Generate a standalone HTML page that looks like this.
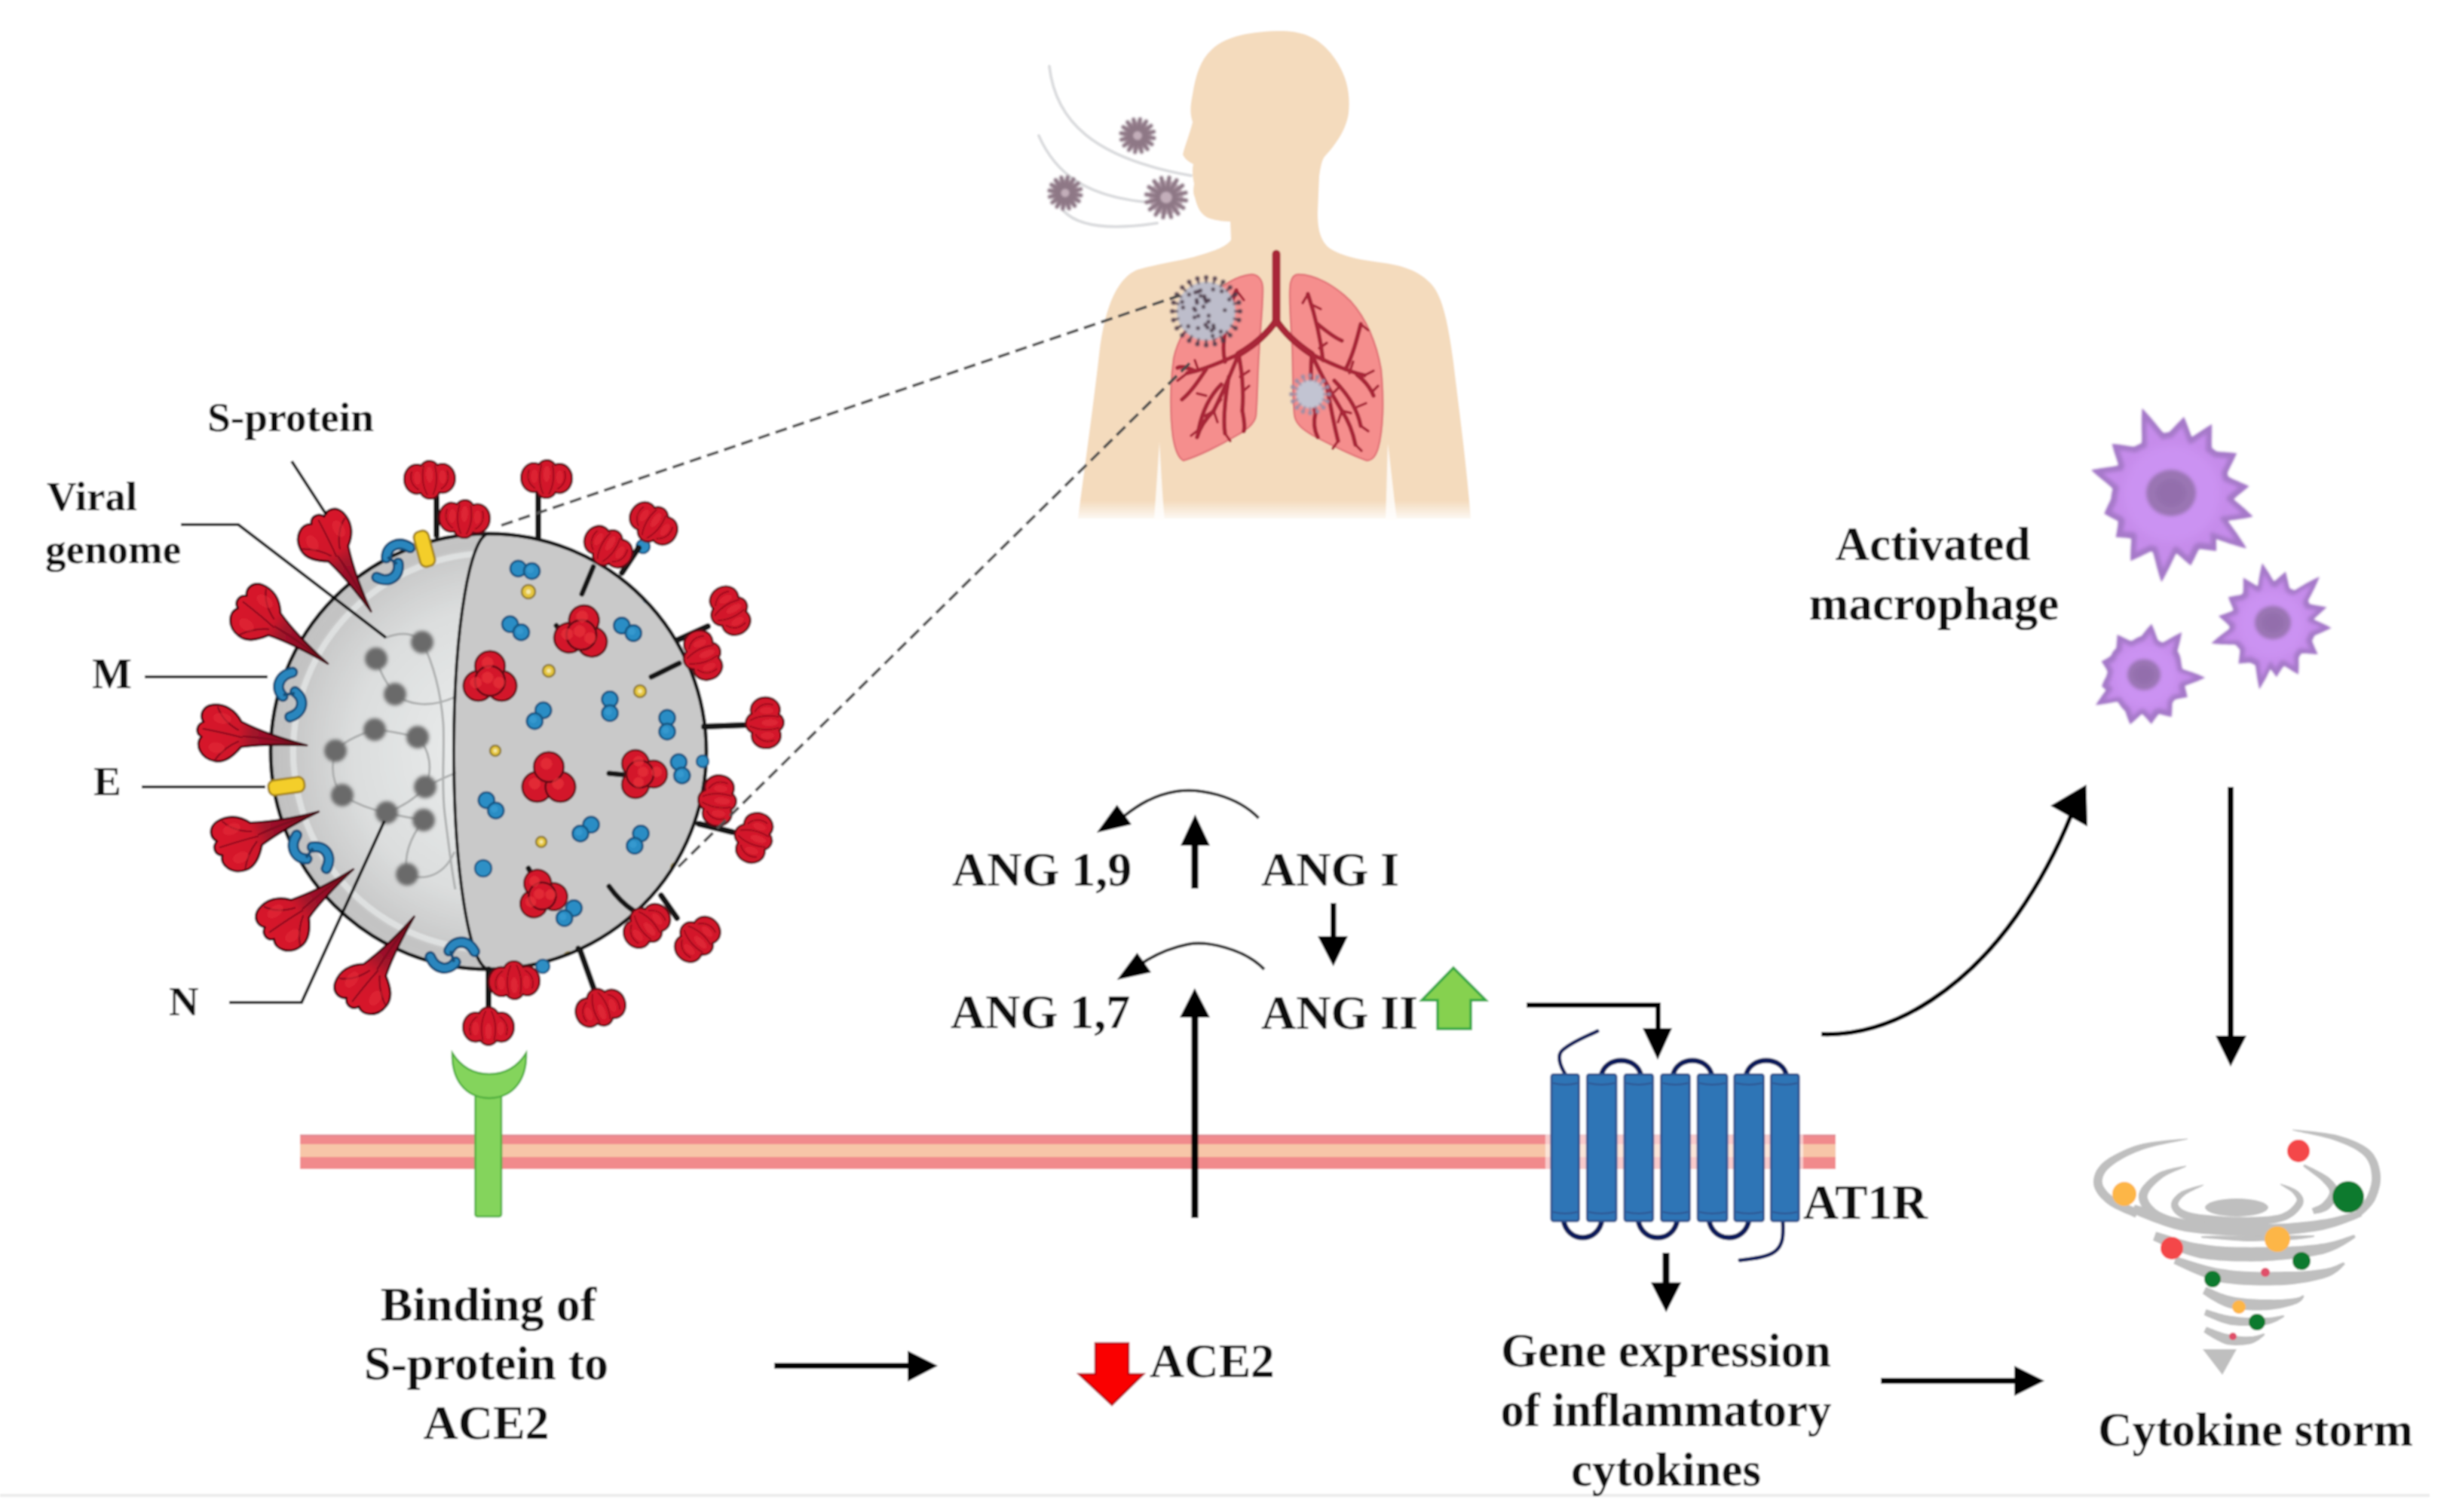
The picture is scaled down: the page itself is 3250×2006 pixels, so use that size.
<!DOCTYPE html>
<html><head><meta charset="utf-8">
<style>
html,body{margin:0;padding:0;background:#fff;width:3250px;height:2006px;overflow:hidden}
svg{display:block}
text{font-family:"Liberation Serif",serif;font-weight:bold;fill:#0a0a0a}
</style></head><body>
<svg width="3250" height="2006" viewBox="0 0 3250 2006">
<defs><filter id="gblur" x="0" y="0" width="3250" height="2006" filterUnits="userSpaceOnUse"><feGaussianBlur stdDeviation="0.8"/></filter></defs><g filter="url(#gblur)"><defs>
<radialGradient id="vgrad" cx="0.52" cy="0.5" r="0.55">
<stop offset="0" stop-color="#eceeee"/><stop offset="0.6" stop-color="#dcdede"/><stop offset="0.9" stop-color="#c4c4c4"/><stop offset="1" stop-color="#b8b8b8"/>
</radialGradient>
<filter id="blur2" x="-20%" y="-20%" width="140%" height="140%"><feGaussianBlur stdDeviation="2"/></filter>
<filter id="blur1" x="-20%" y="-20%" width="140%" height="140%"><feGaussianBlur stdDeviation="1"/></filter>
<filter id="blur4" x="-30%" y="-30%" width="160%" height="160%"><feGaussianBlur stdDeviation="4"/></filter>
</defs>
<rect width="3250" height="2006" fill="#fff"/>
<rect x="0" y="1982" width="3223" height="4" fill="#ebebeb"/>

<g id="human">
<path d="M1702,41 C1660,41 1625,48 1607,66 C1592,80 1586,100 1582,125 C1579,140 1578,150 1582,162 C1578,178 1572,192 1569,205 C1572,212 1578,215 1583,218 C1581,225 1582,235 1584,244 C1583,250 1582,256 1585,262 C1588,275 1593,286 1605,290 C1615,293 1625,294 1632,294 L1633,318 C1628,326 1615,332 1583,341 C1560,347 1535,350 1508,358 C1485,368 1466,400 1458,470 C1450,540 1440,610 1430,688 L1951,688 C1945,610 1935,540 1928,480 C1920,420 1912,390 1897,375 C1880,358 1860,352 1830,348 C1795,344 1770,336 1760,326 C1750,315 1748,300 1748,282 L1750,234 C1752,220 1754,212 1757,208 C1772,192 1786,172 1789,150 C1792,120 1785,95 1765,70 C1748,50 1730,42 1702,41 Z" fill="#F4DBBD"/>
<path d="M1538,586 C1536,620 1533,660 1531,690 L1545,690 C1542,660 1540,620 1538,586 Z" fill="#FDF8F2"/>
<path d="M1841,588 C1840,620 1839,660 1838,690 L1853,690 C1849,660 1845,620 1841,588 Z" fill="#FDF8F2"/>
<defs><linearGradient id="hfade" x1="0" y1="0" x2="0" y2="1"><stop offset="0" stop-color="#fff" stop-opacity="0"/><stop offset="1" stop-color="#fff" stop-opacity="0.95"/></linearGradient></defs><rect x="1420" y="664" width="540" height="28" fill="url(#hfade)"/>
<g fill="none" stroke="#DCDDDF" stroke-width="4" stroke-linecap="round">
<path d="M1392,88 C1400,160 1450,210 1580,233"/>
<path d="M1378,180 C1400,230 1440,260 1519,268"/>
<path d="M1411,280 C1430,300 1470,306 1535,296"/>
</g>
<path d="M1660,364 C1640,366 1620,378 1600,400 C1578,425 1562,450 1557,475 C1552,510 1552,550 1556,580 C1559,598 1563,608 1570,611 C1590,605 1620,590 1640,578 C1655,570 1664,562 1666,552 C1668,530 1668,500 1670,470 C1672,430 1676,400 1675,380 C1674,370 1668,364 1660,364 Z" fill="#F58E8D" stroke="#E2767A" stroke-width="2.5"/>
<path d="M1722,364 C1744,364 1770,378 1792,400 C1812,422 1826,455 1832,490 C1836,530 1835,570 1828,595 C1825,605 1820,611 1813,611 C1795,605 1765,590 1742,578 C1728,570 1718,562 1717,550 C1714,520 1716,480 1713,440 C1711,410 1710,385 1712,375 C1714,367 1718,364 1722,364 Z" fill="#F58E8D" stroke="#E2767A" stroke-width="2.5"/>
<g fill="none" stroke="#A82638" stroke-linecap="round" stroke-linejoin="round">
<path d="M1693,337 L1693,428" stroke-width="11"/>
<path d="M1693,425 C1680,445 1660,460 1643,470" stroke-width="9"/>
<path d="M1693,425 C1706,445 1725,460 1740,470" stroke-width="9"/>
<path d="M1643,470 C1625,478 1600,490 1575,495" stroke-width="5.5"/>
<path d="M1643,470 C1635,490 1625,515 1610,545" stroke-width="5.5"/>
<path d="M1643,470 C1648,495 1650,520 1648,545" stroke-width="5.5"/>
<path d="M1625,480 C1620,460 1625,420 1640,385" stroke-width="5.5"/>
<path d="M1600,490 C1590,505 1580,520 1568,530" stroke-width="5.5"/>
<path d="M1620,510 C1605,525 1595,545 1590,570" stroke-width="5.5"/>
<path d="M1610,545 C1600,555 1592,565 1588,580" stroke-width="5.5"/>
<path d="M1630,500 C1625,530 1622,555 1625,575" stroke-width="5.5"/>
<path d="M1648,545 C1650,555 1652,565 1650,572" stroke-width="5.5"/>
<path d="M1632,420 C1625,432 1620,440 1612,448" stroke-width="5.5"/>
<path d="M1585,492 C1575,488 1568,485 1562,488" stroke-width="5.5"/>
<path d="M1740,470 C1760,480 1785,492 1810,498" stroke-width="5.5"/>
<path d="M1740,470 C1750,492 1765,520 1780,545" stroke-width="5.5"/>
<path d="M1740,470 C1738,495 1740,525 1745,548" stroke-width="5.5"/>
<path d="M1755,478 C1752,450 1745,420 1735,390" stroke-width="5.5"/>
<path d="M1785,490 C1795,470 1800,450 1805,430" stroke-width="5.5"/>
<path d="M1770,505 C1785,520 1800,540 1805,565" stroke-width="5.5"/>
<path d="M1780,545 C1790,560 1795,575 1798,590" stroke-width="5.5"/>
<path d="M1760,510 C1765,540 1770,565 1775,585" stroke-width="5.5"/>
<path d="M1800,497 C1810,505 1818,515 1822,525" stroke-width="5.5"/>
<path d="M1748,430 C1760,440 1770,448 1780,452" stroke-width="5.5"/>
<path d="M1745,548 C1742,560 1744,572 1748,580" stroke-width="5.5"/>
<path d="M1575,495 L1562,505" stroke-width="3.5"/>
<path d="M1590,492 L1585,478" stroke-width="3.5"/>
<path d="M1610,545 L1598,552" stroke-width="3.5"/>
<path d="M1610,545 L1615,560" stroke-width="3.5"/>
<path d="M1600,525 L1588,522" stroke-width="3.5"/>
<path d="M1625,575 L1632,585" stroke-width="3.5"/>
<path d="M1620,530 L1612,540" stroke-width="3.5"/>
<path d="M1640,385 L1650,398" stroke-width="3.5"/>
<path d="M1636,400 L1626,405" stroke-width="3.5"/>
<path d="M1648,520 L1657,512" stroke-width="3.5"/>
<path d="M1645,500 L1657,492" stroke-width="3.5"/>
<path d="M1590,570 L1580,578" stroke-width="3.5"/>
<path d="M1810,498 L1822,492" stroke-width="3.5"/>
<path d="M1790,495 L1795,480" stroke-width="3.5"/>
<path d="M1780,545 L1792,548" stroke-width="3.5"/>
<path d="M1780,545 L1775,560" stroke-width="3.5"/>
<path d="M1800,540 L1812,535" stroke-width="3.5"/>
<path d="M1775,585 L1768,595" stroke-width="3.5"/>
<path d="M1770,520 L1778,512" stroke-width="3.5"/>
<path d="M1735,390 L1728,402" stroke-width="3.5"/>
<path d="M1742,405 L1752,410" stroke-width="3.5"/>
<path d="M1745,520 L1735,512" stroke-width="3.5"/>
<path d="M1805,565 L1815,572" stroke-width="3.5"/>
<path d="M1798,590 L1806,598" stroke-width="3.5"/>
<path d="M1805,430 L1815,438" stroke-width="3.5"/>
<path d="M1760,455 L1750,462" stroke-width="3.5"/>
<path d="M1820,520 L1828,512" stroke-width="3.5"/>
</g>
<g filter="url(#blur1)"><circle cx="1509" cy="180" r="18.7" fill="#C3AEBA"/><line x1="1517.3" y1="181.3" x2="1530.8" y2="183.3" stroke="#8E7886" stroke-width="5.5" stroke-linecap="round"/><line x1="1516.2" y1="184.3" x2="1527.9" y2="191.4" stroke="#8E7886" stroke-width="5.5" stroke-linecap="round"/><line x1="1514" y1="186.8" x2="1522.1" y2="197.8" stroke="#8E7886" stroke-width="5.5" stroke-linecap="round"/><line x1="1511" y1="188.2" x2="1514.3" y2="201.4" stroke="#8E7886" stroke-width="5.5" stroke-linecap="round"/><line x1="1507.7" y1="188.3" x2="1505.7" y2="201.8" stroke="#8E7886" stroke-width="5.5" stroke-linecap="round"/><line x1="1504.7" y1="187.2" x2="1497.6" y2="198.9" stroke="#8E7886" stroke-width="5.5" stroke-linecap="round"/><line x1="1502.2" y1="185" x2="1491.2" y2="193.1" stroke="#8E7886" stroke-width="5.5" stroke-linecap="round"/><line x1="1500.8" y1="182" x2="1487.6" y2="185.3" stroke="#8E7886" stroke-width="5.5" stroke-linecap="round"/><line x1="1500.7" y1="178.7" x2="1487.2" y2="176.7" stroke="#8E7886" stroke-width="5.5" stroke-linecap="round"/><line x1="1501.8" y1="175.7" x2="1490.1" y2="168.6" stroke="#8E7886" stroke-width="5.5" stroke-linecap="round"/><line x1="1504" y1="173.2" x2="1495.9" y2="162.2" stroke="#8E7886" stroke-width="5.5" stroke-linecap="round"/><line x1="1507" y1="171.8" x2="1503.7" y2="158.6" stroke="#8E7886" stroke-width="5.5" stroke-linecap="round"/><line x1="1510.3" y1="171.7" x2="1512.3" y2="158.2" stroke="#8E7886" stroke-width="5.5" stroke-linecap="round"/><line x1="1513.3" y1="172.8" x2="1520.4" y2="161.1" stroke="#8E7886" stroke-width="5.5" stroke-linecap="round"/><line x1="1515.8" y1="175" x2="1526.8" y2="166.9" stroke="#8E7886" stroke-width="5.5" stroke-linecap="round"/><line x1="1517.2" y1="178" x2="1530.4" y2="174.7" stroke="#8E7886" stroke-width="5.5" stroke-linecap="round"/></g>
<g filter="url(#blur1)"><circle cx="1413" cy="256" r="17.9" fill="#C3AEBA"/><line x1="1421" y1="257.2" x2="1433.9" y2="259.2" stroke="#8E7886" stroke-width="5.5" stroke-linecap="round"/><line x1="1419.9" y1="260.2" x2="1431.1" y2="266.9" stroke="#8E7886" stroke-width="5.5" stroke-linecap="round"/><line x1="1417.8" y1="262.5" x2="1425.6" y2="273" stroke="#8E7886" stroke-width="5.5" stroke-linecap="round"/><line x1="1414.9" y1="263.8" x2="1418.1" y2="276.5" stroke="#8E7886" stroke-width="5.5" stroke-linecap="round"/><line x1="1411.8" y1="264" x2="1409.8" y2="276.9" stroke="#8E7886" stroke-width="5.5" stroke-linecap="round"/><line x1="1408.8" y1="262.9" x2="1402.1" y2="274.1" stroke="#8E7886" stroke-width="5.5" stroke-linecap="round"/><line x1="1406.5" y1="260.8" x2="1396" y2="268.6" stroke="#8E7886" stroke-width="5.5" stroke-linecap="round"/><line x1="1405.2" y1="257.9" x2="1392.5" y2="261.1" stroke="#8E7886" stroke-width="5.5" stroke-linecap="round"/><line x1="1405" y1="254.8" x2="1392.1" y2="252.8" stroke="#8E7886" stroke-width="5.5" stroke-linecap="round"/><line x1="1406.1" y1="251.8" x2="1394.9" y2="245.1" stroke="#8E7886" stroke-width="5.5" stroke-linecap="round"/><line x1="1408.2" y1="249.5" x2="1400.4" y2="239" stroke="#8E7886" stroke-width="5.5" stroke-linecap="round"/><line x1="1411.1" y1="248.2" x2="1407.9" y2="235.5" stroke="#8E7886" stroke-width="5.5" stroke-linecap="round"/><line x1="1414.2" y1="248" x2="1416.2" y2="235.1" stroke="#8E7886" stroke-width="5.5" stroke-linecap="round"/><line x1="1417.2" y1="249.1" x2="1423.9" y2="237.9" stroke="#8E7886" stroke-width="5.5" stroke-linecap="round"/><line x1="1419.5" y1="251.2" x2="1430" y2="243.4" stroke="#8E7886" stroke-width="5.5" stroke-linecap="round"/><line x1="1420.8" y1="254.1" x2="1433.5" y2="250.9" stroke="#8E7886" stroke-width="5.5" stroke-linecap="round"/></g>
<g filter="url(#blur1)"><circle cx="1547" cy="262" r="22.6" fill="#C3AEBA"/><line x1="1557" y1="263.5" x2="1573.4" y2="266" stroke="#8E7886" stroke-width="5.5" stroke-linecap="round"/><line x1="1555.7" y1="267.2" x2="1569.8" y2="275.8" stroke="#8E7886" stroke-width="5.5" stroke-linecap="round"/><line x1="1553" y1="270.2" x2="1562.8" y2="283.5" stroke="#8E7886" stroke-width="5.5" stroke-linecap="round"/><line x1="1549.4" y1="271.9" x2="1553.4" y2="287.9" stroke="#8E7886" stroke-width="5.5" stroke-linecap="round"/><line x1="1545.5" y1="272" x2="1543" y2="288.4" stroke="#8E7886" stroke-width="5.5" stroke-linecap="round"/><line x1="1541.8" y1="270.7" x2="1533.2" y2="284.8" stroke="#8E7886" stroke-width="5.5" stroke-linecap="round"/><line x1="1538.8" y1="268" x2="1525.5" y2="277.8" stroke="#8E7886" stroke-width="5.5" stroke-linecap="round"/><line x1="1537.1" y1="264.4" x2="1521.1" y2="268.4" stroke="#8E7886" stroke-width="5.5" stroke-linecap="round"/><line x1="1537" y1="260.5" x2="1520.6" y2="258" stroke="#8E7886" stroke-width="5.5" stroke-linecap="round"/><line x1="1538.3" y1="256.8" x2="1524.2" y2="248.2" stroke="#8E7886" stroke-width="5.5" stroke-linecap="round"/><line x1="1541" y1="253.8" x2="1531.2" y2="240.5" stroke="#8E7886" stroke-width="5.5" stroke-linecap="round"/><line x1="1544.6" y1="252.1" x2="1540.6" y2="236.1" stroke="#8E7886" stroke-width="5.5" stroke-linecap="round"/><line x1="1548.5" y1="252" x2="1551" y2="235.6" stroke="#8E7886" stroke-width="5.5" stroke-linecap="round"/><line x1="1552.2" y1="253.3" x2="1560.8" y2="239.2" stroke="#8E7886" stroke-width="5.5" stroke-linecap="round"/><line x1="1555.2" y1="256" x2="1568.5" y2="246.2" stroke="#8E7886" stroke-width="5.5" stroke-linecap="round"/><line x1="1556.9" y1="259.6" x2="1572.9" y2="255.6" stroke="#8E7886" stroke-width="5.5" stroke-linecap="round"/></g>
<g filter="url(#blur1)"><circle cx="1600" cy="413" r="39" fill="#BDBDCB"/><line x1="1637" y1="413" x2="1645" y2="413" stroke="#4E3A4A" stroke-width="2.6"/><circle cx="1645" cy="413" r="2.8" fill="#4E3A4A"/><line x1="1635.7" y1="422.6" x2="1643.5" y2="424.6" stroke="#4E3A4A" stroke-width="2.6"/><circle cx="1643.5" cy="424.6" r="2.8" fill="#4E3A4A"/><line x1="1632" y1="431.5" x2="1639" y2="435.5" stroke="#4E3A4A" stroke-width="2.6"/><circle cx="1639" cy="435.5" r="2.8" fill="#4E3A4A"/><line x1="1626.2" y1="439.2" x2="1631.8" y2="444.8" stroke="#4E3A4A" stroke-width="2.6"/><circle cx="1631.8" cy="444.8" r="2.8" fill="#4E3A4A"/><line x1="1618.5" y1="445" x2="1622.5" y2="452" stroke="#4E3A4A" stroke-width="2.6"/><circle cx="1622.5" cy="452" r="2.8" fill="#4E3A4A"/><line x1="1609.6" y1="448.7" x2="1611.6" y2="456.5" stroke="#4E3A4A" stroke-width="2.6"/><circle cx="1611.6" cy="456.5" r="2.8" fill="#4E3A4A"/><line x1="1600" y1="450" x2="1600" y2="458" stroke="#4E3A4A" stroke-width="2.6"/><circle cx="1600" cy="458" r="2.8" fill="#4E3A4A"/><line x1="1590.4" y1="448.7" x2="1588.4" y2="456.5" stroke="#4E3A4A" stroke-width="2.6"/><circle cx="1588.4" cy="456.5" r="2.8" fill="#4E3A4A"/><line x1="1581.5" y1="445" x2="1577.5" y2="452" stroke="#4E3A4A" stroke-width="2.6"/><circle cx="1577.5" cy="452" r="2.8" fill="#4E3A4A"/><line x1="1573.8" y1="439.2" x2="1568.2" y2="444.8" stroke="#4E3A4A" stroke-width="2.6"/><circle cx="1568.2" cy="444.8" r="2.8" fill="#4E3A4A"/><line x1="1568" y1="431.5" x2="1561" y2="435.5" stroke="#4E3A4A" stroke-width="2.6"/><circle cx="1561" cy="435.5" r="2.8" fill="#4E3A4A"/><line x1="1564.3" y1="422.6" x2="1556.5" y2="424.6" stroke="#4E3A4A" stroke-width="2.6"/><circle cx="1556.5" cy="424.6" r="2.8" fill="#4E3A4A"/><line x1="1563" y1="413" x2="1555" y2="413" stroke="#4E3A4A" stroke-width="2.6"/><circle cx="1555" cy="413" r="2.8" fill="#4E3A4A"/><line x1="1564.3" y1="403.4" x2="1556.5" y2="401.4" stroke="#4E3A4A" stroke-width="2.6"/><circle cx="1556.5" cy="401.4" r="2.8" fill="#4E3A4A"/><line x1="1568" y1="394.5" x2="1561" y2="390.5" stroke="#4E3A4A" stroke-width="2.6"/><circle cx="1561" cy="390.5" r="2.8" fill="#4E3A4A"/><line x1="1573.8" y1="386.8" x2="1568.2" y2="381.2" stroke="#4E3A4A" stroke-width="2.6"/><circle cx="1568.2" cy="381.2" r="2.8" fill="#4E3A4A"/><line x1="1581.5" y1="381" x2="1577.5" y2="374" stroke="#4E3A4A" stroke-width="2.6"/><circle cx="1577.5" cy="374" r="2.8" fill="#4E3A4A"/><line x1="1590.4" y1="377.3" x2="1588.4" y2="369.5" stroke="#4E3A4A" stroke-width="2.6"/><circle cx="1588.4" cy="369.5" r="2.8" fill="#4E3A4A"/><line x1="1600" y1="376" x2="1600" y2="368" stroke="#4E3A4A" stroke-width="2.6"/><circle cx="1600" cy="368" r="2.8" fill="#4E3A4A"/><line x1="1609.6" y1="377.3" x2="1611.6" y2="369.5" stroke="#4E3A4A" stroke-width="2.6"/><circle cx="1611.6" cy="369.5" r="2.8" fill="#4E3A4A"/><line x1="1618.5" y1="381" x2="1622.5" y2="374" stroke="#4E3A4A" stroke-width="2.6"/><circle cx="1622.5" cy="374" r="2.8" fill="#4E3A4A"/><line x1="1626.2" y1="386.8" x2="1631.8" y2="381.2" stroke="#4E3A4A" stroke-width="2.6"/><circle cx="1631.8" cy="381.2" r="2.8" fill="#4E3A4A"/><line x1="1632" y1="394.5" x2="1639" y2="390.5" stroke="#4E3A4A" stroke-width="2.6"/><circle cx="1639" cy="390.5" r="2.8" fill="#4E3A4A"/><line x1="1635.7" y1="403.4" x2="1643.5" y2="401.4" stroke="#4E3A4A" stroke-width="2.6"/><circle cx="1643.5" cy="401.4" r="2.8" fill="#4E3A4A"/><circle cx="1609.6" cy="431.9" r="2.6" fill="#4E3A4A"/><circle cx="1597.6" cy="393.2" r="2.6" fill="#4E3A4A"/><circle cx="1603.4" cy="418.8" r="2.6" fill="#4E3A4A"/><circle cx="1620.7" cy="386.4" r="2.6" fill="#4E3A4A"/><circle cx="1609.2" cy="383.9" r="2.6" fill="#4E3A4A"/><circle cx="1577.3" cy="390.8" r="2.6" fill="#4E3A4A"/><circle cx="1603.1" cy="426.9" r="2.6" fill="#4E3A4A"/><circle cx="1630.7" cy="397.3" r="2.6" fill="#4E3A4A"/><circle cx="1589.2" cy="386.9" r="2.6" fill="#4E3A4A"/><circle cx="1584.5" cy="421" r="2.6" fill="#4E3A4A"/><circle cx="1587.4" cy="398.2" r="2.6" fill="#4E3A4A"/><circle cx="1624.8" cy="411.5" r="2.6" fill="#4E3A4A"/><circle cx="1585.6" cy="411.5" r="2.6" fill="#4E3A4A"/><circle cx="1619.5" cy="439.9" r="2.6" fill="#4E3A4A"/><circle cx="1589.6" cy="419.1" r="2.6" fill="#4E3A4A"/><circle cx="1576.3" cy="432.9" r="2.6" fill="#4E3A4A"/><circle cx="1587.9" cy="401.7" r="2.6" fill="#4E3A4A"/><circle cx="1601.9" cy="434.5" r="2.6" fill="#4E3A4A"/><circle cx="1568.1" cy="400.6" r="2.6" fill="#4E3A4A"/><circle cx="1608.6" cy="445.6" r="2.6" fill="#4E3A4A"/><circle cx="1603.5" cy="398.4" r="2.6" fill="#4E3A4A"/><circle cx="1585.7" cy="387.8" r="2.6" fill="#4E3A4A"/><circle cx="1592.7" cy="392.5" r="2.6" fill="#4E3A4A"/><circle cx="1607.3" cy="438.5" r="2.6" fill="#4E3A4A"/><circle cx="1596.5" cy="406.9" r="2.6" fill="#4E3A4A"/><circle cx="1610.2" cy="435.5" r="2.6" fill="#4E3A4A"/><circle cx="1569.3" cy="407.9" r="2.6" fill="#4E3A4A"/><circle cx="1584" cy="409.3" r="2.6" fill="#4E3A4A"/><circle cx="1599.1" cy="430.9" r="2.6" fill="#4E3A4A"/><circle cx="1598.4" cy="396.7" r="2.6" fill="#4E3A4A"/><circle cx="1592.5" cy="385.4" r="2.6" fill="#4E3A4A"/><circle cx="1599.9" cy="400.4" r="2.6" fill="#4E3A4A"/><circle cx="1589.2" cy="435.3" r="2.6" fill="#4E3A4A"/></g>
<g filter="url(#blur1)"><circle cx="1738" cy="523" r="19" fill="#C2C4D2"/><line x1="1755" y1="523" x2="1763" y2="523" stroke="#9A8EA6" stroke-width="2.6"/><circle cx="1763" cy="523" r="2.8" fill="#9A8EA6"/><line x1="1753.7" y1="529.5" x2="1761.1" y2="532.6" stroke="#9A8EA6" stroke-width="2.6"/><circle cx="1761.1" cy="532.6" r="2.8" fill="#9A8EA6"/><line x1="1750" y1="535" x2="1755.7" y2="540.7" stroke="#9A8EA6" stroke-width="2.6"/><circle cx="1755.7" cy="540.7" r="2.8" fill="#9A8EA6"/><line x1="1744.5" y1="538.7" x2="1747.6" y2="546.1" stroke="#9A8EA6" stroke-width="2.6"/><circle cx="1747.6" cy="546.1" r="2.8" fill="#9A8EA6"/><line x1="1738" y1="540" x2="1738" y2="548" stroke="#9A8EA6" stroke-width="2.6"/><circle cx="1738" cy="548" r="2.8" fill="#9A8EA6"/><line x1="1731.5" y1="538.7" x2="1728.4" y2="546.1" stroke="#9A8EA6" stroke-width="2.6"/><circle cx="1728.4" cy="546.1" r="2.8" fill="#9A8EA6"/><line x1="1726" y1="535" x2="1720.3" y2="540.7" stroke="#9A8EA6" stroke-width="2.6"/><circle cx="1720.3" cy="540.7" r="2.8" fill="#9A8EA6"/><line x1="1722.3" y1="529.5" x2="1714.9" y2="532.6" stroke="#9A8EA6" stroke-width="2.6"/><circle cx="1714.9" cy="532.6" r="2.8" fill="#9A8EA6"/><line x1="1721" y1="523" x2="1713" y2="523" stroke="#9A8EA6" stroke-width="2.6"/><circle cx="1713" cy="523" r="2.8" fill="#9A8EA6"/><line x1="1722.3" y1="516.5" x2="1714.9" y2="513.4" stroke="#9A8EA6" stroke-width="2.6"/><circle cx="1714.9" cy="513.4" r="2.8" fill="#9A8EA6"/><line x1="1726" y1="511" x2="1720.3" y2="505.3" stroke="#9A8EA6" stroke-width="2.6"/><circle cx="1720.3" cy="505.3" r="2.8" fill="#9A8EA6"/><line x1="1731.5" y1="507.3" x2="1728.4" y2="499.9" stroke="#9A8EA6" stroke-width="2.6"/><circle cx="1728.4" cy="499.9" r="2.8" fill="#9A8EA6"/><line x1="1738" y1="506" x2="1738" y2="498" stroke="#9A8EA6" stroke-width="2.6"/><circle cx="1738" cy="498" r="2.8" fill="#9A8EA6"/><line x1="1744.5" y1="507.3" x2="1747.6" y2="499.9" stroke="#9A8EA6" stroke-width="2.6"/><circle cx="1747.6" cy="499.9" r="2.8" fill="#9A8EA6"/><line x1="1750" y1="511" x2="1755.7" y2="505.3" stroke="#9A8EA6" stroke-width="2.6"/><circle cx="1755.7" cy="505.3" r="2.8" fill="#9A8EA6"/><line x1="1753.7" y1="516.5" x2="1761.1" y2="513.4" stroke="#9A8EA6" stroke-width="2.6"/><circle cx="1761.1" cy="513.4" r="2.8" fill="#9A8EA6"/></g>
</g>
<g id="virus">
<clipPath id="vclip"><circle cx="648" cy="997" r="289"/></clipPath>
<circle cx="648" cy="997" r="289" fill="url(#vgrad)"/>
<g clip-path="url(#vclip)">
<circle cx="652" cy="997" r="263" fill="none" stroke="#e4e6e6" stroke-width="8" opacity="0.8"/>
<circle cx="652" cy="997" r="275" fill="none" stroke="#c2c2c2" stroke-width="10" opacity="0.7"/>
<path d="M650,706 A47,291 0 0 0 650,1288 L1000,1288 L1000,706 Z" fill="#C9C9C9"/>
</g>
<g fill="none" stroke="#A9ABAB" stroke-width="3" opacity="0.9">
<path d="M512,846 C540,835 555,845 560,852"/>
<path d="M560,852 C575,880 585,920 588,960 C590,1000 585,1040 590,1080 C595,1120 600,1160 604,1180"/>
<path d="M499,874 C505,895 515,910 524,921"/>
<path d="M524,921 C540,935 570,940 603,925"/>
<path d="M497,968 C520,970 540,975 554,978"/>
<path d="M497,968 C475,975 455,985 445,996"/>
<path d="M445,996 C438,1020 442,1040 454,1055"/>
<path d="M454,1055 C475,1068 495,1075 513,1078"/>
<path d="M513,1078 C535,1070 550,1060 564,1045"/>
<path d="M554,978 C570,995 575,1020 564,1045"/>
<path d="M564,1045 C580,1035 595,1030 605,1025"/>
<path d="M562,1088 C545,1110 535,1135 540,1160"/>
<path d="M540,1160 C565,1170 590,1160 603,1130"/>
<path d="M513,1078 C525,1082 545,1085 562,1088"/>
</g>
<g fill="#6a6b6b" filter="url(#blur2)">
<circle cx="499" cy="874" r="15"/>
<circle cx="560" cy="852" r="15"/>
<circle cx="524" cy="921" r="15"/>
<circle cx="497" cy="968" r="15"/>
<circle cx="554" cy="978" r="15"/>
<circle cx="445" cy="996" r="15"/>
<circle cx="564" cy="1044" r="15"/>
<circle cx="454" cy="1055" r="15"/>
<circle cx="513" cy="1078" r="15"/>
<circle cx="562" cy="1088" r="15"/>
<circle cx="540" cy="1160" r="15"/>
</g>
<g clip-path="url(#vclip)">
<g stroke="#151515" stroke-width="7" stroke-linecap="round" fill="none">
<path d="M787,752 L772,788"/>
<path d="M901,880 C890,885 875,893 864,898"/>
<path d="M808,1026 L828,1028"/>
<path d="M701,1152 L712,1172"/>
<path d="M808,1176 C818,1190 828,1200 840,1208"/>
<path d="M767,1258 L780,1290"/>
<path d="M738,830 L745,840"/>
</g>
<circle cx="687.5" cy="754.3" r="10.5" fill="#2A8DC5" stroke="#185683" stroke-width="2.8"/><circle cx="705.5" cy="757.7" r="10.5" fill="#2A8DC5" stroke="#185683" stroke-width="2.8"/><circle cx="703.5" cy="755.7" r="4.7" fill="#3FA2D6" opacity="0.6"/>
<circle cx="676.6" cy="828.1" r="10.5" fill="#2A8DC5" stroke="#185683" stroke-width="2.8"/><circle cx="691.4" cy="838.9" r="10.5" fill="#2A8DC5" stroke="#185683" stroke-width="2.8"/><circle cx="689.4" cy="836.9" r="4.7" fill="#3FA2D6" opacity="0.6"/>
<circle cx="824.8" cy="830" r="10.5" fill="#2A8DC5" stroke="#185683" stroke-width="2.8"/><circle cx="840.2" cy="840" r="10.5" fill="#2A8DC5" stroke="#185683" stroke-width="2.8"/><circle cx="838.2" cy="838" r="4.7" fill="#3FA2D6" opacity="0.6"/>
<circle cx="720.7" cy="942.3" r="10.5" fill="#2A8DC5" stroke="#185683" stroke-width="2.8"/><circle cx="709.3" cy="956.7" r="10.5" fill="#2A8DC5" stroke="#185683" stroke-width="2.8"/><circle cx="707.3" cy="954.7" r="4.7" fill="#3FA2D6" opacity="0.6"/>
<circle cx="809" cy="927.8" r="10.5" fill="#2A8DC5" stroke="#185683" stroke-width="2.8"/><circle cx="809" cy="946.2" r="10.5" fill="#2A8DC5" stroke="#185683" stroke-width="2.8"/><circle cx="807" cy="944.2" r="4.7" fill="#3FA2D6" opacity="0.6"/>
<circle cx="885" cy="952.3" r="10.5" fill="#2A8DC5" stroke="#185683" stroke-width="2.8"/><circle cx="885" cy="970.7" r="10.5" fill="#2A8DC5" stroke="#185683" stroke-width="2.8"/><circle cx="883" cy="968.7" r="4.7" fill="#3FA2D6" opacity="0.6"/>
<circle cx="645.3" cy="1061.7" r="10.5" fill="#2A8DC5" stroke="#185683" stroke-width="2.8"/><circle cx="657.7" cy="1075.3" r="10.5" fill="#2A8DC5" stroke="#185683" stroke-width="2.8"/><circle cx="655.7" cy="1073.3" r="4.7" fill="#3FA2D6" opacity="0.6"/>
<circle cx="784.1" cy="1094.1" r="10.5" fill="#2A8DC5" stroke="#185683" stroke-width="2.8"/><circle cx="769.9" cy="1105.9" r="10.5" fill="#2A8DC5" stroke="#185683" stroke-width="2.8"/><circle cx="767.9" cy="1103.9" r="4.7" fill="#3FA2D6" opacity="0.6"/>
<circle cx="850.1" cy="1105.8" r="10.5" fill="#2A8DC5" stroke="#185683" stroke-width="2.8"/><circle cx="841.9" cy="1122.2" r="10.5" fill="#2A8DC5" stroke="#185683" stroke-width="2.8"/><circle cx="839.9" cy="1120.2" r="4.7" fill="#3FA2D6" opacity="0.6"/>
<circle cx="761.3" cy="1204.8" r="10.5" fill="#2A8DC5" stroke="#185683" stroke-width="2.8"/><circle cx="748.7" cy="1218.2" r="10.5" fill="#2A8DC5" stroke="#185683" stroke-width="2.8"/><circle cx="746.7" cy="1216.2" r="4.7" fill="#3FA2D6" opacity="0.6"/>
<circle cx="862.5" cy="790.5" r="10.5" fill="#2A8DC5" stroke="#185683" stroke-width="2.8"/><circle cx="875.5" cy="803.5" r="10.5" fill="#2A8DC5" stroke="#185683" stroke-width="2.8"/><circle cx="873.5" cy="801.5" r="4.7" fill="#3FA2D6" opacity="0.6"/>
<circle cx="900.3" cy="1011.1" r="10.5" fill="#2A8DC5" stroke="#185683" stroke-width="2.8"/><circle cx="904.7" cy="1028.9" r="10.5" fill="#2A8DC5" stroke="#185683" stroke-width="2.8"/><circle cx="902.7" cy="1026.9" r="4.7" fill="#3FA2D6" opacity="0.6"/>
<circle cx="641" cy="1152" r="11" fill="#2E90C6" stroke="#1B5A86" stroke-width="2.5"/>
<circle cx="701" cy="785" r="9" fill="#E6C640" stroke="#8F7A2A" stroke-width="2.5"/><circle cx="701" cy="785" r="3.1" fill="#F4E9A8"/>
<circle cx="728" cy="890" r="8" fill="#E6C640" stroke="#8F7A2A" stroke-width="2.5"/><circle cx="728" cy="890" r="2.8" fill="#F4E9A8"/>
<circle cx="849" cy="917" r="8" fill="#E6C640" stroke="#8F7A2A" stroke-width="2.5"/><circle cx="849" cy="917" r="2.8" fill="#F4E9A8"/>
<circle cx="657" cy="996" r="7" fill="#E6C640" stroke="#8F7A2A" stroke-width="2.5"/><circle cx="657" cy="996" r="2.4" fill="#F4E9A8"/>
<circle cx="718" cy="1117" r="7" fill="#E6C640" stroke="#8F7A2A" stroke-width="2.5"/><circle cx="718" cy="1117" r="2.4" fill="#F4E9A8"/>
<circle cx="898" cy="1152" r="8" fill="#E6C640" stroke="#8F7A2A" stroke-width="2.5"/><circle cx="898" cy="1152" r="2.8" fill="#F4E9A8"/>
<circle cx="755" cy="1271" r="8" fill="#E6C640" stroke="#8F7A2A" stroke-width="2.5"/><circle cx="755" cy="1271" r="2.8" fill="#F4E9A8"/>
<g transform="translate(772,838) rotate(10) scale(1.1)"><circle cx="-14" cy="10" r="18" fill="#D3192B" stroke="#5C0A12" stroke-width="2.5"/><circle cx="14" cy="10" r="18" fill="#D3192B" stroke="#5C0A12" stroke-width="2.5"/><circle cx="0" cy="-14" r="18" fill="#D3192B" stroke="#5C0A12" stroke-width="2.5"/><circle cx="0" cy="4" r="18" fill="#D3192B" stroke="#5C0A12" stroke-width="2.5"/><circle cx="-17" cy="6" r="7" fill="#E8303C" opacity="0.7"/><circle cx="11" cy="6" r="7" fill="#E8303C" opacity="0.7"/><circle cx="-3" cy="-18" r="7" fill="#E8303C" opacity="0.7"/><circle cx="-3" cy="0" r="7" fill="#E8303C" opacity="0.7"/></g>
<g transform="translate(650,899) rotate(0) scale(1.1)"><circle cx="-14" cy="10" r="18" fill="#D3192B" stroke="#5C0A12" stroke-width="2.5"/><circle cx="14" cy="10" r="18" fill="#D3192B" stroke="#5C0A12" stroke-width="2.5"/><circle cx="0" cy="-14" r="18" fill="#D3192B" stroke="#5C0A12" stroke-width="2.5"/><circle cx="0" cy="4" r="18" fill="#D3192B" stroke="#5C0A12" stroke-width="2.5"/><circle cx="-17" cy="6" r="7" fill="#E8303C" opacity="0.7"/><circle cx="11" cy="6" r="7" fill="#E8303C" opacity="0.7"/><circle cx="-3" cy="-18" r="7" fill="#E8303C" opacity="0.7"/><circle cx="-3" cy="0" r="7" fill="#E8303C" opacity="0.7"/></g>
<g transform="translate(728,1033) rotate(0) scale(1.1)"><circle cx="-14" cy="10" r="18" fill="#D3192B" stroke="#5C0A12" stroke-width="2.5"/><circle cx="14" cy="10" r="18" fill="#D3192B" stroke="#5C0A12" stroke-width="2.5"/><circle cx="0" cy="-14" r="18" fill="#D3192B" stroke="#5C0A12" stroke-width="2.5"/><circle cx="-17" cy="6" r="7" fill="#E8303C" opacity="0.7"/><circle cx="11" cy="6" r="7" fill="#E8303C" opacity="0.7"/><circle cx="-3" cy="-18" r="7" fill="#E8303C" opacity="0.7"/></g>
<g transform="translate(853,1027) rotate(90) scale(1)"><circle cx="-14" cy="10" r="18" fill="#D3192B" stroke="#5C0A12" stroke-width="2.5"/><circle cx="14" cy="10" r="18" fill="#D3192B" stroke="#5C0A12" stroke-width="2.5"/><circle cx="0" cy="-14" r="18" fill="#D3192B" stroke="#5C0A12" stroke-width="2.5"/><circle cx="0" cy="4" r="18" fill="#D3192B" stroke="#5C0A12" stroke-width="2.5"/><circle cx="-17" cy="6" r="7" fill="#E8303C" opacity="0.7"/><circle cx="11" cy="6" r="7" fill="#E8303C" opacity="0.7"/><circle cx="-3" cy="-18" r="7" fill="#E8303C" opacity="0.7"/><circle cx="-3" cy="0" r="7" fill="#E8303C" opacity="0.7"/></g>
<g transform="translate(718,1185) rotate(-20) scale(1)"><circle cx="-14" cy="10" r="18" fill="#D3192B" stroke="#5C0A12" stroke-width="2.5"/><circle cx="14" cy="10" r="18" fill="#D3192B" stroke="#5C0A12" stroke-width="2.5"/><circle cx="0" cy="-14" r="18" fill="#D3192B" stroke="#5C0A12" stroke-width="2.5"/><circle cx="0" cy="4" r="18" fill="#D3192B" stroke="#5C0A12" stroke-width="2.5"/><circle cx="-17" cy="6" r="7" fill="#E8303C" opacity="0.7"/><circle cx="11" cy="6" r="7" fill="#E8303C" opacity="0.7"/><circle cx="-3" cy="-18" r="7" fill="#E8303C" opacity="0.7"/><circle cx="-3" cy="0" r="7" fill="#E8303C" opacity="0.7"/></g>
</g>
<path d="M650,708 A47,289 0 0 0 648,1286" fill="none" stroke="#141414" stroke-width="4"/>
<circle cx="648" cy="997" r="289" fill="none" stroke="#141414" stroke-width="5"/>
<g transform="translate(520,745) rotate(60)"><path d="M-4,-30 C-20,-22 -22,-4 -8,4" fill="none" stroke="#174E78" stroke-width="15" stroke-linecap="round"/><path d="M-4,-30 C-20,-22 -22,-4 -8,4" fill="none" stroke="#2A86BE" stroke-width="9" stroke-linecap="round"/><path d="M6,-6 C22,0 24,18 8,28" fill="none" stroke="#174E78" stroke-width="15" stroke-linecap="round"/><path d="M6,-6 C22,0 24,18 8,28" fill="none" stroke="#2A86BE" stroke-width="9" stroke-linecap="round"/><path d="M-8,2 L6,-4" stroke="#174E78" stroke-width="4"/></g>
<g transform="translate(384,922) rotate(15)"><path d="M-4,-30 C-20,-22 -22,-4 -8,4" fill="none" stroke="#174E78" stroke-width="15" stroke-linecap="round"/><path d="M-4,-30 C-20,-22 -22,-4 -8,4" fill="none" stroke="#2A86BE" stroke-width="9" stroke-linecap="round"/><path d="M6,-6 C22,0 24,18 8,28" fill="none" stroke="#174E78" stroke-width="15" stroke-linecap="round"/><path d="M6,-6 C22,0 24,18 8,28" fill="none" stroke="#2A86BE" stroke-width="9" stroke-linecap="round"/><path d="M-8,2 L6,-4" stroke="#174E78" stroke-width="4"/></g>
<g transform="translate(412,1132) rotate(-30)"><path d="M-4,-30 C-20,-22 -22,-4 -8,4" fill="none" stroke="#174E78" stroke-width="15" stroke-linecap="round"/><path d="M-4,-30 C-20,-22 -22,-4 -8,4" fill="none" stroke="#2A86BE" stroke-width="9" stroke-linecap="round"/><path d="M6,-6 C22,0 24,18 8,28" fill="none" stroke="#174E78" stroke-width="15" stroke-linecap="round"/><path d="M6,-6 C22,0 24,18 8,28" fill="none" stroke="#2A86BE" stroke-width="9" stroke-linecap="round"/><path d="M-8,2 L6,-4" stroke="#174E78" stroke-width="4"/></g>
<g transform="translate(601,1268) rotate(-85)"><path d="M-4,-30 C-20,-22 -22,-4 -8,4" fill="none" stroke="#174E78" stroke-width="15" stroke-linecap="round"/><path d="M-4,-30 C-20,-22 -22,-4 -8,4" fill="none" stroke="#2A86BE" stroke-width="9" stroke-linecap="round"/><path d="M6,-6 C22,0 24,18 8,28" fill="none" stroke="#174E78" stroke-width="15" stroke-linecap="round"/><path d="M6,-6 C22,0 24,18 8,28" fill="none" stroke="#2A86BE" stroke-width="9" stroke-linecap="round"/><path d="M-8,2 L6,-4" stroke="#174E78" stroke-width="4"/></g>
<circle cx="853" cy="725" r="9" fill="#2E8EC4" stroke="#1B5A86" stroke-width="2.5"/>
<circle cx="932" cy="1010" r="8" fill="#2E8EC4" stroke="#1B5A86" stroke-width="2.5"/>
<circle cx="720" cy="1282" r="9" fill="#2E8EC4" stroke="#1B5A86" stroke-width="2.5"/>
<g transform="translate(563,728) rotate(75)"><rect x="-24" y="-10" width="48" height="20" rx="8" fill="#F4CE2C" stroke="#A4861C" stroke-width="3"/></g>
<g transform="translate(380,1043) rotate(-8)"><rect x="-24" y="-10" width="48" height="20" rx="8" fill="#F4CE2C" stroke="#A4861C" stroke-width="3"/></g>
<defs><linearGradient id="tulg" gradientUnits="userSpaceOnUse" x1="-140" y1="0" x2="0" y2="0"><stop offset="0" stop-color="#D8182C"/><stop offset="0.38" stop-color="#D0162A"/><stop offset="0.52" stop-color="#A3122A"/><stop offset="1" stop-color="#7E1024"/></linearGradient></defs>
<g>
<path d="M579,710 L579,660" stroke="#141414" stroke-width="8" stroke-linecap="round"/>
<path d="M714,712 L714,655" stroke="#141414" stroke-width="8" stroke-linecap="round"/>
<path d="M825,760 L847,727" stroke="#141414" stroke-width="8" stroke-linecap="round"/>
<path d="M899,849 L939,831" stroke="#141414" stroke-width="8" stroke-linecap="round"/>
<path d="M934,964 L988,962" stroke="#141414" stroke-width="8" stroke-linecap="round"/>
<path d="M927,1093 L972,1104" stroke="#141414" stroke-width="8" stroke-linecap="round"/>
<path d="M877,1188 L898,1218" stroke="#141414" stroke-width="8" stroke-linecap="round"/>
<path d="M770,1262 L790,1318" stroke="#141414" stroke-width="8" stroke-linecap="round"/>
<path d="M648,1286 L648,1337" stroke="#141414" stroke-width="8" stroke-linecap="round"/>
<g transform="translate(570,637) rotate(-2) scale(0.9)"><ellipse cx="-19" cy="-2" rx="17" ry="20" fill="#5C0A12" stroke="#5C0A12" stroke-width="6"/><ellipse cx="19" cy="-2" rx="17" ry="20" fill="#5C0A12" stroke="#5C0A12" stroke-width="6"/><ellipse cx="0" cy="12" rx="14" ry="14" fill="#5C0A12" stroke="#5C0A12" stroke-width="6"/><ellipse cx="0" cy="-5" rx="16" ry="22" fill="#5C0A12" stroke="#5C0A12" stroke-width="6"/><ellipse cx="-19" cy="-2" rx="17" ry="20" fill="#D3192B"/><ellipse cx="19" cy="-2" rx="17" ry="20" fill="#D3192B"/><ellipse cx="0" cy="12" rx="14" ry="14" fill="#D3192B"/><ellipse cx="0" cy="-5" rx="16" ry="22" fill="#D3192B"/><path d="M-8,-22 C-12,-6 -10,10 -4,22 M8,-22 C12,-6 10,10 4,22 M-26,-14 C-30,-2 -26,8 -16,14 M26,-14 C30,-2 26,8 16,14" fill="none" stroke="#8E0C1A" stroke-width="2.4" opacity="0.75"/><ellipse cx="0" cy="-8" rx="5" ry="12" fill="#E8303C" opacity="0.55"/><ellipse cx="-18" cy="-4" rx="5" ry="10" fill="#E8303C" opacity="0.45"/><ellipse cx="19" cy="-4" rx="5" ry="10" fill="#E8303C" opacity="0.45"/></g>
<g transform="translate(616,689) rotate(3) scale(0.9)"><ellipse cx="-19" cy="-2" rx="17" ry="20" fill="#5C0A12" stroke="#5C0A12" stroke-width="6"/><ellipse cx="19" cy="-2" rx="17" ry="20" fill="#5C0A12" stroke="#5C0A12" stroke-width="6"/><ellipse cx="0" cy="12" rx="14" ry="14" fill="#5C0A12" stroke="#5C0A12" stroke-width="6"/><ellipse cx="0" cy="-5" rx="16" ry="22" fill="#5C0A12" stroke="#5C0A12" stroke-width="6"/><ellipse cx="-19" cy="-2" rx="17" ry="20" fill="#D3192B"/><ellipse cx="19" cy="-2" rx="17" ry="20" fill="#D3192B"/><ellipse cx="0" cy="12" rx="14" ry="14" fill="#D3192B"/><ellipse cx="0" cy="-5" rx="16" ry="22" fill="#D3192B"/><path d="M-8,-22 C-12,-6 -10,10 -4,22 M8,-22 C12,-6 10,10 4,22 M-26,-14 C-30,-2 -26,8 -16,14 M26,-14 C30,-2 26,8 16,14" fill="none" stroke="#8E0C1A" stroke-width="2.4" opacity="0.75"/><ellipse cx="0" cy="-8" rx="5" ry="12" fill="#E8303C" opacity="0.55"/><ellipse cx="-18" cy="-4" rx="5" ry="10" fill="#E8303C" opacity="0.45"/><ellipse cx="19" cy="-4" rx="5" ry="10" fill="#E8303C" opacity="0.45"/></g>
<g transform="translate(725,636) rotate(2) scale(0.9)"><ellipse cx="-19" cy="-2" rx="17" ry="20" fill="#5C0A12" stroke="#5C0A12" stroke-width="6"/><ellipse cx="19" cy="-2" rx="17" ry="20" fill="#5C0A12" stroke="#5C0A12" stroke-width="6"/><ellipse cx="0" cy="12" rx="14" ry="14" fill="#5C0A12" stroke="#5C0A12" stroke-width="6"/><ellipse cx="0" cy="-5" rx="16" ry="22" fill="#5C0A12" stroke="#5C0A12" stroke-width="6"/><ellipse cx="-19" cy="-2" rx="17" ry="20" fill="#D3192B"/><ellipse cx="19" cy="-2" rx="17" ry="20" fill="#D3192B"/><ellipse cx="0" cy="12" rx="14" ry="14" fill="#D3192B"/><ellipse cx="0" cy="-5" rx="16" ry="22" fill="#D3192B"/><path d="M-8,-22 C-12,-6 -10,10 -4,22 M8,-22 C12,-6 10,10 4,22 M-26,-14 C-30,-2 -26,8 -16,14 M26,-14 C30,-2 26,8 16,14" fill="none" stroke="#8E0C1A" stroke-width="2.4" opacity="0.75"/><ellipse cx="0" cy="-8" rx="5" ry="12" fill="#E8303C" opacity="0.55"/><ellipse cx="-18" cy="-4" rx="5" ry="10" fill="#E8303C" opacity="0.45"/><ellipse cx="19" cy="-4" rx="5" ry="10" fill="#E8303C" opacity="0.45"/></g>
<g transform="translate(806,727) rotate(32) scale(0.9)"><ellipse cx="-19" cy="-2" rx="17" ry="20" fill="#5C0A12" stroke="#5C0A12" stroke-width="6"/><ellipse cx="19" cy="-2" rx="17" ry="20" fill="#5C0A12" stroke="#5C0A12" stroke-width="6"/><ellipse cx="0" cy="12" rx="14" ry="14" fill="#5C0A12" stroke="#5C0A12" stroke-width="6"/><ellipse cx="0" cy="-5" rx="16" ry="22" fill="#5C0A12" stroke="#5C0A12" stroke-width="6"/><ellipse cx="-19" cy="-2" rx="17" ry="20" fill="#D3192B"/><ellipse cx="19" cy="-2" rx="17" ry="20" fill="#D3192B"/><ellipse cx="0" cy="12" rx="14" ry="14" fill="#D3192B"/><ellipse cx="0" cy="-5" rx="16" ry="22" fill="#D3192B"/><path d="M-8,-22 C-12,-6 -10,10 -4,22 M8,-22 C12,-6 10,10 4,22 M-26,-14 C-30,-2 -26,8 -16,14 M26,-14 C30,-2 26,8 16,14" fill="none" stroke="#8E0C1A" stroke-width="2.4" opacity="0.75"/><ellipse cx="0" cy="-8" rx="5" ry="12" fill="#E8303C" opacity="0.55"/><ellipse cx="-18" cy="-4" rx="5" ry="10" fill="#E8303C" opacity="0.45"/><ellipse cx="19" cy="-4" rx="5" ry="10" fill="#E8303C" opacity="0.45"/></g>
<g transform="translate(866,696) rotate(35) scale(0.9)"><ellipse cx="-19" cy="-2" rx="17" ry="20" fill="#5C0A12" stroke="#5C0A12" stroke-width="6"/><ellipse cx="19" cy="-2" rx="17" ry="20" fill="#5C0A12" stroke="#5C0A12" stroke-width="6"/><ellipse cx="0" cy="12" rx="14" ry="14" fill="#5C0A12" stroke="#5C0A12" stroke-width="6"/><ellipse cx="0" cy="-5" rx="16" ry="22" fill="#5C0A12" stroke="#5C0A12" stroke-width="6"/><ellipse cx="-19" cy="-2" rx="17" ry="20" fill="#D3192B"/><ellipse cx="19" cy="-2" rx="17" ry="20" fill="#D3192B"/><ellipse cx="0" cy="12" rx="14" ry="14" fill="#D3192B"/><ellipse cx="0" cy="-5" rx="16" ry="22" fill="#D3192B"/><path d="M-8,-22 C-12,-6 -10,10 -4,22 M8,-22 C12,-6 10,10 4,22 M-26,-14 C-30,-2 -26,8 -16,14 M26,-14 C30,-2 26,8 16,14" fill="none" stroke="#8E0C1A" stroke-width="2.4" opacity="0.75"/><ellipse cx="0" cy="-8" rx="5" ry="12" fill="#E8303C" opacity="0.55"/><ellipse cx="-18" cy="-4" rx="5" ry="10" fill="#E8303C" opacity="0.45"/><ellipse cx="19" cy="-4" rx="5" ry="10" fill="#E8303C" opacity="0.45"/></g>
<g transform="translate(967,811) rotate(62) scale(0.9)"><ellipse cx="-19" cy="-2" rx="17" ry="20" fill="#5C0A12" stroke="#5C0A12" stroke-width="6"/><ellipse cx="19" cy="-2" rx="17" ry="20" fill="#5C0A12" stroke="#5C0A12" stroke-width="6"/><ellipse cx="0" cy="12" rx="14" ry="14" fill="#5C0A12" stroke="#5C0A12" stroke-width="6"/><ellipse cx="0" cy="-5" rx="16" ry="22" fill="#5C0A12" stroke="#5C0A12" stroke-width="6"/><ellipse cx="-19" cy="-2" rx="17" ry="20" fill="#D3192B"/><ellipse cx="19" cy="-2" rx="17" ry="20" fill="#D3192B"/><ellipse cx="0" cy="12" rx="14" ry="14" fill="#D3192B"/><ellipse cx="0" cy="-5" rx="16" ry="22" fill="#D3192B"/><path d="M-8,-22 C-12,-6 -10,10 -4,22 M8,-22 C12,-6 10,10 4,22 M-26,-14 C-30,-2 -26,8 -16,14 M26,-14 C30,-2 26,8 16,14" fill="none" stroke="#8E0C1A" stroke-width="2.4" opacity="0.75"/><ellipse cx="0" cy="-8" rx="5" ry="12" fill="#E8303C" opacity="0.55"/><ellipse cx="-18" cy="-4" rx="5" ry="10" fill="#E8303C" opacity="0.45"/><ellipse cx="19" cy="-4" rx="5" ry="10" fill="#E8303C" opacity="0.45"/></g>
<g transform="translate(931,870) rotate(68) scale(0.9)"><ellipse cx="-19" cy="-2" rx="17" ry="20" fill="#5C0A12" stroke="#5C0A12" stroke-width="6"/><ellipse cx="19" cy="-2" rx="17" ry="20" fill="#5C0A12" stroke="#5C0A12" stroke-width="6"/><ellipse cx="0" cy="12" rx="14" ry="14" fill="#5C0A12" stroke="#5C0A12" stroke-width="6"/><ellipse cx="0" cy="-5" rx="16" ry="22" fill="#5C0A12" stroke="#5C0A12" stroke-width="6"/><ellipse cx="-19" cy="-2" rx="17" ry="20" fill="#D3192B"/><ellipse cx="19" cy="-2" rx="17" ry="20" fill="#D3192B"/><ellipse cx="0" cy="12" rx="14" ry="14" fill="#D3192B"/><ellipse cx="0" cy="-5" rx="16" ry="22" fill="#D3192B"/><path d="M-8,-22 C-12,-6 -10,10 -4,22 M8,-22 C12,-6 10,10 4,22 M-26,-14 C-30,-2 -26,8 -16,14 M26,-14 C30,-2 26,8 16,14" fill="none" stroke="#8E0C1A" stroke-width="2.4" opacity="0.75"/><ellipse cx="0" cy="-8" rx="5" ry="12" fill="#E8303C" opacity="0.55"/><ellipse cx="-18" cy="-4" rx="5" ry="10" fill="#E8303C" opacity="0.45"/><ellipse cx="19" cy="-4" rx="5" ry="10" fill="#E8303C" opacity="0.45"/></g>
<g transform="translate(1014,959) rotate(88) scale(0.9)"><ellipse cx="-19" cy="-2" rx="17" ry="20" fill="#5C0A12" stroke="#5C0A12" stroke-width="6"/><ellipse cx="19" cy="-2" rx="17" ry="20" fill="#5C0A12" stroke="#5C0A12" stroke-width="6"/><ellipse cx="0" cy="12" rx="14" ry="14" fill="#5C0A12" stroke="#5C0A12" stroke-width="6"/><ellipse cx="0" cy="-5" rx="16" ry="22" fill="#5C0A12" stroke="#5C0A12" stroke-width="6"/><ellipse cx="-19" cy="-2" rx="17" ry="20" fill="#D3192B"/><ellipse cx="19" cy="-2" rx="17" ry="20" fill="#D3192B"/><ellipse cx="0" cy="12" rx="14" ry="14" fill="#D3192B"/><ellipse cx="0" cy="-5" rx="16" ry="22" fill="#D3192B"/><path d="M-8,-22 C-12,-6 -10,10 -4,22 M8,-22 C12,-6 10,10 4,22 M-26,-14 C-30,-2 -26,8 -16,14 M26,-14 C30,-2 26,8 16,14" fill="none" stroke="#8E0C1A" stroke-width="2.4" opacity="0.75"/><ellipse cx="0" cy="-8" rx="5" ry="12" fill="#E8303C" opacity="0.55"/><ellipse cx="-18" cy="-4" rx="5" ry="10" fill="#E8303C" opacity="0.45"/><ellipse cx="19" cy="-4" rx="5" ry="10" fill="#E8303C" opacity="0.45"/></g>
<g transform="translate(951,1062) rotate(95) scale(0.9)"><ellipse cx="-19" cy="-2" rx="17" ry="20" fill="#5C0A12" stroke="#5C0A12" stroke-width="6"/><ellipse cx="19" cy="-2" rx="17" ry="20" fill="#5C0A12" stroke="#5C0A12" stroke-width="6"/><ellipse cx="0" cy="12" rx="14" ry="14" fill="#5C0A12" stroke="#5C0A12" stroke-width="6"/><ellipse cx="0" cy="-5" rx="16" ry="22" fill="#5C0A12" stroke="#5C0A12" stroke-width="6"/><ellipse cx="-19" cy="-2" rx="17" ry="20" fill="#D3192B"/><ellipse cx="19" cy="-2" rx="17" ry="20" fill="#D3192B"/><ellipse cx="0" cy="12" rx="14" ry="14" fill="#D3192B"/><ellipse cx="0" cy="-5" rx="16" ry="22" fill="#D3192B"/><path d="M-8,-22 C-12,-6 -10,10 -4,22 M8,-22 C12,-6 10,10 4,22 M-26,-14 C-30,-2 -26,8 -16,14 M26,-14 C30,-2 26,8 16,14" fill="none" stroke="#8E0C1A" stroke-width="2.4" opacity="0.75"/><ellipse cx="0" cy="-8" rx="5" ry="12" fill="#E8303C" opacity="0.55"/><ellipse cx="-18" cy="-4" rx="5" ry="10" fill="#E8303C" opacity="0.45"/><ellipse cx="19" cy="-4" rx="5" ry="10" fill="#E8303C" opacity="0.45"/></g>
<g transform="translate(999,1111) rotate(108) scale(0.9)"><ellipse cx="-19" cy="-2" rx="17" ry="20" fill="#5C0A12" stroke="#5C0A12" stroke-width="6"/><ellipse cx="19" cy="-2" rx="17" ry="20" fill="#5C0A12" stroke="#5C0A12" stroke-width="6"/><ellipse cx="0" cy="12" rx="14" ry="14" fill="#5C0A12" stroke="#5C0A12" stroke-width="6"/><ellipse cx="0" cy="-5" rx="16" ry="22" fill="#5C0A12" stroke="#5C0A12" stroke-width="6"/><ellipse cx="-19" cy="-2" rx="17" ry="20" fill="#D3192B"/><ellipse cx="19" cy="-2" rx="17" ry="20" fill="#D3192B"/><ellipse cx="0" cy="12" rx="14" ry="14" fill="#D3192B"/><ellipse cx="0" cy="-5" rx="16" ry="22" fill="#D3192B"/><path d="M-8,-22 C-12,-6 -10,10 -4,22 M8,-22 C12,-6 10,10 4,22 M-26,-14 C-30,-2 -26,8 -16,14 M26,-14 C30,-2 26,8 16,14" fill="none" stroke="#8E0C1A" stroke-width="2.4" opacity="0.75"/><ellipse cx="0" cy="-8" rx="5" ry="12" fill="#E8303C" opacity="0.55"/><ellipse cx="-18" cy="-4" rx="5" ry="10" fill="#E8303C" opacity="0.45"/><ellipse cx="19" cy="-4" rx="5" ry="10" fill="#E8303C" opacity="0.45"/></g>
<g transform="translate(857,1227) rotate(140) scale(0.9)"><ellipse cx="-19" cy="-2" rx="17" ry="20" fill="#5C0A12" stroke="#5C0A12" stroke-width="6"/><ellipse cx="19" cy="-2" rx="17" ry="20" fill="#5C0A12" stroke="#5C0A12" stroke-width="6"/><ellipse cx="0" cy="12" rx="14" ry="14" fill="#5C0A12" stroke="#5C0A12" stroke-width="6"/><ellipse cx="0" cy="-5" rx="16" ry="22" fill="#5C0A12" stroke="#5C0A12" stroke-width="6"/><ellipse cx="-19" cy="-2" rx="17" ry="20" fill="#D3192B"/><ellipse cx="19" cy="-2" rx="17" ry="20" fill="#D3192B"/><ellipse cx="0" cy="12" rx="14" ry="14" fill="#D3192B"/><ellipse cx="0" cy="-5" rx="16" ry="22" fill="#D3192B"/><path d="M-8,-22 C-12,-6 -10,10 -4,22 M8,-22 C12,-6 10,10 4,22 M-26,-14 C-30,-2 -26,8 -16,14 M26,-14 C30,-2 26,8 16,14" fill="none" stroke="#8E0C1A" stroke-width="2.4" opacity="0.75"/><ellipse cx="0" cy="-8" rx="5" ry="12" fill="#E8303C" opacity="0.55"/><ellipse cx="-18" cy="-4" rx="5" ry="10" fill="#E8303C" opacity="0.45"/><ellipse cx="19" cy="-4" rx="5" ry="10" fill="#E8303C" opacity="0.45"/></g>
<g transform="translate(924,1245) rotate(135) scale(0.9)"><ellipse cx="-19" cy="-2" rx="17" ry="20" fill="#5C0A12" stroke="#5C0A12" stroke-width="6"/><ellipse cx="19" cy="-2" rx="17" ry="20" fill="#5C0A12" stroke="#5C0A12" stroke-width="6"/><ellipse cx="0" cy="12" rx="14" ry="14" fill="#5C0A12" stroke="#5C0A12" stroke-width="6"/><ellipse cx="0" cy="-5" rx="16" ry="22" fill="#5C0A12" stroke="#5C0A12" stroke-width="6"/><ellipse cx="-19" cy="-2" rx="17" ry="20" fill="#D3192B"/><ellipse cx="19" cy="-2" rx="17" ry="20" fill="#D3192B"/><ellipse cx="0" cy="12" rx="14" ry="14" fill="#D3192B"/><ellipse cx="0" cy="-5" rx="16" ry="22" fill="#D3192B"/><path d="M-8,-22 C-12,-6 -10,10 -4,22 M8,-22 C12,-6 10,10 4,22 M-26,-14 C-30,-2 -26,8 -16,14 M26,-14 C30,-2 26,8 16,14" fill="none" stroke="#8E0C1A" stroke-width="2.4" opacity="0.75"/><ellipse cx="0" cy="-8" rx="5" ry="12" fill="#E8303C" opacity="0.55"/><ellipse cx="-18" cy="-4" rx="5" ry="10" fill="#E8303C" opacity="0.45"/><ellipse cx="19" cy="-4" rx="5" ry="10" fill="#E8303C" opacity="0.45"/></g>
<g transform="translate(682,1300) rotate(178) scale(0.9)"><ellipse cx="-19" cy="-2" rx="17" ry="20" fill="#5C0A12" stroke="#5C0A12" stroke-width="6"/><ellipse cx="19" cy="-2" rx="17" ry="20" fill="#5C0A12" stroke="#5C0A12" stroke-width="6"/><ellipse cx="0" cy="12" rx="14" ry="14" fill="#5C0A12" stroke="#5C0A12" stroke-width="6"/><ellipse cx="0" cy="-5" rx="16" ry="22" fill="#5C0A12" stroke="#5C0A12" stroke-width="6"/><ellipse cx="-19" cy="-2" rx="17" ry="20" fill="#D3192B"/><ellipse cx="19" cy="-2" rx="17" ry="20" fill="#D3192B"/><ellipse cx="0" cy="12" rx="14" ry="14" fill="#D3192B"/><ellipse cx="0" cy="-5" rx="16" ry="22" fill="#D3192B"/><path d="M-8,-22 C-12,-6 -10,10 -4,22 M8,-22 C12,-6 10,10 4,22 M-26,-14 C-30,-2 -26,8 -16,14 M26,-14 C30,-2 26,8 16,14" fill="none" stroke="#8E0C1A" stroke-width="2.4" opacity="0.75"/><ellipse cx="0" cy="-8" rx="5" ry="12" fill="#E8303C" opacity="0.55"/><ellipse cx="-18" cy="-4" rx="5" ry="10" fill="#E8303C" opacity="0.45"/><ellipse cx="19" cy="-4" rx="5" ry="10" fill="#E8303C" opacity="0.45"/></g>
<g transform="translate(648,1361) rotate(180) scale(0.9)"><ellipse cx="-19" cy="-2" rx="17" ry="20" fill="#5C0A12" stroke="#5C0A12" stroke-width="6"/><ellipse cx="19" cy="-2" rx="17" ry="20" fill="#5C0A12" stroke="#5C0A12" stroke-width="6"/><ellipse cx="0" cy="12" rx="14" ry="14" fill="#5C0A12" stroke="#5C0A12" stroke-width="6"/><ellipse cx="0" cy="-5" rx="16" ry="22" fill="#5C0A12" stroke="#5C0A12" stroke-width="6"/><ellipse cx="-19" cy="-2" rx="17" ry="20" fill="#D3192B"/><ellipse cx="19" cy="-2" rx="17" ry="20" fill="#D3192B"/><ellipse cx="0" cy="12" rx="14" ry="14" fill="#D3192B"/><ellipse cx="0" cy="-5" rx="16" ry="22" fill="#D3192B"/><path d="M-8,-22 C-12,-6 -10,10 -4,22 M8,-22 C12,-6 10,10 4,22 M-26,-14 C-30,-2 -26,8 -16,14 M26,-14 C30,-2 26,8 16,14" fill="none" stroke="#8E0C1A" stroke-width="2.4" opacity="0.75"/><ellipse cx="0" cy="-8" rx="5" ry="12" fill="#E8303C" opacity="0.55"/><ellipse cx="-18" cy="-4" rx="5" ry="10" fill="#E8303C" opacity="0.45"/><ellipse cx="19" cy="-4" rx="5" ry="10" fill="#E8303C" opacity="0.45"/></g>
<g transform="translate(796,1336) rotate(160) scale(0.9)"><ellipse cx="-19" cy="-2" rx="17" ry="20" fill="#5C0A12" stroke="#5C0A12" stroke-width="6"/><ellipse cx="19" cy="-2" rx="17" ry="20" fill="#5C0A12" stroke="#5C0A12" stroke-width="6"/><ellipse cx="0" cy="12" rx="14" ry="14" fill="#5C0A12" stroke="#5C0A12" stroke-width="6"/><ellipse cx="0" cy="-5" rx="16" ry="22" fill="#5C0A12" stroke="#5C0A12" stroke-width="6"/><ellipse cx="-19" cy="-2" rx="17" ry="20" fill="#D3192B"/><ellipse cx="19" cy="-2" rx="17" ry="20" fill="#D3192B"/><ellipse cx="0" cy="12" rx="14" ry="14" fill="#D3192B"/><ellipse cx="0" cy="-5" rx="16" ry="22" fill="#D3192B"/><path d="M-8,-22 C-12,-6 -10,10 -4,22 M8,-22 C12,-6 10,10 4,22 M-26,-14 C-30,-2 -26,8 -16,14 M26,-14 C30,-2 26,8 16,14" fill="none" stroke="#8E0C1A" stroke-width="2.4" opacity="0.75"/><ellipse cx="0" cy="-8" rx="5" ry="12" fill="#E8303C" opacity="0.55"/><ellipse cx="-18" cy="-4" rx="5" ry="10" fill="#E8303C" opacity="0.45"/><ellipse cx="19" cy="-4" rx="5" ry="10" fill="#E8303C" opacity="0.45"/></g>
<g transform="translate(489,806) rotate(59) scale(1,0.9)"><path d="M6,0 C-25,-4 -55,-10 -84,-21 C-95,-38 -110,-44 -125,-40 C-138,-36 -141,-22 -134,-13 C-143,-8 -143,5 -134,9 C-142,22 -131,41 -112,42 C-98,43 -88,30 -80,16 C-52,7 -22,3 6,0 Z" fill="url(#tulg)" stroke="#3E0610" stroke-width="3.2" stroke-linejoin="round"/><path d="M-134,-3 C-118,-2 -100,-1 -80,2 M-118,-38 C-112,-24 -100,-14 -86,-8 M-112,40 C-106,28 -96,16 -84,8 M-80,0 C-55,-2 -30,-2 -4,0" fill="none" stroke="#6A0A18" stroke-width="2.2" opacity="0.8"/><ellipse cx="-110" cy="-22" rx="12" ry="8" fill="#E8303C" opacity="0.5"/><ellipse cx="-112" cy="22" rx="11" ry="8" fill="#E8303C" opacity="0.45"/></g>
<g transform="translate(430,877) rotate(35) scale(1,0.9)"><path d="M6,0 C-25,-4 -55,-10 -84,-21 C-95,-38 -110,-44 -125,-40 C-138,-36 -141,-22 -134,-13 C-143,-8 -143,5 -134,9 C-142,22 -131,41 -112,42 C-98,43 -88,30 -80,16 C-52,7 -22,3 6,0 Z" fill="url(#tulg)" stroke="#3E0610" stroke-width="3.2" stroke-linejoin="round"/><path d="M-134,-3 C-118,-2 -100,-1 -80,2 M-118,-38 C-112,-24 -100,-14 -86,-8 M-112,40 C-106,28 -96,16 -84,8 M-80,0 C-55,-2 -30,-2 -4,0" fill="none" stroke="#6A0A18" stroke-width="2.2" opacity="0.8"/><ellipse cx="-110" cy="-22" rx="12" ry="8" fill="#E8303C" opacity="0.5"/><ellipse cx="-112" cy="22" rx="11" ry="8" fill="#E8303C" opacity="0.45"/></g>
<g transform="translate(401,988) rotate(8) scale(1,0.9)"><path d="M6,0 C-25,-4 -55,-10 -84,-21 C-95,-38 -110,-44 -125,-40 C-138,-36 -141,-22 -134,-13 C-143,-8 -143,5 -134,9 C-142,22 -131,41 -112,42 C-98,43 -88,30 -80,16 C-52,7 -22,3 6,0 Z" fill="url(#tulg)" stroke="#3E0610" stroke-width="3.2" stroke-linejoin="round"/><path d="M-134,-3 C-118,-2 -100,-1 -80,2 M-118,-38 C-112,-24 -100,-14 -86,-8 M-112,40 C-106,28 -96,16 -84,8 M-80,0 C-55,-2 -30,-2 -4,0" fill="none" stroke="#6A0A18" stroke-width="2.2" opacity="0.8"/><ellipse cx="-110" cy="-22" rx="12" ry="8" fill="#E8303C" opacity="0.5"/><ellipse cx="-112" cy="22" rx="11" ry="8" fill="#E8303C" opacity="0.45"/></g>
<g transform="translate(417,1079) rotate(-21) scale(1,0.9)"><path d="M6,0 C-25,-4 -55,-10 -84,-21 C-95,-38 -110,-44 -125,-40 C-138,-36 -141,-22 -134,-13 C-143,-8 -143,5 -134,9 C-142,22 -131,41 -112,42 C-98,43 -88,30 -80,16 C-52,7 -22,3 6,0 Z" fill="url(#tulg)" stroke="#3E0610" stroke-width="3.2" stroke-linejoin="round"/><path d="M-134,-3 C-118,-2 -100,-1 -80,2 M-118,-38 C-112,-24 -100,-14 -86,-8 M-112,40 C-106,28 -96,16 -84,8 M-80,0 C-55,-2 -30,-2 -4,0" fill="none" stroke="#6A0A18" stroke-width="2.2" opacity="0.8"/><ellipse cx="-110" cy="-22" rx="12" ry="8" fill="#E8303C" opacity="0.5"/><ellipse cx="-112" cy="22" rx="11" ry="8" fill="#E8303C" opacity="0.45"/></g>
<g transform="translate(464,1157) rotate(-38) scale(1,0.9)"><path d="M6,0 C-25,-4 -55,-10 -84,-21 C-95,-38 -110,-44 -125,-40 C-138,-36 -141,-22 -134,-13 C-143,-8 -143,5 -134,9 C-142,22 -131,41 -112,42 C-98,43 -88,30 -80,16 C-52,7 -22,3 6,0 Z" fill="url(#tulg)" stroke="#3E0610" stroke-width="3.2" stroke-linejoin="round"/><path d="M-134,-3 C-118,-2 -100,-1 -80,2 M-118,-38 C-112,-24 -100,-14 -86,-8 M-112,40 C-106,28 -96,16 -84,8 M-80,0 C-55,-2 -30,-2 -4,0" fill="none" stroke="#6A0A18" stroke-width="2.2" opacity="0.8"/><ellipse cx="-110" cy="-22" rx="12" ry="8" fill="#E8303C" opacity="0.5"/><ellipse cx="-112" cy="22" rx="11" ry="8" fill="#E8303C" opacity="0.45"/></g>
<g transform="translate(546,1221) rotate(-55) scale(1,0.9)"><path d="M6,0 C-25,-4 -55,-10 -84,-21 C-95,-38 -110,-44 -125,-40 C-138,-36 -141,-22 -134,-13 C-143,-8 -143,5 -134,9 C-142,22 -131,41 -112,42 C-98,43 -88,30 -80,16 C-52,7 -22,3 6,0 Z" fill="url(#tulg)" stroke="#3E0610" stroke-width="3.2" stroke-linejoin="round"/><path d="M-134,-3 C-118,-2 -100,-1 -80,2 M-118,-38 C-112,-24 -100,-14 -86,-8 M-112,40 C-106,28 -96,16 -84,8 M-80,0 C-55,-2 -30,-2 -4,0" fill="none" stroke="#6A0A18" stroke-width="2.2" opacity="0.8"/><ellipse cx="-110" cy="-22" rx="12" ry="8" fill="#E8303C" opacity="0.5"/><ellipse cx="-112" cy="22" rx="11" ry="8" fill="#E8303C" opacity="0.45"/></g>
</g>
</g>
<g fill="none" stroke="#111" stroke-width="4">
<path d="M387,612 L433,683"/>
<path d="M240,696 L316,696 L512,846"/>
<path d="M192,898 L355,898"/>
<path d="M188,1044 L352,1044"/>
<path d="M304,1330 L400,1330 L510,1089"/>
</g>
<g fill="none" stroke="#4d4d4d" stroke-width="3.8" stroke-dasharray="16,8">
<path d="M665,697 L1565,392"/>
<path d="M900,1150 L1578,482"/>
</g>

<g id="membrane">
<rect x="398" y="1505" width="2037" height="46" fill="#F18A8C"/>
<rect x="398" y="1505" width="2037" height="3" fill="#E38C94"/>
<rect x="398" y="1518" width="2037" height="17" fill="#F7C6A8"/>
</g>
<g id="ace2" stroke="#4EAE3E" stroke-width="2.5" fill="#84D45C">
<rect x="630.5" y="1452" width="34.5" height="162" rx="3"/>
<path d="M600,1397 C599,1430 615,1456 649,1457 C683,1456 699,1430 698,1397 C685,1418 668,1425 649,1425 C630,1425 613,1418 600,1397 Z"/>
</g>
<g id="arrows" fill="#000" stroke="none">
<rect x="1580.5" y="1345" width="9" height="271"/>
<path d="M1565,1350 L1584.8,1311 L1605,1350 Z"/>
<rect x="1580.5" y="1118" width="9" height="61"/>
<path d="M1566,1122 L1585.4,1080.5 L1605,1122 Z"/>
<rect x="1765" y="1198" width="7.4" height="48"/>
<path d="M1748,1242 L1768.7,1282 L1788,1242 Z"/>
<path d="M2025,1330 H2203 V1368 H2196 V1337 H2025 Z"/>
<path d="M2179,1364 L2199,1406 L2218,1364 Z"/>
<rect x="2205.5" y="1662" width="9" height="42"/>
<path d="M2190,1701.5 L2210.2,1741 L2230.2,1701.5 Z"/>
<rect x="1027" y="1808" width="180" height="8"/>
<path d="M1204,1792 L1244,1812 L1204,1833 Z"/>
<rect x="2495" y="1828" width="180" height="8"/>
<path d="M2672,1812 L2712,1832 L2672,1852 Z"/>
<rect x="2955" y="1044" width="8" height="335"/>
<path d="M2939,1374 L2959,1415 L2980,1374 Z"/>
</g>
<g fill="none" stroke="#2a2a2a" stroke-width="4">
<path d="M1669.6,1085.4 C1640,1055 1590,1045 1560,1050 C1530,1055 1510,1068 1492,1082"/>
<path d="M1677,1286 C1650,1258 1600,1248 1575,1253 C1550,1258 1530,1268 1515,1278"/>
</g>
<g fill="#000">
<path d="M1454.8,1104.8 L1481.7,1067.8 L1501,1093.7 Z"/>
<path d="M1481.7,1300 L1508.5,1264 L1527,1290 Z"/>
</g>

<path d="M1928,1284 L1971,1327 L1951,1327 L1951,1365 L1907,1365 L1907,1327 L1886,1327 Z" fill="#86D150" stroke="#36A845" stroke-width="3.5" stroke-linejoin="miter"/>
<path d="M1453,1782 L1497,1782 L1497,1823 L1517,1823 L1475,1864 L1431,1823 L1453,1823 Z" fill="#FA0006" stroke="#B0000E" stroke-width="2.5"/>
<path d="M2416,1372 C2520,1376 2615,1300 2675,1215 C2710,1165 2732,1120 2748,1080" fill="none" stroke="#000" stroke-width="6"/>
<path d="M2767.5,1041 L2769,1096.5 L2720,1069 Z" fill="#000"/>
<g id="at1r">
<rect x="2050" y="1505" width="342" height="46" fill="#fff" opacity="0.55"/>
<g fill="none" stroke="#0E1F5B" stroke-width="7" stroke-linecap="round">
<path d="M2124,1428 C2128,1400 2173,1400 2177,1428"/>
<path d="M2219,1428 C2223,1400 2267,1400 2271,1428"/>
<path d="M2316,1428 C2320,1400 2366,1400 2370,1428"/>
<path d="M2074,1618 C2078,1650 2121,1650 2125,1618"/>
<path d="M2173,1618 C2177,1650 2221,1650 2225,1618"/>
<path d="M2267,1618 C2271,1650 2316,1650 2320,1618"/>
<path d="M2077,1426 C2068,1412 2066,1400 2072,1394 C2085,1382 2105,1375 2119,1368" stroke-width="5"/>
<path d="M2365,1621 C2366,1640 2365,1652 2355,1660 C2345,1668 2325,1670 2308,1672" stroke-width="5"/>
</g>
<rect x="2058" y="1425.5" width="36.5" height="194.5" rx="3" fill="#2E75B6" stroke="#2F528F" stroke-width="3"/>
<path d="M2060,1437 Q2076.2,1441 2092.5,1437" fill="none" stroke="#2F528F" stroke-width="2"/>
<path d="M2060,1608 Q2076.2,1612 2092.5,1608" fill="none" stroke="#2F528F" stroke-width="2"/>
<rect x="2105.4" y="1425.5" width="38.6" height="194.5" rx="3" fill="#2E75B6" stroke="#2F528F" stroke-width="3"/>
<path d="M2107.4,1437 Q2124.7,1441 2142,1437" fill="none" stroke="#2F528F" stroke-width="2"/>
<path d="M2107.4,1608 Q2124.7,1612 2142,1608" fill="none" stroke="#2F528F" stroke-width="2"/>
<rect x="2155" y="1425.5" width="37.7" height="194.5" rx="3" fill="#2E75B6" stroke="#2F528F" stroke-width="3"/>
<path d="M2157,1437 Q2173.8,1441 2190.7,1437" fill="none" stroke="#2F528F" stroke-width="2"/>
<path d="M2157,1608 Q2173.8,1612 2190.7,1608" fill="none" stroke="#2F528F" stroke-width="2"/>
<rect x="2203.6" y="1425.5" width="37.7" height="194.5" rx="3" fill="#2E75B6" stroke="#2F528F" stroke-width="3"/>
<path d="M2205.6,1437 Q2222.4,1441 2239.3,1437" fill="none" stroke="#2F528F" stroke-width="2"/>
<path d="M2205.6,1608 Q2222.4,1612 2239.3,1608" fill="none" stroke="#2F528F" stroke-width="2"/>
<rect x="2252.2" y="1425.5" width="38.8" height="194.5" rx="3" fill="#2E75B6" stroke="#2F528F" stroke-width="3"/>
<path d="M2254.2,1437 Q2271.6,1441 2289,1437" fill="none" stroke="#2F528F" stroke-width="2"/>
<path d="M2254.2,1608 Q2271.6,1612 2289,1608" fill="none" stroke="#2F528F" stroke-width="2"/>
<rect x="2300.8" y="1425.5" width="38.7" height="194.5" rx="3" fill="#2E75B6" stroke="#2F528F" stroke-width="3"/>
<path d="M2302.8,1437 Q2320.2,1441 2337.5,1437" fill="none" stroke="#2F528F" stroke-width="2"/>
<path d="M2302.8,1608 Q2320.2,1612 2337.5,1608" fill="none" stroke="#2F528F" stroke-width="2"/>
<rect x="2349.4" y="1425.5" width="36.8" height="194.5" rx="3" fill="#2E75B6" stroke="#2F528F" stroke-width="3"/>
<path d="M2351.4,1437 Q2367.8,1441 2384.2,1437" fill="none" stroke="#2F528F" stroke-width="2"/>
<path d="M2351.4,1608 Q2367.8,1612 2384.2,1608" fill="none" stroke="#2F528F" stroke-width="2"/>
</g>
<g><path d="M2971.7,655 L2970.7,655.8 L2969.8,656.5 L2968.9,657.3 L2968,658 L2967.1,658.8 L2966.3,659.5 L2965.5,660.2 L2964.7,660.9 L2964,661.5 L2963.3,662.2 L2964,663 L2964.9,663.8 L2965.9,664.7 L2966.9,665.6 L2968,666.5 L2969.1,667.4 L2970.2,668.3 L2971.4,669.3 L2972.6,670.3 L2973.8,671.4 L2975,672.4 L2976.3,673.5 L2977.6,674.6 L2978.8,675.8 L2980.1,677 L2981.4,678.2 L2982.7,679.4 L2984,680.7 L2985.4,682 L2986.7,683.3 L2988,684.7 L2988,685.7 L2986.1,686.1 L2984.2,686.6 L2982.3,686.9 L2980.5,687.3 L2978.6,687.7 L2976.8,688 L2975,688.3 L2973.2,688.6 L2971.5,688.8 L2969.8,689.1 L2968.1,689.3 L2966.5,689.5 L2964.9,689.7 L2963.3,689.9 L2961.8,690.1 L2960.3,690.3 L2958.9,690.5 L2957.5,690.7 L2956.2,690.9 L2955.9,691.5 L2956.7,692.7 L2957.6,694 L2958.5,695.3 L2959.5,696.7 L2960.6,698.2 L2961.7,699.7 L2962.8,701.3 L2964,702.9 L2965.2,704.6 L2966.4,706.3 L2967.7,708.1 L2969,710 L2970.3,711.9 L2971.6,713.9 L2973,715.9 L2974.3,717.9 L2975.7,720.1 L2977.1,722.3 L2978.4,724.5 L2979.8,726.8 L2979,727.5 L2976.3,726.8 L2973.7,726.2 L2971.2,725.5 L2968.7,724.8 L2966.3,724 L2963.9,723.3 L2961.6,722.6 L2959.3,721.9 L2957.1,721.2 L2955,720.5 L2953,719.8 L2951,719.1 L2949,718.4 L2947.2,717.8 L2945.4,717.2 L2943.6,716.6 L2942,716 L2940.4,715.5 L2940,716.1 L2940,717.2 L2940,718.3 L2940,719.4 L2940.1,720.6 L2940.1,721.8 L2940.1,723 L2940.1,724.2 L2940.2,725.5 L2940.2,726.8 L2940.2,728.1 L2940.1,729.4 L2940.1,730.7 L2939.4,731.1 L2938.2,731 L2937.1,730.8 L2936,730.7 L2934.9,730.6 L2933.8,730.5 L2932.8,730.3 L2931.7,730.2 L2930.7,730.1 L2929.7,729.9 L2928.7,729.8 L2927.7,729.7 L2926.7,729.5 L2925.7,729.4 L2924.8,729.3 L2923.8,729.2 L2922.9,729 L2922,728.9 L2921.1,728.8 L2920.2,728.8 L2919.4,728.7 L2918.5,728.7 L2917.7,728.7 L2917.1,729.1 L2916.7,729.8 L2916.2,730.5 L2915.8,731.3 L2915.3,732.1 L2914.9,733 L2914.5,733.9 L2914,734.8 L2913.6,735.7 L2913.1,736.6 L2912.7,737.5 L2912.2,738.5 L2911.8,739.5 L2911.3,740.5 L2910.8,741.5 L2910.3,742.5 L2909.8,743.5 L2909.2,744.5 L2908.7,745.6 L2908.1,746.7 L2907.6,747.7 L2907,748.8 L2906.4,749.9 L2905.6,750 L2904.5,749.1 L2903.4,748.2 L2902.3,747.4 L2901.3,746.5 L2900.3,745.6 L2899.3,744.7 L2898.3,743.9 L2897.3,743 L2896.4,742.2 L2895.5,741.4 L2894.6,740.6 L2893.7,739.8 L2892.8,739 L2892,738.3 L2891.1,737.6 L2890.3,736.9 L2889.5,736.2 L2888.8,735.6 L2888,735 L2887.2,734.4 L2886.6,735 L2886,736.1 L2885.3,737.3 L2884.6,738.6 L2884,739.9 L2883.3,741.4 L2882.5,742.9 L2881.8,744.5 L2881,746.2 L2880.2,747.9 L2879.3,749.7 L2878.5,751.5 L2877.6,753.3 L2876.6,755.2 L2875.6,757.2 L2874.6,759.1 L2873.6,761.2 L2872.5,763.2 L2871.4,765.3 L2870.2,767.4 L2869,769.6 L2867.7,771.7 L2866.7,771.3 L2866,769.1 L2865.3,766.9 L2864.6,764.8 L2863.9,762.7 L2863.3,760.6 L2862.7,758.6 L2862.2,756.6 L2861.6,754.6 L2861.1,752.7 L2860.6,750.8 L2860.2,749 L2859.7,747.2 L2859.3,745.5 L2858.9,743.8 L2858.4,742.2 L2858,740.7 L2857.7,739.2 L2857.3,737.8 L2856.9,736.4 L2856.5,735.2 L2856.1,734 L2855.6,733 L2855.2,732.2 L2854.5,731.9 L2853.8,731.8 L2853,731.9 L2852.1,732.2 L2851.2,732.5 L2850.3,732.9 L2849.3,733.4 L2848.3,733.9 L2847.3,734.4 L2846.3,734.9 L2845.2,735.5 L2844.1,736 L2843,736.6 L2841.8,737.2 L2840.6,737.8 L2839.4,738.4 L2838.2,739 L2837,739.6 L2835.7,740.1 L2834.4,740.7 L2833.1,741.3 L2831.8,741.9 L2830.5,742.5 L2829.1,743.1 L2827.7,743.7 L2826.3,744.3 L2826.2,742.8 L2826.1,741.1 L2826.1,739.5 L2826.1,737.9 L2826.1,736.3 L2826.2,734.8 L2826.2,733.2 L2826.3,731.7 L2826.3,730.3 L2826.4,728.8 L2826.5,727.4 L2826.5,726 L2826.6,724.6 L2826.7,723.3 L2826.8,721.9 L2826.9,720.7 L2826.9,719.4 L2827,718.2 L2827,717.1 L2827.1,716 L2827,714.9 L2826.4,714.6 L2825.6,714.4 L2824.7,714.3 L2823.9,714.2 L2823,714 L2822.1,713.9 L2821.1,713.8 L2820.2,713.7 L2819.2,713.6 L2818.2,713.6 L2817.2,713.5 L2816.1,713.4 L2815.1,713.3 L2814,713.3 L2812.9,713.2 L2811.7,713.1 L2810.6,713 L2809.4,713 L2808.2,712.9 L2807,712.8 L2806.7,712 L2806.9,710.8 L2807.1,709.7 L2807.3,708.5 L2807.5,707.4 L2807.7,706.3 L2807.9,705.2 L2808.1,704.2 L2808.2,703.2 L2808.4,702.1 L2808.6,701.1 L2808.7,700.2 L2808.9,699.2 L2809,698.3 L2809.1,697.3 L2809.2,696.5 L2809.3,695.6 L2809.4,694.7 L2809.4,693.9 L2809.4,693.1 L2809.4,692.3 L2809.4,691.5 L2808.7,691.1 L2807.9,690.6 L2807.1,690.2 L2806.3,689.8 L2805.5,689.4 L2804.7,689 L2803.9,688.5 L2803,688.1 L2802.2,687.7 L2801.3,687.2 L2800.4,686.7 L2799.5,686.3 L2798.6,685.8 L2797.7,685.3 L2796.8,684.8 L2795.9,684.3 L2795,683.8 L2794.1,683.2 L2793.2,682.7 L2792.3,682.1 L2791.3,681.6 L2791.6,680.6 L2792,679.7 L2792.3,678.8 L2792.7,677.8 L2793.1,676.9 L2793.5,676 L2793.9,675.1 L2794.3,674.2 L2794.7,673.4 L2795.1,672.5 L2795.5,671.6 L2795.9,670.8 L2796.3,669.9 L2796.7,669.1 L2797.1,668.3 L2797.5,667.5 L2797.9,666.7 L2798.3,665.9 L2798.7,665.1 L2799,664.3 L2799.4,663.6 L2799.7,662.8 L2800,662.1 L2800.2,661.4 L2800.3,660.6 L2800.3,659.9 L2800.4,659.2 L2800.5,658.5 L2800.6,657.8 L2800.7,657.1 L2800.8,656.4 L2800.9,655.7 L2801,655 L2801.1,654.3 L2801.3,653.6 L2801.4,652.9 L2801.5,652.2 L2801.7,651.5 L2801.8,650.9 L2802,650.2 L2802.1,649.5 L2802.2,648.8 L2801.8,648.1 L2801.2,647.3 L2800.5,646.5 L2799.7,645.7 L2798.8,644.9 L2797.8,644 L2796.8,643.2 L2795.7,642.2 L2794.5,641.3 L2793.4,640.3 L2792.1,639.3 L2790.9,638.3 L2789.5,637.2 L2788.2,636.1 L2786.8,635 L2785.4,633.8 L2784,632.6 L2782.5,631.4 L2781,630.1 L2779.5,628.8 L2778,627.4 L2776.5,626 L2774.9,624.6 L2774.3,623.4 L2776.3,623 L2778.3,622.6 L2780.2,622.3 L2782.2,621.9 L2784,621.6 L2785.9,621.3 L2787.6,621 L2789.4,620.8 L2791.1,620.5 L2792.8,620.3 L2794.4,620 L2796,619.8 L2797.5,619.6 L2799,619.4 L2800.5,619.1 L2801.9,618.9 L2803.2,618.7 L2804.5,618.5 L2805.7,618.3 L2806.8,618 L2807.9,617.7 L2808.8,617.4 L2809.6,617 L2809.7,616.3 L2809.5,615.4 L2809.3,614.4 L2809,613.4 L2808.6,612.4 L2808.3,611.3 L2807.9,610.2 L2807.6,609.1 L2807.2,608 L2806.8,606.8 L2806.4,605.6 L2806,604.4 L2805.6,603.1 L2805.1,601.9 L2804.7,600.6 L2804.3,599.3 L2803.9,598 L2803.5,596.6 L2803.2,595.3 L2802.8,593.9 L2802.4,592.5 L2802,591.1 L2801.7,589.6 L2802.1,588.8 L2803.6,588.9 L2805.1,589 L2806.5,589.1 L2808,589.3 L2809.4,589.4 L2810.9,589.6 L2812.3,589.8 L2813.7,590 L2815,590.2 L2816.4,590.4 L2817.7,590.6 L2819,590.8 L2820.2,591 L2821.5,591.2 L2822.7,591.4 L2823.9,591.5 L2825,591.7 L2826.1,591.9 L2827.2,592 L2828.3,592.2 L2829.3,592.3 L2830.2,592.3 L2831.1,592.3 L2831.8,592.1 L2832.5,591.7 L2833.1,591.4 L2833.7,591.1 L2834.3,590.8 L2835,590.5 L2835.6,590.2 L2836.2,589.9 L2836.9,589.6 L2837.5,589.3 L2838.1,589 L2838.7,588.7 L2839.4,588.4 L2840,588.1 L2840.5,587.7 L2840.8,586.8 L2841,585.6 L2841,584.4 L2841.1,583 L2841.1,581.5 L2841.1,579.9 L2841.1,578.3 L2841,576.5 L2841,574.7 L2840.9,572.8 L2840.9,570.9 L2840.8,568.9 L2840.8,566.8 L2840.8,564.6 L2840.8,562.4 L2840.8,560.2 L2840.8,557.9 L2840.8,555.5 L2840.9,553.1 L2840.9,550.7 L2841.1,548.2 L2841.2,545.6 L2841.3,543 L2842.1,542 L2843.8,543.7 L2845.4,545.5 L2847,547.2 L2848.6,549 L2850.1,550.7 L2851.6,552.3 L2853,554 L2854.4,555.6 L2855.7,557.2 L2857,558.7 L2858.3,560.3 L2859.5,561.8 L2860.7,563.2 L2861.8,564.6 L2862.9,566 L2863.9,567.3 L2865,568.5 L2866,569.7 L2866.9,570.8 L2867.8,571.9 L2868.7,572.8 L2869.6,573.6 L2870.4,574.2 L2871.1,574.3 L2871.8,574.1 L2872.5,574 L2873.2,573.8 L2873.9,573.7 L2874.6,573.5 L2875.3,573.4 L2876,573.3 L2876.7,573.2 L2877.4,572.9 L2878.1,572.3 L2878.8,571.7 L2879.5,571 L2880.3,570.3 L2881,569.6 L2881.8,568.8 L2882.5,568 L2883.3,567.1 L2884.1,566.3 L2884.9,565.4 L2885.7,564.5 L2886.6,563.6 L2887.5,562.7 L2888.3,561.8 L2889.2,560.8 L2890.2,559.9 L2891.1,559 L2892.1,558 L2893,557 L2894,556.1 L2895,555.1 L2896.1,554.1 L2897.1,553.1 L2897.8,554.6 L2898.4,556 L2899.1,557.5 L2899.7,558.9 L2900.3,560.4 L2900.8,561.8 L2901.4,563.2 L2901.9,564.5 L2902.4,565.9 L2902.9,567.2 L2903.4,568.5 L2903.8,569.8 L2904.3,571 L2904.7,572.3 L2905.2,573.4 L2905.6,574.6 L2906,575.7 L2906.4,576.8 L2906.8,577.8 L2907.2,578.8 L2907.9,579.2 L2908.8,578.7 L2909.7,578.2 L2910.7,577.6 L2911.7,576.9 L2912.8,576.3 L2913.9,575.6 L2915,574.8 L2916.2,574 L2917.4,573.2 L2918.6,572.4 L2919.9,571.6 L2921.2,570.7 L2922.5,569.8 L2923.9,568.9 L2925.3,568 L2926.8,567.1 L2928.3,566.1 L2929.8,565.2 L2931.3,564.2 L2932.9,563.2 L2934.1,563 L2934.2,564.7 L2934.2,566.5 L2934.2,568.2 L2934.2,569.9 L2934.2,571.5 L2934.2,573.1 L2934.2,574.7 L2934.1,576.2 L2934.1,577.7 L2934.1,579.2 L2934.1,580.6 L2934,582 L2934,583.4 L2934,584.7 L2934,586 L2934,587.2 L2934,588.4 L2934,589.5 L2934.1,590.6 L2934.1,591.7 L2934.3,592.7 L2934.4,593.6 L2934.6,594.4 L2935.1,594.9 L2935.7,595.3 L2936.3,595.7 L2936.8,596.1 L2937.4,596.6 L2938,597 L2938.6,597.4 L2939.1,597.9 L2939.7,598.3 L2940.4,598.6 L2941.2,598.8 L2942.1,599 L2943.1,599.1 L2944.1,599.2 L2945.1,599.3 L2946.2,599.4 L2947.2,599.4 L2948.3,599.5 L2949.5,599.6 L2950.6,599.6 L2951.8,599.7 L2953,599.8 L2954.2,599.9 L2955.4,600 L2956.6,600.1 L2957.9,600.2 L2959.1,600.3 L2960.4,600.4 L2961.7,600.6 L2963,600.7 L2964.3,600.9 L2965.7,601.1 L2967,601.2 L2966.7,602.5 L2966.1,603.9 L2965.5,605.2 L2964.9,606.6 L2964.3,607.9 L2963.7,609.1 L2963.1,610.4 L2962.5,611.7 L2961.9,612.9 L2961.3,614.1 L2960.7,615.2 L2960.2,616.4 L2959.6,617.5 L2959,618.6 L2958.5,619.7 L2958,620.7 L2957.5,621.8 L2957,622.8 L2956.5,623.7 L2956.1,624.7 L2955.7,625.6 L2955.4,626.4 L2955.1,627.3 L2955,628.1 L2955.1,628.8 L2955.3,629.4 L2955.4,630.1 L2955.5,630.8 L2955.7,631.5 L2956.1,632 L2956.8,632.6 L2957.5,633.1 L2958.4,633.5 L2959.2,634 L2960.2,634.5 L2961.2,635 L2962.2,635.5 L2963.3,636 L2964.5,636.5 L2965.6,637 L2966.9,637.5 L2968.1,638.1 L2969.4,638.6 L2970.7,639.2 L2972,639.8 L2973.4,640.4 L2974.8,641 L2976.2,641.6 L2977.7,642.3 L2979.2,642.9 L2980.7,643.6 L2982.2,644.4 L2983.7,645.1 L2982.6,646.1 L2981.4,647.1 L2980.3,648.1 L2979.1,649 L2978,649.9 L2976.9,650.8 L2975.8,651.7 L2974.8,652.5 L2973.7,653.4 L2972.7,654.2 Z" fill="#A679C9" filter="url(#blur1)"/><path d="M2958.8,655 L2958,655.7 L2957.2,656.3 L2956.5,657 L2955.8,657.6 L2955.2,658.2 L2954.6,658.9 L2954.1,659.5 L2953.8,660.1 L2953.8,660.7 L2953.9,661.4 L2953.9,662 L2953.9,662.7 L2954.2,663.3 L2954.7,664.1 L2955.5,664.8 L2956.3,665.6 L2957.2,666.4 L2958.1,667.2 L2959.1,668.1 L2960.1,669 L2961.2,669.9 L2962.3,670.8 L2963.4,671.8 L2964.6,672.8 L2965.7,673.8 L2966.9,674.8 L2968.1,675.9 L2969.4,677 L2970.6,678.2 L2971.8,679.3 L2973.1,680.5 L2973.1,681.4 L2971.4,681.8 L2969.6,682.1 L2967.9,682.4 L2966.2,682.7 L2964.5,682.9 L2962.8,683.2 L2961.2,683.4 L2959.6,683.6 L2958.1,683.8 L2956.6,684 L2955.2,684.2 L2953.7,684.4 L2952.4,684.6 L2951.1,684.7 L2949.9,684.9 L2948.7,685.1 L2947.6,685.4 L2946.7,685.6 L2946,686 L2945.7,686.5 L2945.3,687 L2945.2,687.7 L2945.7,688.7 L2946.2,689.7 L2947,690.8 L2947.8,692 L2948.7,693.3 L2949.6,694.6 L2950.7,696 L2951.7,697.5 L2952.8,699 L2954,700.6 L2955.2,702.3 L2956.4,704 L2957.7,705.8 L2959,707.6 L2960.3,709.5 L2961.6,711.4 L2962.9,713.4 L2964.3,715.5 L2963.5,716.1 L2961.1,715.4 L2958.8,714.7 L2956.5,714 L2954.2,713.2 L2952,712.5 L2949.9,711.8 L2947.9,711.1 L2945.9,710.4 L2944,709.8 L2942.2,709.1 L2940.4,708.5 L2938.8,707.9 L2937.2,707.4 L2935.7,706.9 L2934.3,706.4 L2933,706.1 L2932.3,706.3 L2932.2,707.2 L2932.3,708.1 L2932.3,709 L2932.3,710 L2932.4,711 L2932.4,712.1 L2932.4,713.1 L2932.5,714.2 L2932.5,715.3 L2932.6,716.5 L2932.6,717.6 L2932.7,718.8 L2932.7,720 L2932.7,721.2 L2932.1,721.5 L2931,721.4 L2930,721.3 L2929.1,721.2 L2928.1,721 L2927.1,720.9 L2926.2,720.8 L2925.3,720.6 L2924.4,720.5 L2923.5,720.4 L2922.6,720.3 L2921.7,720.2 L2920.9,720.1 L2920.1,720 L2919.3,720 L2918.5,719.9 L2917.7,719.9 L2917,719.9 L2916.3,720 L2915.7,720.3 L2915.1,720.6 L2914.6,720.9 L2914,721.2 L2913.4,721.5 L2912.9,721.8 L2912.3,722.1 L2911.7,722.3 L2911.1,722.7 L2910.7,723.3 L2910.2,723.9 L2909.8,724.6 L2909.4,725.3 L2909,726.1 L2908.6,726.9 L2908.2,727.7 L2907.8,728.5 L2907.3,729.4 L2906.9,730.2 L2906.5,731.1 L2906,732 L2905.6,733 L2905.1,733.9 L2904.7,734.8 L2904.2,735.8 L2903.7,736.8 L2903.2,737.8 L2902.4,737.9 L2901.5,737 L2900.5,736.2 L2899.6,735.4 L2898.6,734.5 L2897.7,733.7 L2896.9,732.9 L2896,732.1 L2895.2,731.4 L2894.3,730.6 L2893.5,729.9 L2892.7,729.2 L2892,728.5 L2891.2,727.8 L2890.5,727.2 L2889.8,726.6 L2889.1,726.1 L2888.4,725.6 L2887.8,725.3 L2887.1,725.1 L2886.5,725.1 L2885.9,725.1 L2885.3,725 L2884.7,725 L2884.1,725.4 L2883.5,726.2 L2882.9,727.2 L2882.3,728.3 L2881.7,729.6 L2881,730.9 L2880.3,732.3 L2879.6,733.8 L2878.9,735.4 L2878.1,737 L2877.3,738.7 L2876.5,740.5 L2875.7,742.3 L2874.8,744.1 L2873.8,746 L2872.9,747.9 L2871.9,749.9 L2870.8,751.9 L2869.7,753.9 L2868.9,753.6 L2868.3,751.5 L2867.7,749.5 L2867.2,747.6 L2866.6,745.6 L2866.1,743.8 L2865.7,741.9 L2865.2,740.1 L2864.8,738.4 L2864.4,736.7 L2864,735.1 L2863.6,733.6 L2863.2,732.1 L2862.8,730.7 L2862.5,729.4 L2862.1,728.1 L2861.7,727 L2861.3,726 L2860.9,725.2 L2860.3,724.9 L2859.7,724.8 L2859,724.7 L2858.4,724.6 L2857.8,724.5 L2857.1,724.4 L2856.5,724.2 L2855.9,724.1 L2855.2,723.9 L2854.6,723.8 L2854,723.6 L2853.3,723.4 L2852.6,723.6 L2851.8,723.8 L2850.9,724.2 L2850,724.6 L2849.1,725 L2848.2,725.4 L2847.2,725.9 L2846.2,726.4 L2845.1,726.9 L2844.1,727.5 L2843,728 L2841.9,728.6 L2840.8,729.1 L2839.6,729.7 L2838.4,730.2 L2837.2,730.8 L2836,731.4 L2834.8,731.9 L2833.5,732.5 L2833.4,731.1 L2833.5,729.6 L2833.5,728.1 L2833.6,726.7 L2833.6,725.3 L2833.7,723.8 L2833.8,722.5 L2833.8,721.1 L2833.9,719.8 L2834,718.5 L2834.1,717.3 L2834.1,716.1 L2834.2,714.9 L2834.3,713.7 L2834.3,712.7 L2834.3,711.6 L2834.3,710.6 L2834.3,709.7 L2834.1,708.9 L2833.8,708.4 L2833.4,707.9 L2833,707.4 L2832.5,707 L2831.9,706.8 L2831.2,706.6 L2830.5,706.4 L2829.7,706.3 L2829,706.1 L2828.2,706 L2827.3,705.9 L2826.5,705.8 L2825.6,705.8 L2824.7,705.7 L2823.7,705.7 L2822.8,705.6 L2821.8,705.6 L2820.8,705.5 L2819.7,705.5 L2818.7,705.5 L2817.6,705.4 L2816.5,705.4 L2816.2,704.7 L2816.5,703.6 L2816.7,702.6 L2816.9,701.6 L2817.1,700.6 L2817.3,699.6 L2817.5,698.7 L2817.6,697.7 L2817.8,696.8 L2817.9,695.9 L2818.1,695.1 L2818.2,694.2 L2818.3,693.4 L2818.4,692.6 L2818.4,691.9 L2818.4,691.1 L2818.4,690.4 L2818.4,689.7 L2818.2,689.1 L2817.9,688.5 L2817.5,688 L2817.1,687.5 L2816.7,687 L2816.3,686.5 L2815.8,686.1 L2815.2,685.7 L2814.5,685.3 L2813.8,684.9 L2813.1,684.5 L2812.4,684.1 L2811.6,683.7 L2810.9,683.3 L2810.1,682.9 L2809.3,682.5 L2808.5,682.1 L2807.7,681.7 L2806.9,681.3 L2806,680.8 L2805.2,680.4 L2804.4,679.9 L2803.5,679.4 L2802.7,678.9 L2801.8,678.5 L2802.1,677.6 L2802.4,676.8 L2802.8,676 L2803.1,675.1 L2803.5,674.3 L2803.8,673.5 L2804.2,672.7 L2804.6,671.9 L2804.9,671.2 L2805.3,670.4 L2805.6,669.7 L2806,668.9 L2806.3,668.2 L2806.7,667.4 L2807,666.7 L2807.3,666 L2807.6,665.3 L2807.8,664.6 L2808,664 L2808,663.3 L2808.1,662.7 L2808.1,662 L2808.1,661.4 L2808.2,660.7 L2808.2,660.1 L2808.3,659.4 L2808.4,658.8 L2808.5,658.2 L2808.6,657.5 L2808.7,656.9 L2808.8,656.3 L2808.9,655.6 L2809,655 L2809.1,654.4 L2809.3,653.7 L2809.4,653.1 L2809.5,652.5 L2809.7,651.9 L2809.8,651.3 L2810,650.7 L2810.1,650 L2810.3,649.4 L2810.4,648.8 L2810.6,648.2 L2810.7,647.6 L2810.9,647 L2810.9,646.4 L2810.4,645.7 L2809.8,645 L2809,644.2 L2808.2,643.5 L2807.2,642.7 L2806.2,641.8 L2805.2,640.9 L2804,640 L2802.9,639.1 L2801.6,638.1 L2800.4,637.1 L2799.1,636.1 L2797.7,635 L2796.4,633.9 L2795,632.7 L2793.5,631.6 L2792.1,630.3 L2790.6,629.1 L2790,628 L2791.9,627.7 L2793.7,627.5 L2795.4,627.2 L2797.2,627 L2798.9,626.7 L2800.5,626.5 L2802.1,626.3 L2803.7,626.1 L2805.1,625.9 L2806.6,625.7 L2808,625.5 L2809.3,625.3 L2810.6,625.1 L2811.8,624.9 L2812.9,624.7 L2813.9,624.4 L2814.9,624.2 L2815.7,623.8 L2816.2,623.4 L2816.4,622.8 L2816.6,622.2 L2816.8,621.6 L2816.9,620.9 L2817.1,620.3 L2817.3,619.7 L2817.6,619.1 L2817.8,618.5 L2817.9,617.8 L2817.8,617 L2817.6,616.1 L2817.3,615.2 L2817.1,614.3 L2816.8,613.3 L2816.4,612.3 L2816.1,611.2 L2815.7,610.1 L2815.4,609 L2815,607.9 L2814.6,606.8 L2814.2,605.6 L2813.8,604.4 L2813.5,603.2 L2813.1,601.9 L2812.7,600.7 L2812.3,599.4 L2812,598.1 L2812.3,597.4 L2813.7,597.5 L2815,597.7 L2816.4,597.8 L2817.7,598 L2819,598.2 L2820.2,598.3 L2821.5,598.5 L2822.7,598.7 L2823.9,598.9 L2825.1,599.1 L2826.2,599.3 L2827.4,599.5 L2828.4,599.6 L2829.5,599.8 L2830.5,599.9 L2831.5,600 L2832.4,600.1 L2833.2,600 L2833.9,599.9 L2834.5,599.6 L2835.1,599.3 L2835.6,599 L2836.2,598.7 L2836.8,598.4 L2837.3,598.1 L2837.9,597.8 L2838.5,597.5 L2839,597.3 L2839.6,597 L2840.2,596.7 L2840.8,596.4 L2841.3,596.2 L2841.9,595.9 L2842.5,595.7 L2843,595.4 L2843.6,595.2 L2844.2,594.9 L2844.7,594.7 L2845.3,594.4 L2845.9,594.1 L2846.4,593.9 L2847,593.6 L2847.4,593.2 L2847.6,592.2 L2847.7,591 L2847.7,589.7 L2847.8,588.3 L2847.7,586.8 L2847.7,585.2 L2847.7,583.5 L2847.6,581.7 L2847.5,579.9 L2847.5,577.9 L2847.4,575.9 L2847.4,573.9 L2847.4,571.8 L2847.4,569.6 L2847.3,567.3 L2847.4,565 L2847.4,562.7 L2847.5,560.3 L2848.1,559.3 L2849.6,561 L2851,562.7 L2852.4,564.3 L2853.8,565.9 L2855.1,567.5 L2856.3,569 L2857.6,570.5 L2858.8,572 L2859.9,573.4 L2861,574.7 L2862,576.1 L2863.1,577.3 L2864,578.5 L2865,579.6 L2865.9,580.6 L2866.7,581.5 L2867.5,582.3 L2868.3,583 L2869,583.2 L2869.6,583 L2870.2,582.8 L2870.8,582.6 L2871.4,582.4 L2872.1,582.2 L2872.7,582.1 L2873.3,581.9 L2873.9,581.8 L2874.6,581.6 L2875.2,581.5 L2875.9,581.4 L2876.5,581.3 L2877.1,581.2 L2877.8,581.2 L2878.4,581.1 L2879.1,581.1 L2879.7,581 L2880.4,581 L2881,580.6 L2881.7,580.1 L2882.3,579.5 L2883,578.9 L2883.7,578.2 L2884.4,577.5 L2885.1,576.8 L2885.8,576 L2886.6,575.2 L2887.3,574.4 L2888.1,573.6 L2888.9,572.8 L2889.7,571.9 L2890.6,571 L2891.4,570.1 L2892.3,569.3 L2893.2,568.3 L2894.1,567.4 L2895,566.5 L2895.6,567.9 L2896.1,569.2 L2896.6,570.6 L2897.1,571.9 L2897.6,573.2 L2898.1,574.5 L2898.6,575.8 L2899,577 L2899.4,578.2 L2899.8,579.4 L2900.3,580.6 L2900.7,581.7 L2901,582.7 L2901.4,583.8 L2901.8,584.7 L2902.2,585.6 L2902.6,586.5 L2903,587.3 L2903.5,587.9 L2904,588.2 L2904.5,588.5 L2905.1,588.8 L2905.7,588.9 L2906.4,588.7 L2907.2,588.4 L2908.1,588 L2909,587.5 L2909.9,586.9 L2910.9,586.3 L2911.9,585.6 L2913,584.9 L2914,584.1 L2915.2,583.4 L2916.3,582.6 L2917.5,581.7 L2918.8,580.9 L2920,580 L2921.4,579.1 L2922.7,578.2 L2924.1,577.3 L2925.5,576.3 L2926.6,576 L2926.6,577.6 L2926.5,579.2 L2926.5,580.8 L2926.4,582.3 L2926.4,583.7 L2926.3,585.2 L2926.3,586.6 L2926.3,587.9 L2926.2,589.2 L2926.2,590.5 L2926.1,591.7 L2926.1,592.9 L2926.1,594 L2926.2,595.1 L2926.2,596.1 L2926.3,597 L2926.4,597.9 L2926.6,598.7 L2926.9,599.3 L2927.5,599.6 L2928.1,599.9 L2928.6,600.2 L2929.2,600.6 L2929.7,600.9 L2930.3,601.2 L2930.8,601.6 L2931.3,602 L2931.9,602.3 L2932.4,602.7 L2932.9,603.1 L2933.4,603.5 L2933.9,603.9 L2934.4,604.3 L2934.9,604.7 L2935.4,605.2 L2935.9,605.6 L2936.3,606 L2937,606.3 L2937.8,606.5 L2938.6,606.6 L2939.5,606.7 L2940.5,606.8 L2941.4,606.9 L2942.4,607 L2943.4,607.1 L2944.5,607.2 L2945.5,607.2 L2946.6,607.3 L2947.7,607.4 L2948.9,607.5 L2950,607.6 L2951.2,607.7 L2952.3,607.8 L2953.5,607.9 L2954.7,608 L2956,608.2 L2955.6,609.3 L2955,610.5 L2954.4,611.7 L2953.9,612.9 L2953.3,614.1 L2952.7,615.2 L2952.2,616.4 L2951.6,617.5 L2951,618.5 L2950.5,619.6 L2950,620.6 L2949.5,621.6 L2949,622.6 L2948.5,623.5 L2948.1,624.4 L2947.7,625.3 L2947.3,626.2 L2947,627 L2946.9,627.7 L2946.9,628.4 L2947.1,629 L2947.2,629.6 L2947.3,630.2 L2947.4,630.8 L2947.6,631.4 L2947.7,632 L2947.8,632.6 L2947.9,633.3 L2948.1,633.9 L2948.2,634.5 L2948.3,635.1 L2948.4,635.7 L2948.6,636.3 L2948.7,636.9 L2949.2,637.4 L2949.9,637.8 L2950.7,638.3 L2951.5,638.7 L2952.4,639.2 L2953.4,639.6 L2954.4,640.1 L2955.5,640.5 L2956.6,641 L2957.7,641.5 L2958.9,642 L2960.2,642.5 L2961.4,643 L2962.7,643.5 L2964.1,644.1 L2965.4,644.6 L2966.8,645.2 L2968.2,645.8 L2969.7,646.5 L2968.6,647.3 L2967.5,648.2 L2966.5,649 L2965.4,649.8 L2964.4,650.6 L2963.4,651.4 L2962.4,652.2 L2961.5,652.9 L2960.6,653.6 L2959.7,654.3 Z" fill="#C68CEB" filter="url(#blur2)"/><circle cx="2881" cy="655" r="64" fill="#CB92F2" filter="url(#blur4)"/><ellipse cx="2880" cy="654" rx="33" ry="30.7" fill="#9A74B3" filter="url(#blur2)"/><ellipse cx="2880" cy="654" rx="19.8" ry="18.2" fill="#8F6BA8" opacity="0.6" filter="url(#blur2)"/></g>
<g><path d="M3085.1,829 L3086.4,829.6 L3087.7,830.3 L3088.9,831 L3090.2,831.7 L3091.6,832.4 L3092.6,833.1 L3091.4,833.7 L3090.3,834.3 L3089.1,834.9 L3088,835.5 L3086.9,836 L3085.8,836.5 L3084.7,837.1 L3083.6,837.5 L3082.6,838 L3081.5,838.5 L3080.5,838.9 L3079.5,839.4 L3078.5,839.8 L3077.6,840.2 L3076.6,840.6 L3075.7,841 L3074.8,841.4 L3074,841.7 L3073.1,842.1 L3072.3,842.5 L3071.6,842.8 L3070.9,843.2 L3070.4,843.6 L3070,844 L3069.8,844.5 L3069.6,844.9 L3069.4,845.4 L3069.2,845.9 L3069,846.3 L3068.8,846.8 L3068.6,847.3 L3068.3,847.7 L3068.1,848.2 L3067.8,848.6 L3067.6,849 L3067.4,849.5 L3067.4,850 L3067.4,850.6 L3067.6,851.2 L3067.8,851.8 L3068,852.5 L3068.2,853.1 L3068.5,853.8 L3068.8,854.5 L3069.1,855.3 L3069.4,856 L3069.7,856.8 L3070.1,857.6 L3070.4,858.4 L3070.8,859.2 L3071.2,860 L3071.6,860.9 L3071.9,861.8 L3072.3,862.7 L3072.8,863.6 L3073.2,864.5 L3073.6,865.5 L3074,866.5 L3074.4,867.5 L3074.3,868.2 L3073.1,868.1 L3071.9,868 L3070.7,867.9 L3069.5,867.9 L3068.4,867.8 L3067.3,867.7 L3066.2,867.6 L3065.1,867.5 L3064.1,867.4 L3063.1,867.4 L3062.1,867.3 L3061.2,867.2 L3060.3,867.1 L3059.4,867.1 L3058.5,867 L3057.7,867 L3056.9,867 L3056.1,866.9 L3055.4,866.9 L3054.7,867 L3054.1,867 L3053.5,867.1 L3053,867.3 L3052.6,867.6 L3052.3,868 L3052,868.4 L3051.8,868.8 L3051.5,869.2 L3051.2,869.6 L3050.9,870 L3050.6,870.4 L3050.4,870.8 L3050.1,871.2 L3049.8,871.6 L3049.6,872.2 L3049.5,872.9 L3049.5,873.6 L3049.5,874.4 L3049.4,875.2 L3049.4,876 L3049.4,876.9 L3049.5,877.8 L3049.5,878.7 L3049.5,879.7 L3049.5,880.6 L3049.5,881.6 L3049.5,882.6 L3049.5,883.7 L3049.5,884.7 L3049.5,885.8 L3049.4,886.8 L3049.4,887.9 L3049.3,889 L3049.3,890.1 L3049.2,891.2 L3049.1,892.4 L3049,893.5 L3048.9,894.7 L3048,894.2 L3047,893.7 L3046,893.2 L3045.1,892.7 L3044.2,892.2 L3043.2,891.7 L3042.3,891.2 L3041.5,890.7 L3040.6,890.2 L3039.7,889.6 L3038.9,889.1 L3038.1,888.6 L3037.3,888.1 L3036.5,887.6 L3035.7,887.1 L3035,886.6 L3034.2,886.1 L3033.5,885.7 L3032.8,885.2 L3032.1,884.8 L3031.5,884.4 L3030.8,884 L3030.2,883.7 L3029.8,883.9 L3029.3,884.3 L3028.9,884.8 L3028.5,885.2 L3028.1,885.7 L3027.7,886.2 L3027.3,886.8 L3026.9,887.3 L3026.5,887.9 L3026.1,888.6 L3025.7,889.2 L3025.3,889.8 L3024.8,890.5 L3024.4,891.2 L3024,891.9 L3023.5,892.6 L3023,893.3 L3022.6,894.1 L3022.1,894.8 L3021.6,895.6 L3021.1,896.4 L3020.6,897.2 L3020,898.1 L3019.4,897.8 L3018.7,896.9 L3018.1,896.1 L3017.5,895.2 L3016.9,894.4 L3016.3,893.6 L3015.7,892.8 L3015.1,892.1 L3014.5,891.3 L3014,890.6 L3013.5,889.9 L3012.9,889.2 L3012.4,888.6 L3011.9,887.9 L3011.4,888.6 L3010.8,889.8 L3010.2,891 L3009.6,892.3 L3008.9,893.6 L3008.2,895 L3007.5,896.4 L3006.8,897.9 L3006,899.4 L3005.2,900.9 L3004.3,902.5 L3003.5,904 L3002.5,905.6 L3001.6,907.3 L3000.6,908.9 L2999.6,910.6 L2998.6,912.3 L2997.5,914 L2996.8,913.5 L2996.4,911.7 L2996,910 L2995.7,908.3 L2995.4,906.6 L2995,905 L2994.8,903.4 L2994.5,901.8 L2994.2,900.3 L2994,898.8 L2993.8,897.3 L2993.6,895.8 L2993.4,894.4 L2993.2,893.1 L2993,891.7 L2992.8,890.5 L2992.7,889.2 L2992.5,888 L2992.4,886.9 L2992.2,885.8 L2992,884.8 L2991.8,883.9 L2991.6,883.1 L2991.3,882.4 L2990.9,882.1 L2990.4,881.9 L2990,881.8 L2989.5,881.6 L2989,881.3 L2988.6,881.1 L2988.1,880.9 L2987.7,880.7 L2987.2,880.4 L2986.8,880.1 L2986.4,879.9 L2985.9,879.6 L2985.4,879.5 L2984.9,879.5 L2984.3,879.4 L2983.7,879.4 L2983.1,879.4 L2982.5,879.5 L2981.8,879.5 L2981.2,879.6 L2980.5,879.6 L2979.8,879.7 L2979.1,879.7 L2978.4,879.8 L2977.7,879.9 L2977,879.9 L2976.3,880 L2975.5,880.1 L2974.8,880.1 L2974,880.2 L2973.2,880.3 L2972.4,880.3 L2971.6,880.4 L2970.8,880.5 L2970,880.5 L2969.4,880.3 L2969.5,879.3 L2969.6,878.3 L2969.7,877.3 L2969.8,876.4 L2969.9,875.4 L2970.1,874.5 L2970.2,873.6 L2970.3,872.7 L2970.4,871.8 L2970.5,871 L2970.6,870.2 L2970.7,869.3 L2970.8,868.5 L2970.9,867.8 L2971,867 L2971.1,866.3 L2971.1,865.6 L2971.2,864.9 L2971.2,864.3 L2971.2,863.6 L2971.2,863 L2971.2,862.5 L2971.1,862 L2970.8,861.5 L2970.5,861.2 L2970.2,860.8 L2969.9,860.4 L2969.6,860.1 L2969.3,859.7 L2969,859.4 L2968.7,859 L2968.3,858.7 L2968,858.3 L2967.7,857.9 L2967.4,857.6 L2967,857.2 L2966.7,856.9 L2966.4,856.5 L2966,856.1 L2965.7,855.8 L2965.1,855.5 L2964.3,855.4 L2963.4,855.3 L2962.4,855.3 L2961.4,855.3 L2960.2,855.2 L2959,855.2 L2957.8,855.2 L2956.5,855.2 L2955.2,855.2 L2953.9,855.1 L2952.5,855.1 L2951.1,855.1 L2949.6,855 L2948.1,855 L2946.6,854.9 L2945.1,854.8 L2943.5,854.7 L2941.9,854.5 L2940.3,854.4 L2938.7,854.2 L2937,854 L2935.3,853.8 L2933.7,853.6 L2934.2,852.6 L2935.4,851.5 L2936.6,850.5 L2937.7,849.4 L2938.9,848.4 L2940,847.5 L2941.1,846.5 L2942.3,845.6 L2943.4,844.7 L2944.5,843.8 L2945.6,842.9 L2946.7,842.1 L2947.7,841.3 L2948.8,840.5 L2949.8,839.7 L2950.8,839 L2951.7,838.3 L2952.7,837.6 L2953.6,837 L2954.4,836.3 L2955.2,835.7 L2955.9,835.1 L2956.6,834.5 L2957,834 L2957.1,833.5 L2957.2,833 L2957.3,832.5 L2957.4,832 L2957.4,831.5 L2957.2,831 L2956.9,830.5 L2956.5,830 L2956.1,829.5 L2955.6,829 L2955.1,828.5 L2954.6,828 L2954.1,827.4 L2953.5,826.9 L2952.9,826.3 L2952.3,825.8 L2951.6,825.2 L2951,824.6 L2950.3,824 L2949.6,823.4 L2948.9,822.7 L2948.1,822.1 L2947.4,821.4 L2946.6,820.7 L2945.8,820 L2945,819.3 L2944.2,818.6 L2943.4,817.8 L2943.2,817.1 L2944.3,816.7 L2945.4,816.3 L2946.5,815.9 L2947.6,815.5 L2948.6,815.1 L2949.7,814.7 L2950.7,814.4 L2951.7,814 L2952.6,813.7 L2953.5,813.4 L2954.4,813 L2955.3,812.7 L2956.2,812.4 L2957,812.1 L2957.8,811.8 L2958.5,811.5 L2959.2,811.2 L2959.9,810.9 L2960.6,810.6 L2961.2,810.3 L2961.7,810 L2962.2,809.6 L2962.5,809.2 L2962.3,808.6 L2962.1,808 L2961.9,807.4 L2961.6,806.8 L2961.4,806.1 L2961.1,805.4 L2960.8,804.7 L2960.5,804 L2960.1,803.3 L2959.8,802.6 L2959.5,801.8 L2959.2,801.1 L2958.8,800.3 L2958.5,799.5 L2958.2,798.7 L2957.8,797.9 L2957.5,797 L2957.2,796.2 L2956.9,795.3 L2956.6,794.5 L2956.3,793.6 L2955.9,792.7 L2956.1,792.1 L2956.9,791.9 L2957.7,791.7 L2958.5,791.6 L2959.3,791.4 L2960,791.2 L2960.8,791.1 L2961.6,790.9 L2962.3,790.8 L2963.1,790.6 L2963.8,790.5 L2964.5,790.4 L2965.3,790.2 L2966,790.1 L2966.7,790 L2967.4,789.9 L2968.1,789.8 L2968.8,789.7 L2969.5,789.6 L2970.1,789.5 L2970.8,789.4 L2971.4,789.3 L2972,789.1 L2972.5,789 L2973,788.7 L2973.4,788.4 L2973.8,788.1 L2974.2,787.8 L2974.7,787.6 L2975,787.2 L2975.2,786.6 L2975.3,786 L2975.4,785.4 L2975.5,784.7 L2975.6,784 L2975.6,783.2 L2975.6,782.5 L2975.7,781.6 L2975.7,780.8 L2975.7,780 L2975.7,779.1 L2975.7,778.2 L2975.7,777.2 L2975.7,776.3 L2975.7,775.3 L2975.7,774.3 L2975.7,773.3 L2975.7,772.2 L2975.7,771.2 L2975.7,770.1 L2975.7,768.9 L2975.8,767.8 L2975.8,766.7 L2976.6,766.8 L2977.7,767.4 L2978.8,768 L2979.9,768.7 L2980.9,769.3 L2981.9,769.9 L2982.9,770.5 L2983.9,771.1 L2984.8,771.7 L2985.7,772.2 L2986.6,772.8 L2987.4,773.3 L2988.3,773.9 L2989.1,774.3 L2989.9,774.8 L2990.6,775.3 L2991.4,775.7 L2992.1,776.1 L2992.8,776.5 L2993.4,776.8 L2994.1,777.1 L2994.7,777.3 L2995,776.8 L2995.2,775.9 L2995.4,775 L2995.6,773.9 L2995.8,772.8 L2995.9,771.7 L2996.1,770.5 L2996.3,769.3 L2996.5,768 L2996.7,766.6 L2996.9,765.3 L2997.2,763.9 L2997.4,762.5 L2997.7,761 L2998,759.5 L2998.3,758 L2998.6,756.4 L2998.9,754.9 L2999.3,753.3 L2999.7,751.7 L3000.1,750 L3000.5,748.4 L3001.1,747.4 L3002,748.6 L3002.9,749.8 L3003.7,751 L3004.6,752.2 L3005.4,753.4 L3006.2,754.6 L3006.9,755.7 L3007.7,756.9 L3008.4,758 L3009.1,759.1 L3009.8,760.2 L3010.5,761.3 L3011.1,762.3 L3011.7,763.4 L3012.3,764.4 L3012.9,765.4 L3013.5,766.3 L3014,767.2 L3014.5,768.1 L3015,768.9 L3015.6,769.6 L3016,770.3 L3016.5,770.9 L3017.1,770.8 L3017.6,770.5 L3018.1,770.1 L3018.7,769.7 L3019.2,769.2 L3019.8,768.7 L3020.4,768.2 L3021,767.7 L3021.6,767.2 L3022.2,766.6 L3022.8,766.1 L3023.5,765.5 L3024.1,764.9 L3024.8,764.3 L3025.5,763.7 L3026.2,763.1 L3026.9,762.5 L3027.7,761.9 L3028.4,761.2 L3029.2,760.6 L3029.9,759.9 L3030.7,759.3 L3031.5,758.6 L3032.1,759 L3032.4,760.2 L3032.8,761.4 L3033.1,762.5 L3033.3,763.7 L3033.6,764.8 L3033.9,765.9 L3034.1,767 L3034.4,768.1 L3034.6,769.1 L3034.8,770.1 L3035.1,771.1 L3035.3,772.1 L3035.5,773 L3035.7,774 L3035.9,774.8 L3036.1,775.7 L3036.3,776.5 L3036.5,777.3 L3036.7,778 L3036.9,778.7 L3037.2,779.3 L3037.4,779.9 L3037.7,780.4 L3038.1,780.7 L3038.5,780.9 L3039,781.1 L3039.4,781.3 L3039.8,781.4 L3040.3,781.6 L3040.7,781.8 L3041.1,782 L3041.6,782.2 L3042,782.4 L3042.5,782.5 L3042.9,782.7 L3043.4,782.9 L3044,782.8 L3044.9,782.4 L3045.8,781.9 L3046.8,781.3 L3047.8,780.7 L3048.9,780 L3050.1,779.3 L3051.3,778.6 L3052.6,777.8 L3053.9,777 L3055.3,776.2 L3056.7,775.3 L3058.1,774.5 L3059.6,773.6 L3061.2,772.8 L3062.8,771.9 L3064.4,771 L3066,770.2 L3067.7,769.3 L3069.5,768.5 L3071.2,767.6 L3073.1,766.8 L3074.9,765.9 L3076.8,765.1 L3076.3,766.7 L3075.7,768.4 L3075,770.1 L3074.3,771.8 L3073.6,773.4 L3072.9,775 L3072.2,776.6 L3071.5,778.1 L3070.8,779.7 L3070.1,781.1 L3069.3,782.6 L3068.6,784 L3067.9,785.3 L3067.3,786.6 L3066.6,787.9 L3065.9,789.2 L3065.3,790.4 L3064.7,791.5 L3064.1,792.6 L3063.5,793.7 L3063,794.7 L3062.6,795.6 L3062.2,796.5 L3062.1,797.2 L3062.3,797.7 L3062.5,798.1 L3062.7,798.6 L3062.9,799.1 L3063,799.5 L3063.2,800 L3063.4,800.5 L3063.8,800.8 L3064.3,801.1 L3064.9,801.4 L3065.6,801.6 L3066.3,801.8 L3067.1,801.9 L3067.9,802.1 L3068.8,802.3 L3069.7,802.4 L3070.6,802.6 L3071.6,802.8 L3072.5,802.9 L3073.5,803.1 L3074.6,803.3 L3075.6,803.5 L3076.7,803.7 L3077.9,803.8 L3079,804 L3080.2,804.3 L3081.4,804.5 L3082.6,804.7 L3083.8,805 L3085.1,805.2 L3086.4,805.5 L3085.5,806.5 L3084.5,807.5 L3083.5,808.4 L3082.5,809.4 L3081.5,810.3 L3080.6,811.2 L3079.6,812 L3078.7,812.9 L3077.8,813.7 L3076.9,814.5 L3076.1,815.2 L3075.3,816 L3074.4,816.7 L3073.7,817.4 L3072.9,818.1 L3072.2,818.7 L3071.5,819.4 L3070.9,820 L3070.3,820.6 L3069.8,821.2 L3069.3,821.7 L3070.1,822.1 L3071,822.5 L3071.8,822.9 L3072.8,823.3 L3073.7,823.8 L3074.8,824.2 L3075.8,824.7 L3076.9,825.2 L3078,825.6 L3079.1,826.2 L3080.3,826.7 L3081.5,827.2 L3082.7,827.8 L3083.9,828.4 Z" fill="#A679C9" filter="url(#blur1)"/><path d="M3072.1,829 L3073.3,829.5 L3074.5,830.1 L3075.7,830.6 L3076.9,831.2 L3078.1,831.8 L3079.1,832.4 L3078,832.9 L3076.9,833.4 L3075.9,833.9 L3074.9,834.3 L3073.9,834.8 L3072.9,835.2 L3071.9,835.6 L3071,836 L3070,836.4 L3069.1,836.7 L3068.3,837.1 L3067.4,837.5 L3066.6,837.8 L3065.8,838.1 L3065.1,838.5 L3064.4,838.8 L3063.8,839.1 L3063.2,839.5 L3062.8,839.8 L3062.7,840.2 L3062.6,840.7 L3062.5,841.1 L3062.4,841.5 L3062.2,841.9 L3062.1,842.3 L3061.9,842.7 L3061.8,843.1 L3061.6,843.5 L3061.4,843.9 L3061.2,844.3 L3061,844.7 L3060.8,845.1 L3060.5,845.5 L3060.3,845.9 L3060.1,846.2 L3059.8,846.6 L3059.6,847 L3059.3,847.3 L3059.1,847.7 L3058.8,848 L3058.6,848.4 L3058.6,848.9 L3058.7,849.4 L3058.9,849.9 L3059.1,850.5 L3059.3,851.1 L3059.6,851.7 L3059.9,852.4 L3060.2,853 L3060.5,853.7 L3060.8,854.4 L3061.2,855.1 L3061.5,855.9 L3061.9,856.7 L3062.3,857.5 L3062.7,858.3 L3063.1,859.1 L3063.5,860 L3064,860.8 L3063.9,861.4 L3062.8,861.3 L3061.7,861.1 L3060.6,861 L3059.6,860.9 L3058.6,860.8 L3057.6,860.7 L3056.6,860.5 L3055.7,860.4 L3054.8,860.3 L3054,860.2 L3053.1,860.1 L3052.3,860 L3051.6,860 L3050.9,859.9 L3050.2,859.9 L3049.6,859.9 L3049,859.9 L3048.5,860 L3048.1,860.2 L3047.9,860.6 L3047.6,860.9 L3047.4,861.2 L3047.2,861.6 L3046.9,861.9 L3046.7,862.3 L3046.5,862.6 L3046.3,863 L3046,863.4 L3045.8,863.7 L3045.6,864.1 L3045.3,864.4 L3045.1,864.8 L3044.9,865.1 L3044.6,865.5 L3044.4,865.9 L3044.1,866.2 L3043.9,866.6 L3043.6,866.9 L3043.4,867.3 L3043.3,867.9 L3043.2,868.5 L3043.2,869.2 L3043.2,869.9 L3043.2,870.7 L3043.2,871.5 L3043.3,872.4 L3043.3,873.2 L3043.3,874.1 L3043.3,875 L3043.3,876 L3043.4,876.9 L3043.4,877.9 L3043.4,878.9 L3043.4,879.8 L3043.3,880.9 L3043.3,881.9 L3043.3,882.9 L3043.2,884 L3042.4,883.5 L3041.5,883 L3040.7,882.6 L3039.9,882.1 L3039.1,881.6 L3038.3,881.1 L3037.5,880.6 L3036.8,880.1 L3036,879.6 L3035.3,879.2 L3034.6,878.7 L3033.9,878.2 L3033.2,877.8 L3032.6,877.4 L3031.9,877 L3031.3,876.6 L3030.7,876.3 L3030.2,876 L3029.6,875.8 L3029.2,875.8 L3028.8,875.8 L3028.3,875.8 L3027.9,875.8 L3027.4,875.9 L3027,875.9 L3026.6,875.9 L3026.1,875.9 L3025.7,876 L3025.4,876.3 L3025,876.7 L3024.7,877.1 L3024.3,877.5 L3024,878 L3023.6,878.5 L3023.3,879 L3022.9,879.6 L3022.6,880.1 L3022.2,880.7 L3021.8,881.4 L3021.5,882 L3021.1,882.7 L3020.7,883.4 L3020.3,884.1 L3019.9,884.8 L3019.4,885.5 L3019,886.3 L3018.5,886 L3017.9,885.2 L3017.4,884.4 L3016.9,883.7 L3016.4,882.9 L3015.9,882.2 L3015.4,881.5 L3014.9,880.8 L3014.4,880.1 L3014,879.4 L3013.6,878.8 L3013.1,878.2 L3012.7,877.7 L3012.3,877.2 L3011.9,876.7 L3011.5,876.9 L3011,877.8 L3010.5,878.8 L3010,879.9 L3009.4,881.1 L3008.9,882.3 L3008.3,883.5 L3007.6,884.9 L3007,886.2 L3006.3,887.6 L3005.6,889.1 L3004.8,890.6 L3004,892.1 L3003.2,893.6 L3002.3,895.2 L3001.4,896.8 L3000.5,898.4 L3000,897.9 L2999.7,896.3 L2999.4,894.8 L2999.2,893.2 L2998.9,891.7 L2998.7,890.3 L2998.5,888.8 L2998.3,887.4 L2998.2,886.1 L2998,884.8 L2997.9,883.5 L2997.7,882.3 L2997.6,881.1 L2997.4,880 L2997.3,879 L2997.1,878 L2997,877.1 L2996.8,876.3 L2996.6,875.7 L2996.2,875.4 L2995.8,875.3 L2995.3,875.2 L2994.9,875.1 L2994.5,874.9 L2994.1,874.8 L2993.7,874.6 L2993.3,874.5 L2992.9,874.3 L2992.5,874.1 L2992.1,873.9 L2991.7,873.7 L2991.3,873.5 L2990.9,873.3 L2990.6,873.1 L2990.2,872.8 L2989.8,872.6 L2989.5,872.3 L2989.1,872.1 L2988.8,871.8 L2988.5,871.5 L2988.1,871.3 L2987.6,871.2 L2987.2,871.1 L2986.7,871.1 L2986.1,871.1 L2985.6,871.1 L2985,871.2 L2984.5,871.2 L2983.9,871.3 L2983.3,871.3 L2982.6,871.4 L2982,871.4 L2981.4,871.5 L2980.7,871.6 L2980,871.7 L2979.4,871.8 L2978.7,871.9 L2978,872 L2977.2,872 L2976.7,871.9 L2976.9,871 L2977,870.1 L2977.2,869.2 L2977.3,868.3 L2977.5,867.5 L2977.6,866.7 L2977.7,865.9 L2977.9,865.1 L2978,864.4 L2978.1,863.6 L2978.3,862.9 L2978.4,862.2 L2978.5,861.6 L2978.5,860.9 L2978.6,860.3 L2978.6,859.7 L2978.6,859.2 L2978.6,858.7 L2978.5,858.3 L2978.2,858 L2978,857.6 L2977.7,857.3 L2977.5,857 L2977.2,856.7 L2977,856.4 L2976.7,856.1 L2976.4,855.8 L2976.2,855.5 L2975.9,855.2 L2975.6,854.9 L2975.3,854.6 L2975,854.3 L2974.8,854 L2974.5,853.7 L2974.2,853.4 L2973.9,853.1 L2973.6,852.8 L2973.3,852.5 L2973,852.2 L2972.7,851.9 L2972.4,851.6 L2972.1,851.3 L2971.8,851 L2971.5,850.6 L2971.2,850.3 L2970.6,850.2 L2969.8,850.1 L2968.9,850 L2967.9,850 L2966.8,850 L2965.7,850 L2964.5,850 L2963.3,850 L2962,850 L2960.7,850 L2959.4,850 L2958,849.9 L2956.6,849.9 L2955.2,849.8 L2953.7,849.8 L2952.2,849.7 L2950.7,849.6 L2949.2,849.4 L2947.6,849.3 L2948.2,848.5 L2949.3,847.6 L2950.4,846.6 L2951.5,845.8 L2952.5,844.9 L2953.6,844.1 L2954.6,843.2 L2955.7,842.5 L2956.7,841.7 L2957.7,841 L2958.6,840.3 L2959.6,839.6 L2960.5,838.9 L2961.3,838.3 L2962.2,837.7 L2962.9,837.1 L2963.6,836.5 L2964.2,836 L2964.7,835.5 L2964.9,835 L2964.9,834.6 L2964.9,834.2 L2965,833.7 L2965,833.3 L2965.1,832.8 L2965.2,832.4 L2965.3,832 L2965.4,831.5 L2965.4,831.1 L2965.5,830.7 L2965.7,830.3 L2965.8,829.8 L2965.9,829.4 L2965.9,829 L2965.7,828.6 L2965.4,828.2 L2965,827.7 L2964.6,827.3 L2964.1,826.8 L2963.6,826.4 L2963.1,825.9 L2962.6,825.4 L2962,824.9 L2961.4,824.4 L2960.7,823.9 L2960.1,823.3 L2959.4,822.8 L2958.7,822.2 L2957.9,821.6 L2957.2,821 L2956.4,820.4 L2955.7,819.8 L2955.5,819.2 L2956.5,818.9 L2957.6,818.5 L2958.6,818.2 L2959.5,817.9 L2960.5,817.6 L2961.4,817.3 L2962.3,817.1 L2963.2,816.8 L2964,816.5 L2964.8,816.3 L2965.6,816 L2966.3,815.8 L2967,815.5 L2967.7,815.3 L2968.3,815 L2968.8,814.8 L2969.3,814.5 L2969.7,814.2 L2970,813.8 L2970.1,813.4 L2970.1,813 L2970.2,812.6 L2970.2,812.2 L2970.3,811.8 L2970.3,811.3 L2970.4,810.9 L2970.3,810.5 L2970.2,809.9 L2970,809.4 L2969.8,808.8 L2969.5,808.3 L2969.2,807.7 L2969,807 L2968.7,806.4 L2968.4,805.7 L2968,805.1 L2967.7,804.4 L2967.4,803.7 L2967.1,803 L2966.7,802.3 L2966.4,801.5 L2966.1,800.8 L2965.8,800 L2965.4,799.2 L2965.1,798.5 L2965.3,798 L2966,797.8 L2966.7,797.7 L2967.4,797.5 L2968,797.4 L2968.7,797.3 L2969.4,797.2 L2970.1,797.1 L2970.7,797 L2971.4,796.9 L2972,796.8 L2972.6,796.7 L2973.2,796.6 L2973.8,796.5 L2974.4,796.4 L2975,796.3 L2975.5,796.2 L2976.1,796 L2976.6,795.9 L2977,795.7 L2977.3,795.4 L2977.6,795.1 L2978,794.8 L2978.3,794.6 L2978.7,794.3 L2979.1,794.1 L2979.4,793.8 L2979.8,793.6 L2980.2,793.4 L2980.6,793.1 L2980.9,792.9 L2981.3,792.7 L2981.7,792.5 L2982.1,792.3 L2982.4,792 L2982.5,791.5 L2982.6,790.9 L2982.7,790.3 L2982.7,789.7 L2982.7,789 L2982.8,788.3 L2982.8,787.5 L2982.7,786.8 L2982.7,786 L2982.7,785.1 L2982.7,784.3 L2982.6,783.4 L2982.6,782.5 L2982.6,781.5 L2982.5,780.5 L2982.5,779.6 L2982.5,778.5 L2982.4,777.5 L2983.1,777.7 L2984.1,778.3 L2985.1,778.9 L2986,779.5 L2986.9,780.1 L2987.8,780.7 L2988.6,781.3 L2989.5,781.9 L2990.3,782.4 L2991,782.9 L2991.8,783.4 L2992.5,783.9 L2993.2,784.3 L2993.8,784.7 L2994.5,785.1 L2995.1,785.4 L2995.6,785.7 L2996.2,785.9 L2996.7,786.1 L2997,786 L2997.4,785.8 L2997.8,785.5 L2998.1,785.3 L2998.5,785.1 L2998.8,784.9 L2999.1,784.6 L2999.3,783.9 L2999.5,783.1 L2999.7,782.2 L2999.8,781.2 L3000,780.2 L3000.1,779.1 L3000.3,777.9 L3000.5,776.7 L3000.6,775.4 L3000.8,774.1 L3001,772.8 L3001.2,771.4 L3001.5,770 L3001.7,768.6 L3002,767.2 L3002.3,765.7 L3002.6,764.2 L3002.9,762.6 L3003.3,761.7 L3004.1,762.9 L3004.9,764 L3005.6,765.1 L3006.3,766.2 L3007,767.3 L3007.6,768.4 L3008.3,769.4 L3008.9,770.4 L3009.5,771.4 L3010,772.4 L3010.6,773.3 L3011.1,774.2 L3011.6,775.1 L3012.1,775.9 L3012.6,776.7 L3013.1,777.5 L3013.6,778.1 L3014,778.7 L3014.4,779 L3014.9,779 L3015.3,779.1 L3015.7,779.1 L3016.2,779.1 L3016.6,779.2 L3017,779.3 L3017.5,779.4 L3017.9,779.4 L3018.3,779.4 L3018.8,779.2 L3019.3,778.9 L3019.8,778.5 L3020.2,778.1 L3020.8,777.7 L3021.3,777.2 L3021.8,776.8 L3022.4,776.3 L3022.9,775.8 L3023.5,775.2 L3024.1,774.7 L3024.7,774.1 L3025.3,773.6 L3025.9,773 L3026.6,772.4 L3027.2,771.8 L3027.9,771.2 L3028.6,770.5 L3029,770.9 L3029.3,772 L3029.5,773.1 L3029.7,774.1 L3029.9,775.2 L3030.1,776.2 L3030.3,777.2 L3030.5,778.2 L3030.7,779.1 L3030.8,780.1 L3031,781 L3031.2,781.8 L3031.3,782.6 L3031.5,783.4 L3031.7,784.2 L3031.8,784.9 L3032,785.5 L3032.2,786.1 L3032.4,786.6 L3032.7,786.9 L3033.1,787.1 L3033.4,787.3 L3033.8,787.5 L3034.2,787.7 L3034.5,787.8 L3034.9,788 L3035.3,788.2 L3035.6,788.3 L3036,788.5 L3036.4,788.6 L3036.8,788.8 L3037.1,788.9 L3037.5,789.1 L3037.9,789.2 L3038.3,789.4 L3038.7,789.5 L3039.1,789.7 L3039.5,789.8 L3039.9,789.9 L3040.2,790.1 L3040.6,790.2 L3041.1,790.4 L3041.8,790.1 L3042.6,789.7 L3043.5,789.1 L3044.5,788.5 L3045.5,787.9 L3046.7,787.2 L3047.8,786.5 L3049.1,785.7 L3050.3,784.9 L3051.7,784.1 L3053,783.3 L3054.4,782.5 L3055.9,781.6 L3057.4,780.8 L3058.9,780 L3060.5,779.1 L3062.1,778.3 L3063.8,777.4 L3065.5,776.6 L3065,778 L3064.3,779.5 L3063.7,781.1 L3063,782.5 L3062.3,784 L3061.6,785.4 L3060.9,786.8 L3060.2,788.1 L3059.6,789.4 L3058.9,790.6 L3058.3,791.9 L3057.6,793 L3057,794.2 L3056.5,795.2 L3055.9,796.2 L3055.4,797.2 L3055,798.1 L3054.6,798.9 L3054.4,799.6 L3054.6,800 L3054.8,800.4 L3055,800.8 L3055.2,801.2 L3055.4,801.6 L3055.6,802 L3055.7,802.4 L3055.9,802.8 L3056,803.2 L3056.2,803.7 L3056.3,804.1 L3056.4,804.5 L3056.6,804.9 L3056.7,805.4 L3056.8,805.8 L3056.9,806.2 L3057,806.6 L3057.4,806.9 L3057.9,807.1 L3058.5,807.3 L3059.1,807.5 L3059.8,807.6 L3060.6,807.8 L3061.4,807.9 L3062.2,808 L3063.1,808.2 L3064,808.3 L3065,808.4 L3065.9,808.5 L3066.9,808.7 L3068,808.8 L3069,809 L3070.1,809.1 L3071.3,809.3 L3072.4,809.5 L3073.6,809.6 L3072.7,810.5 L3071.8,811.3 L3070.8,812.2 L3069.9,813 L3069,813.8 L3068.1,814.5 L3067.2,815.2 L3066.4,815.9 L3065.6,816.6 L3064.8,817.3 L3064,817.9 L3063.3,818.5 L3062.6,819.1 L3062,819.7 L3061.4,820.2 L3060.9,820.7 L3060.4,821.2 L3060.1,821.7 L3059.8,822.2 L3059.9,822.6 L3060,822.9 L3060.1,823.3 L3060.3,823.7 L3060.9,824.1 L3061.5,824.4 L3062.2,824.8 L3063,825.1 L3063.9,825.5 L3064.8,825.9 L3065.7,826.3 L3066.7,826.7 L3067.7,827.1 L3068.8,827.6 L3069.9,828 L3071,828.5 Z" fill="#C68CEB" filter="url(#blur2)"/><circle cx="3014" cy="829" r="44.8" fill="#CB92F2" filter="url(#blur4)"/><ellipse cx="3015" cy="826" rx="24" ry="22.3" fill="#9A74B3" filter="url(#blur2)"/><ellipse cx="3015" cy="826" rx="14.4" ry="13.2" fill="#8F6BA8" opacity="0.6" filter="url(#blur2)"/></g>
<g><path d="M2921,897 L2922.5,897.7 L2924,898.4 L2925.2,899.1 L2923.9,899.7 L2922.6,900.3 L2921.4,901 L2920.1,901.5 L2918.9,902.1 L2917.7,902.6 L2916.4,903.2 L2915.3,903.7 L2914.1,904.2 L2912.9,904.6 L2911.8,905.1 L2910.6,905.5 L2909.5,905.9 L2908.4,906.3 L2907.4,906.7 L2906.3,907.1 L2905.3,907.5 L2904.3,907.8 L2903.4,908.2 L2902.5,908.5 L2901.6,908.8 L2900.8,909.1 L2900,909.5 L2899.3,909.8 L2898.7,910.1 L2898.5,910.6 L2898.6,911.1 L2898.7,911.6 L2898.8,912.1 L2899,912.7 L2899.1,913.2 L2899.2,913.8 L2899.4,914.3 L2899.5,914.9 L2899.6,915.5 L2899.8,916 L2899.9,916.6 L2900.1,917.2 L2900.2,917.8 L2900.4,918.4 L2900.5,919 L2900.7,919.6 L2900.8,920.3 L2900.9,920.9 L2901.1,921.5 L2901.2,922.2 L2901.4,922.8 L2901.5,923.5 L2901.7,924.1 L2901.8,924.8 L2901.1,925.1 L2900.2,925.2 L2899.4,925.4 L2898.6,925.6 L2897.8,925.7 L2897,925.9 L2896.2,926 L2895.5,926.1 L2894.7,926.3 L2894,926.4 L2893.3,926.5 L2892.5,926.7 L2891.8,926.8 L2891.2,926.9 L2890.5,927 L2889.9,927.1 L2889.2,927.3 L2888.6,927.4 L2888,927.5 L2887.5,927.7 L2886.9,927.8 L2886.4,928 L2885.9,928.2 L2885.4,928.4 L2885,928.6 L2884.6,928.8 L2884.3,929.2 L2884.1,929.5 L2883.8,929.9 L2883.5,930.2 L2883.3,930.6 L2883,930.9 L2882.8,931.3 L2882.5,931.7 L2882.3,932 L2882,932.4 L2881.9,932.9 L2881.8,933.5 L2881.7,934 L2881.7,934.6 L2881.6,935.2 L2881.6,935.9 L2881.6,936.5 L2881.6,937.2 L2881.5,937.9 L2881.5,938.6 L2881.5,939.3 L2881.5,940.1 L2881.5,940.8 L2881.4,941.6 L2881.4,942.3 L2881.4,943.1 L2881.4,943.9 L2881.3,944.7 L2881.3,945.5 L2881.2,946.4 L2881.1,947.2 L2881.1,948 L2881,948.9 L2880.9,949.7 L2880.8,950.6 L2880.4,951.1 L2879.7,951 L2879,950.9 L2878.3,950.7 L2877.6,950.6 L2876.9,950.5 L2876.2,950.4 L2875.5,950.2 L2874.8,950.1 L2874.1,949.9 L2873.5,949.8 L2872.8,949.6 L2872.1,949.4 L2871.5,949.3 L2870.8,949.1 L2870.2,948.9 L2869.6,948.7 L2869,948.6 L2868.3,948.4 L2867.7,948.2 L2867.1,948 L2866.6,947.9 L2866,947.7 L2865.4,947.6 L2864.9,947.5 L2864.3,947.4 L2863.9,947.5 L2863.5,947.9 L2863.1,948.2 L2862.8,948.6 L2862.4,949 L2862,949.5 L2861.7,949.9 L2861.3,950.4 L2860.9,950.8 L2860.6,951.3 L2860.2,951.8 L2859.8,952.4 L2859.4,952.9 L2859,953.4 L2858.6,954 L2858.2,954.5 L2857.8,955.1 L2857.4,955.7 L2857,956.3 L2856.6,956.9 L2856.1,957.5 L2855.7,958.1 L2855.2,958.8 L2854.8,959.4 L2854.3,960.1 L2853.8,960.7 L2853.2,960 L2852.5,959.3 L2851.9,958.6 L2851.3,957.9 L2850.7,957.2 L2850.2,956.5 L2849.6,955.9 L2849.1,955.2 L2848.5,954.6 L2848,954 L2847.5,953.4 L2847,952.8 L2846.5,952.3 L2846,951.7 L2845.5,951.2 L2845.1,950.7 L2844.6,950.2 L2844.2,949.8 L2843.7,949.3 L2843.3,948.9 L2842.8,948.5 L2842.4,948.2 L2842,947.9 L2841.6,947.6 L2841.1,947.6 L2840.6,947.9 L2840.2,948.3 L2839.6,948.7 L2839.1,949.2 L2838.6,949.7 L2838.1,950.2 L2837.5,950.7 L2836.9,951.2 L2836.3,951.8 L2835.7,952.3 L2835.1,952.9 L2834.5,953.5 L2833.9,954.1 L2833.2,954.7 L2832.5,955.3 L2831.9,955.9 L2831.2,956.5 L2830.4,957.2 L2829.7,957.8 L2829,958.4 L2828.2,959 L2827.4,959.7 L2826.7,960.3 L2825.9,960.9 L2825.4,960.4 L2825,959.7 L2824.7,958.9 L2824.3,958.1 L2824,957.4 L2823.7,956.6 L2823.4,955.9 L2823.1,955.1 L2822.8,954.4 L2822.5,953.6 L2822.3,952.9 L2822,952.2 L2821.8,951.5 L2821.5,950.7 L2821.3,950 L2821,949.3 L2820.8,948.7 L2820.6,948 L2820.4,947.3 L2820.1,946.7 L2819.9,946 L2819.7,945.4 L2819.5,944.8 L2819.3,944.3 L2819,943.7 L2818.7,943.3 L2818.4,942.9 L2818,942.6 L2817.7,942.3 L2817.3,942 L2817,941.7 L2816.7,941.3 L2816.3,941 L2816,940.6 L2815.7,940.3 L2815.4,939.9 L2815.1,939.6 L2814.8,939.2 L2814.5,938.8 L2814.2,938.5 L2813.9,938.1 L2813.6,937.7 L2813.3,937.3 L2813.1,936.9 L2812.8,936.6 L2812.5,936.2 L2812.3,935.8 L2812,935.4 L2811.7,935 L2811.5,934.7 L2811.2,934.3 L2811,933.9 L2810.7,933.5 L2810.5,933.1 L2810.2,932.8 L2810,932.4 L2809.7,932 L2809.5,931.7 L2809.2,931.4 L2808.6,931.3 L2808,931.3 L2807.2,931.3 L2806.4,931.4 L2805.6,931.5 L2804.7,931.6 L2803.8,931.8 L2802.8,932 L2801.8,932.2 L2800.8,932.4 L2799.7,932.6 L2798.5,932.8 L2797.4,933 L2796.2,933.2 L2794.9,933.4 L2793.7,933.6 L2792.4,933.9 L2791,934.1 L2789.7,934.3 L2788.3,934.5 L2786.8,934.7 L2785.4,934.9 L2783.9,935.1 L2782.4,935.2 L2780.8,935.4 L2780.2,935 L2780.9,933.8 L2781.6,932.7 L2782.3,931.6 L2783,930.5 L2783.7,929.4 L2784.4,928.4 L2785.1,927.4 L2785.8,926.4 L2786.5,925.4 L2787.1,924.5 L2787.8,923.5 L2788.4,922.6 L2789,921.8 L2789.6,920.9 L2790.2,920.1 L2790.8,919.3 L2791.4,918.5 L2791.9,917.8 L2792.4,917 L2792.9,916.3 L2793.4,915.6 L2793.2,915.2 L2792.7,914.8 L2792.3,914.5 L2791.8,914.1 L2791.4,913.7 L2790.9,913.3 L2790.5,912.9 L2790.1,912.5 L2789.6,912.1 L2789.2,911.7 L2788.8,911.3 L2788.4,910.8 L2788.1,910.4 L2788.2,909.8 L2788.4,909.2 L2788.6,908.7 L2788.8,908.1 L2789,907.6 L2789.2,907 L2789.4,906.5 L2789.6,905.9 L2789.8,905.4 L2790.1,904.9 L2790.3,904.3 L2790.6,903.8 L2790.8,903.3 L2791.1,902.8 L2791.3,902.3 L2791.6,901.8 L2791.8,901.3 L2792.1,900.8 L2792.4,900.3 L2792.6,899.8 L2792.9,899.3 L2793.1,898.8 L2793.4,898.4 L2793.6,897.9 L2793.8,897.5 L2794,897 L2794.1,896.5 L2794.3,896.1 L2794.4,895.6 L2794.5,895.2 L2794.7,894.8 L2794.8,894.3 L2794.9,893.9 L2795.1,893.4 L2795.2,893 L2795.3,892.6 L2795.5,892.1 L2795.5,891.7 L2795.4,891.2 L2795.2,890.8 L2795.1,890.3 L2794.9,889.8 L2794.7,889.3 L2794.5,888.8 L2794.2,888.3 L2793.9,887.8 L2793.7,887.3 L2793.4,886.8 L2793,886.2 L2792.7,885.7 L2792.4,885.1 L2792,884.5 L2791.6,883.9 L2791.3,883.4 L2790.9,882.7 L2790.5,882.1 L2790,881.5 L2789.6,880.8 L2789.2,880.2 L2788.8,879.5 L2788.3,878.8 L2787.9,878.1 L2787.6,877.4 L2788.2,877.1 L2788.8,876.8 L2789.5,876.4 L2790.1,876.1 L2790.7,875.8 L2791.3,875.4 L2791.8,875.1 L2792.4,874.8 L2793,874.5 L2793.5,874.2 L2794,873.9 L2794.6,873.6 L2795.1,873.3 L2795.6,873 L2796.1,872.7 L2796.6,872.4 L2797,872.1 L2797.5,871.8 L2798,871.5 L2798.4,871.1 L2798.8,870.8 L2799.2,870.5 L2799.6,870.2 L2800,869.9 L2800.3,869.5 L2800.6,869.2 L2800.7,868.7 L2800.9,868.3 L2801.1,867.8 L2801.3,867.4 L2801.5,867 L2801.7,866.6 L2801.9,866.1 L2802.2,865.7 L2802.4,865.3 L2802.6,864.9 L2802.9,864.5 L2803.2,864.1 L2803.5,863.8 L2803.7,863.4 L2804,863 L2804.3,862.7 L2804.7,862.3 L2805,862 L2805.3,861.6 L2805.7,861.3 L2806,861 L2806.4,860.7 L2806.7,860.3 L2806.9,859.9 L2807,859.4 L2807.1,858.8 L2807.2,858.2 L2807.3,857.7 L2807.4,857 L2807.5,856.4 L2807.5,855.8 L2807.6,855.1 L2807.6,854.4 L2807.7,853.7 L2807.7,853 L2807.8,852.3 L2807.8,851.5 L2807.9,850.8 L2807.9,850 L2808,849.2 L2808.1,848.4 L2808.1,847.6 L2808.2,846.8 L2808.2,846 L2808.3,845.1 L2808.4,844.2 L2808.4,843.4 L2808.5,842.5 L2808.9,842 L2809.9,842.4 L2810.8,842.9 L2811.8,843.3 L2812.7,843.7 L2813.6,844.1 L2814.5,844.6 L2815.4,845 L2816.2,845.4 L2817,845.8 L2817.8,846.2 L2818.6,846.6 L2819.4,847 L2820.1,847.3 L2820.9,847.7 L2821.6,848 L2822.3,848.3 L2822.9,848.7 L2823.6,848.9 L2824.2,849.2 L2824.8,849.4 L2825.4,849.7 L2826,849.8 L2826.5,850 L2827,850.1 L2827.5,850.1 L2828,850 L2828.4,849.8 L2828.7,849.6 L2829.1,849.4 L2829.5,849.1 L2829.9,848.9 L2830.3,848.7 L2830.7,848.4 L2831.1,848.2 L2831.5,848 L2831.9,847.7 L2832.3,847.5 L2832.7,847.3 L2833.1,847 L2833.5,846.8 L2833.9,846.6 L2834.3,846.4 L2834.7,846.1 L2835.1,845.9 L2835.6,845.7 L2836,845.5 L2836.4,845.3 L2836.9,845.1 L2837.3,844.9 L2837.7,844.7 L2838.2,844.6 L2838.6,844.4 L2839.1,844.2 L2839.5,844.1 L2840,843.9 L2840.4,843.7 L2840.8,843.3 L2841.3,842.8 L2841.7,842.3 L2842.1,841.8 L2842.6,841.2 L2843,840.6 L2843.5,840 L2844,839.4 L2844.5,838.8 L2845,838.1 L2845.5,837.5 L2846,836.8 L2846.5,836.2 L2847.1,835.5 L2847.6,834.8 L2848.2,834.1 L2848.8,833.4 L2849.4,832.8 L2850,832.1 L2850.6,831.4 L2851.2,830.7 L2851.9,830 L2852.5,829.3 L2853.2,828.6 L2853.9,827.9 L2854.4,828.2 L2854.9,829.2 L2855.4,830.2 L2855.8,831.2 L2856.3,832.2 L2856.7,833.2 L2857.1,834.2 L2857.5,835.1 L2857.8,836.1 L2858.2,837 L2858.5,838 L2858.9,838.9 L2859.2,839.8 L2859.5,840.7 L2859.8,841.6 L2860.1,842.4 L2860.4,843.2 L2860.7,844 L2861,844.8 L2861.2,845.6 L2861.5,846.3 L2861.8,847 L2862,847.7 L2862.3,848.3 L2862.6,848.8 L2862.9,849.3 L2863.3,849.6 L2863.6,849.8 L2864,850 L2864.4,850.2 L2864.8,850.5 L2865.2,850.7 L2865.6,850.9 L2866,851.1 L2866.4,851.3 L2866.7,851.5 L2867.1,851.7 L2867.5,851.9 L2867.9,852.1 L2868.3,852.2 L2868.8,852.2 L2869.4,852.1 L2870,851.8 L2870.7,851.4 L2871.5,851.1 L2872.2,850.6 L2873,850.2 L2873.9,849.7 L2874.7,849.2 L2875.6,848.7 L2876.6,848.1 L2877.5,847.5 L2878.5,847 L2879.5,846.4 L2880.6,845.8 L2881.6,845.2 L2882.7,844.5 L2883.9,843.9 L2885,843.3 L2886.2,842.7 L2887.4,842 L2888.7,841.4 L2889.9,840.8 L2891.2,840.2 L2892.5,839.5 L2893.9,838.9 L2894,839.8 L2893.8,841 L2893.6,842.2 L2893.4,843.4 L2893.2,844.6 L2893,845.8 L2892.7,846.9 L2892.5,848 L2892.3,849.1 L2892,850.2 L2891.8,851.2 L2891.5,852.3 L2891.3,853.3 L2891,854.3 L2890.8,855.3 L2890.5,856.2 L2890.3,857.1 L2890,858 L2889.8,858.9 L2889.6,859.8 L2889.4,860.6 L2889.2,861.4 L2889,862.1 L2888.9,862.9 L2888.8,863.5 L2888.9,864.1 L2889.1,864.5 L2889.4,864.9 L2889.6,865.3 L2889.8,865.7 L2890.1,866.1 L2890.3,866.6 L2890.5,867 L2890.7,867.4 L2890.9,867.8 L2891.1,868.3 L2891.3,868.7 L2891.4,869.2 L2891.6,869.6 L2891.8,870 L2891.9,870.5 L2892,871 L2892.2,871.4 L2892.3,871.9 L2892.4,872.3 L2892.5,872.8 L2892.6,873.3 L2892.7,873.7 L2892.8,874.2 L2892.9,874.6 L2893,875.1 L2893,875.6 L2893.1,876 L2893.2,876.5 L2893.3,876.9 L2893.3,877.4 L2893.4,877.8 L2893.5,878.3 L2893.5,878.8 L2893.6,879.2 L2893.7,879.7 L2893.7,880.1 L2893.8,880.5 L2893.8,881 L2893.9,881.4 L2894,881.9 L2894.1,882.3 L2894.1,882.7 L2894.2,883.2 L2894.3,883.6 L2894.4,884 L2894.4,884.5 L2894.5,884.9 L2894.6,885.3 L2894.7,885.8 L2894.8,886.2 L2894.9,886.6 L2895,887 L2895.5,887.4 L2896.1,887.7 L2896.9,888 L2897.7,888.4 L2898.6,888.7 L2899.5,889 L2900.5,889.3 L2901.5,889.7 L2902.6,890 L2903.7,890.4 L2904.9,890.8 L2906.1,891.2 L2907.3,891.6 L2908.6,892.1 L2909.9,892.5 L2911.2,893 L2912.5,893.5 L2913.9,894 L2915.3,894.6 L2916.7,895.1 L2918.1,895.7 L2919.6,896.4 Z" fill="#A679C9" filter="url(#blur1)"/><path d="M2906.5,897 L2907.9,897.5 L2909.3,898.1 L2910.5,898.7 L2909.3,899.2 L2908.1,899.7 L2906.9,900.2 L2905.8,900.7 L2904.7,901.1 L2903.6,901.5 L2902.5,901.9 L2901.4,902.3 L2900.4,902.7 L2899.3,903.1 L2898.4,903.4 L2897.4,903.8 L2896.5,904.1 L2895.6,904.4 L2894.7,904.7 L2893.9,905 L2893.1,905.3 L2892.4,905.6 L2891.8,905.9 L2891.3,906.2 L2891,906.6 L2890.9,907 L2890.8,907.3 L2890.7,907.7 L2890.6,908.1 L2890.5,908.5 L2890.4,908.9 L2890.2,909.3 L2890.1,909.6 L2890,910 L2890,910.5 L2890,910.9 L2890.1,911.3 L2890.2,911.8 L2890.3,912.2 L2890.4,912.7 L2890.5,913.2 L2890.6,913.7 L2890.7,914.2 L2890.9,914.7 L2891,915.2 L2891.1,915.7 L2891.3,916.2 L2891.4,916.7 L2891.5,917.3 L2891.7,917.8 L2891.8,918.4 L2892,918.9 L2892.1,919.5 L2892.3,920.1 L2891.6,920.2 L2890.9,920.4 L2890.1,920.5 L2889.4,920.6 L2888.7,920.6 L2887.9,920.7 L2887.3,920.8 L2886.6,920.9 L2885.9,921 L2885.3,921.1 L2884.6,921.1 L2884,921.2 L2883.4,921.3 L2882.8,921.4 L2882.3,921.5 L2881.8,921.6 L2881.2,921.7 L2880.8,921.8 L2880.3,921.9 L2879.9,922.1 L2879.6,922.3 L2879.3,922.6 L2879.1,922.9 L2878.9,923.1 L2878.6,923.4 L2878.4,923.7 L2878.2,924 L2878,924.3 L2877.8,924.6 L2877.6,924.9 L2877.3,925.2 L2877.1,925.5 L2876.9,925.8 L2876.7,926.2 L2876.5,926.5 L2876.3,926.8 L2876.1,927.1 L2875.9,927.4 L2875.7,927.8 L2875.5,928.1 L2875.3,928.4 L2875.2,928.9 L2875.2,929.4 L2875.1,929.9 L2875.1,930.5 L2875.1,931.1 L2875.1,931.7 L2875.1,932.3 L2875.1,932.9 L2875.1,933.6 L2875.1,934.2 L2875.1,934.9 L2875.1,935.6 L2875.1,936.3 L2875.1,937.1 L2875.1,937.8 L2875.1,938.5 L2875.1,939.3 L2875,940 L2875,940.8 L2874.9,941.6 L2874.7,942 L2874.1,941.9 L2873.4,941.8 L2872.8,941.6 L2872.2,941.5 L2871.6,941.4 L2871,941.2 L2870.4,941.1 L2869.9,940.9 L2869.3,940.8 L2868.7,940.6 L2868.2,940.5 L2867.6,940.3 L2867.1,940.2 L2866.5,940 L2866,939.9 L2865.5,939.8 L2865,939.6 L2864.5,939.5 L2864,939.4 L2863.6,939.4 L2863.2,939.5 L2862.8,939.6 L2862.4,939.6 L2862,939.7 L2861.6,939.8 L2861.2,939.8 L2860.8,939.9 L2860.4,939.9 L2860,940 L2859.6,940 L2859.2,940.1 L2858.8,940.4 L2858.5,940.7 L2858.2,941 L2857.9,941.4 L2857.6,941.7 L2857.3,942.1 L2856.9,942.6 L2856.6,943 L2856.3,943.5 L2856,943.9 L2855.6,944.4 L2855.3,944.9 L2855,945.4 L2854.6,946 L2854.3,946.5 L2853.9,947.1 L2853.6,947.6 L2853.2,948.2 L2852.8,948.8 L2852.4,949.4 L2851.9,948.7 L2851.4,948 L2850.9,947.4 L2850.4,946.7 L2849.9,946.1 L2849.4,945.5 L2848.9,944.9 L2848.5,944.3 L2848,943.7 L2847.6,943.2 L2847.2,942.7 L2846.8,942.2 L2846.4,941.7 L2846,941.2 L2845.6,940.8 L2845.2,940.4 L2844.9,940 L2844.5,939.7 L2844.1,939.4 L2843.8,939.2 L2843.4,939.1 L2843.1,939.1 L2842.7,939.2 L2842.3,939.2 L2841.9,939.2 L2841.6,939.3 L2841.2,939.3 L2840.8,939.4 L2840.4,939.5 L2840,939.8 L2839.6,940.1 L2839.1,940.5 L2838.6,941 L2838.2,941.4 L2837.7,941.9 L2837.2,942.4 L2836.7,942.9 L2836.1,943.5 L2835.6,944 L2835,944.6 L2834.4,945.1 L2833.9,945.7 L2833.2,946.3 L2832.6,946.9 L2832,947.5 L2831.3,948.1 L2830.7,948.7 L2830,949.3 L2829.3,949.9 L2828.9,949.5 L2828.7,948.8 L2828.4,948.1 L2828.1,947.4 L2827.9,946.8 L2827.6,946.1 L2827.4,945.4 L2827.2,944.8 L2827,944.1 L2826.7,943.5 L2826.5,942.9 L2826.3,942.3 L2826.1,941.7 L2825.9,941.1 L2825.7,940.5 L2825.5,939.9 L2825.3,939.4 L2825.1,938.9 L2824.9,938.4 L2824.7,937.9 L2824.4,937.5 L2824.1,937.3 L2823.8,937.1 L2823.5,936.9 L2823.1,936.6 L2822.8,936.3 L2822.5,936.1 L2822.2,935.8 L2821.9,935.5 L2821.6,935.2 L2821.4,935 L2821.1,934.7 L2820.8,934.4 L2820.5,934 L2820.3,933.7 L2820,933.4 L2819.8,933.1 L2819.5,932.8 L2819.3,932.4 L2819.1,932.1 L2818.8,931.8 L2818.6,931.4 L2818.4,931.1 L2818.2,930.8 L2817.9,930.4 L2817.7,930.1 L2817.5,929.8 L2817.3,929.4 L2817.1,929.1 L2816.9,928.8 L2816.7,928.4 L2816.5,928.1 L2816.3,927.8 L2816.1,927.4 L2815.9,927.1 L2815.7,926.8 L2815.5,926.5 L2815.3,926.2 L2815.1,925.8 L2814.9,925.5 L2814.7,925.2 L2814.4,924.9 L2814.2,924.6 L2814,924.3 L2813.5,924.3 L2812.9,924.3 L2812.2,924.4 L2811.4,924.5 L2810.6,924.7 L2809.7,924.9 L2808.8,925.1 L2807.8,925.3 L2806.8,925.5 L2805.7,925.7 L2804.6,926 L2803.5,926.2 L2802.3,926.5 L2801.1,926.7 L2799.9,926.9 L2798.6,927.2 L2797.3,927.4 L2796,927.7 L2794.6,927.9 L2793.2,928.1 L2792.6,927.8 L2793.3,926.8 L2794,925.8 L2794.7,924.9 L2795.4,923.9 L2796,923 L2796.7,922.1 L2797.3,921.3 L2798,920.4 L2798.6,919.6 L2799.2,918.8 L2799.7,918.1 L2800.3,917.4 L2800.8,916.6 L2801.3,916 L2801.8,915.3 L2802.2,914.7 L2802.6,914.1 L2802.9,913.5 L2803,913.1 L2802.6,912.8 L2802.2,912.5 L2801.8,912.2 L2801.4,911.9 L2801,911.6 L2800.6,911.3 L2800.2,911 L2799.8,910.7 L2799.4,910.4 L2799,910 L2798.6,909.7 L2798.2,909.4 L2797.9,909 L2797.5,908.6 L2797.2,908.3 L2797.4,907.8 L2797.5,907.3 L2797.7,906.8 L2797.9,906.3 L2798.1,905.9 L2798.3,905.4 L2798.5,905 L2798.7,904.5 L2798.9,904 L2799.1,903.6 L2799.4,903.1 L2799.6,902.7 L2799.8,902.3 L2800,901.8 L2800.3,901.4 L2800.5,901 L2800.7,900.6 L2800.9,900.2 L2801.1,899.7 L2801.3,899.3 L2801.4,898.9 L2801.5,898.6 L2801.7,898.2 L2801.8,897.8 L2801.9,897.4 L2802,897 L2802.1,896.6 L2802.3,896.2 L2802.4,895.9 L2802.5,895.5 L2802.6,895.1 L2802.8,894.7 L2802.9,894.4 L2803,894 L2803.2,893.6 L2803.3,893.3 L2803.4,892.9 L2803.6,892.5 L2803.7,892.2 L2803.8,891.8 L2803.9,891.5 L2804.1,891.1 L2804.1,890.7 L2804,890.3 L2803.8,889.9 L2803.6,889.5 L2803.4,889.1 L2803.2,888.7 L2802.9,888.2 L2802.7,887.8 L2802.4,887.3 L2802,886.9 L2801.7,886.4 L2801.4,885.9 L2801,885.4 L2800.6,884.8 L2800.2,884.3 L2799.8,883.8 L2799.4,883.2 L2799,882.6 L2798.6,882 L2798.1,881.4 L2797.8,880.9 L2798.4,880.6 L2799,880.3 L2799.5,880.1 L2800,879.8 L2800.6,879.6 L2801.1,879.3 L2801.6,879.1 L2802.1,878.8 L2802.5,878.6 L2803,878.3 L2803.4,878.1 L2803.9,877.8 L2804.3,877.6 L2804.7,877.3 L2805.1,877 L2805.4,876.8 L2805.8,876.5 L2806.1,876.2 L2806.4,876 L2806.7,875.6 L2806.8,875.3 L2806.9,874.9 L2807,874.5 L2807.1,874.1 L2807.3,873.7 L2807.4,873.3 L2807.5,872.9 L2807.6,872.6 L2807.8,872.2 L2808,871.8 L2808.1,871.4 L2808.3,871.1 L2808.5,870.7 L2808.7,870.4 L2808.9,870 L2809.1,869.7 L2809.3,869.3 L2809.5,869 L2809.8,868.7 L2810,868.4 L2810.3,868.1 L2810.5,867.7 L2810.8,867.5 L2811.1,867.2 L2811.3,866.9 L2811.6,866.6 L2811.9,866.3 L2812.3,866.1 L2812.6,865.8 L2812.9,865.6 L2813.2,865.3 L2813.5,865.1 L2813.9,864.9 L2814.2,864.7 L2814.4,864.3 L2814.6,863.9 L2814.7,863.4 L2814.8,862.9 L2814.8,862.4 L2814.9,861.8 L2814.9,861.3 L2815,860.7 L2815,860.1 L2815,859.4 L2815.1,858.8 L2815.1,858.1 L2815.1,857.5 L2815.1,856.8 L2815.2,856.1 L2815.2,855.3 L2815.2,854.6 L2815.2,853.8 L2815.2,853.1 L2815.3,852.3 L2815.5,851.9 L2816.4,852.3 L2817.3,852.7 L2818.1,853.2 L2818.9,853.6 L2819.7,854.1 L2820.4,854.5 L2821.2,854.9 L2821.9,855.3 L2822.6,855.7 L2823.3,856.1 L2824,856.4 L2824.6,856.8 L2825.2,857.1 L2825.8,857.4 L2826.4,857.7 L2826.9,857.9 L2827.5,858.1 L2828,858.3 L2828.4,858.5 L2828.9,858.5 L2829.2,858.4 L2829.5,858.2 L2829.9,858.1 L2830.2,857.9 L2830.5,857.7 L2830.8,857.5 L2831.2,857.3 L2831.5,857.1 L2831.8,856.9 L2832.1,856.7 L2832.4,856.5 L2832.8,856.3 L2833.1,856.1 L2833.4,855.8 L2833.7,855.6 L2834.1,855.4 L2834.4,855.2 L2834.7,855 L2835.1,854.8 L2835.4,854.6 L2835.8,854.4 L2836.1,854.2 L2836.5,854 L2836.8,853.8 L2837.2,853.6 L2837.5,853.4 L2837.9,853.2 L2838.2,853 L2838.6,852.8 L2839,852.6 L2839.3,852.5 L2839.7,852.3 L2840.1,852.2 L2840.5,852 L2840.9,851.9 L2841.2,851.8 L2841.6,851.6 L2842,851.5 L2842.4,851.4 L2842.8,851.3 L2843.2,851.2 L2843.6,850.9 L2844,850.5 L2844.4,850 L2844.8,849.5 L2845.2,849 L2845.6,848.5 L2846,848 L2846.4,847.4 L2846.9,846.8 L2847.3,846.2 L2847.8,845.6 L2848.3,845 L2848.8,844.4 L2849.3,843.8 L2849.8,843.1 L2850.3,842.5 L2850.8,841.9 L2851.4,841.2 L2851.9,840.6 L2852.5,840 L2853,840.2 L2853.4,841.2 L2853.7,842.1 L2854.1,843 L2854.4,843.9 L2854.7,844.8 L2855,845.7 L2855.3,846.6 L2855.6,847.5 L2855.9,848.3 L2856.2,849.1 L2856.4,849.9 L2856.7,850.7 L2856.9,851.5 L2857.2,852.2 L2857.4,852.9 L2857.6,853.6 L2857.9,854.3 L2858.1,854.8 L2858.3,855.4 L2858.6,855.8 L2858.9,856.1 L2859.2,856.3 L2859.6,856.5 L2859.9,856.7 L2860.2,856.9 L2860.5,857.1 L2860.8,857.3 L2861.2,857.5 L2861.5,857.7 L2861.8,857.9 L2862.1,858.1 L2862.5,858.2 L2862.8,858.4 L2863.1,858.6 L2863.4,858.8 L2863.8,858.9 L2864.1,859.1 L2864.4,859.2 L2864.7,859.4 L2865.1,859.6 L2865.4,859.7 L2865.8,859.8 L2866.1,860 L2866.4,860.1 L2866.9,860.1 L2867.4,859.9 L2868,859.6 L2868.7,859.3 L2869.4,858.9 L2870.1,858.4 L2870.9,857.9 L2871.7,857.4 L2872.6,856.9 L2873.4,856.3 L2874.4,855.7 L2875.3,855.2 L2876.3,854.6 L2877.3,854 L2878.3,853.3 L2879.4,852.7 L2880.5,852.1 L2881.6,851.5 L2882.7,850.8 L2883.9,850.2 L2885.1,849.6 L2885.2,850.3 L2884.9,851.4 L2884.7,852.5 L2884.4,853.5 L2884.2,854.6 L2884,855.6 L2883.7,856.6 L2883.5,857.5 L2883.2,858.5 L2883,859.4 L2882.7,860.3 L2882.5,861.1 L2882.3,862 L2882,862.8 L2881.8,863.6 L2881.6,864.3 L2881.5,865.1 L2881.3,865.7 L2881.2,866.4 L2881.2,867 L2881.2,867.5 L2881.5,867.7 L2881.7,868.1 L2882,868.4 L2882.2,868.7 L2882.5,869 L2882.7,869.3 L2882.9,869.7 L2883.1,870 L2883.3,870.4 L2883.5,870.7 L2883.7,871.1 L2883.9,871.4 L2884,871.8 L2884.2,872.2 L2884.4,872.6 L2884.5,872.9 L2884.6,873.3 L2884.7,873.7 L2884.9,874.1 L2885,874.5 L2885.1,874.9 L2885.2,875.3 L2885.3,875.7 L2885.3,876.1 L2885.4,876.5 L2885.5,876.9 L2885.5,877.3 L2885.6,877.7 L2885.7,878.1 L2885.7,878.5 L2885.8,878.9 L2885.8,879.3 L2885.9,879.7 L2885.9,880.1 L2885.9,880.5 L2886,880.8 L2886,881.2 L2886.1,881.6 L2886.1,882 L2886.1,882.4 L2886.2,882.8 L2886.2,883.2 L2886.3,883.5 L2886.3,883.9 L2886.4,884.3 L2886.4,884.6 L2886.5,885 L2886.5,885.4 L2886.6,885.7 L2886.6,886.1 L2886.7,886.5 L2886.8,886.8 L2886.8,887.2 L2886.9,887.6 L2887,887.9 L2887.1,888.3 L2887.2,888.6 L2887.3,889 L2887.4,889.3 L2887.5,889.7 L2887.6,890 L2887.7,890.4 L2888.1,890.7 L2888.7,891 L2889.5,891.3 L2890.3,891.6 L2891.2,891.9 L2892.1,892.2 L2893.1,892.5 L2894.2,892.8 L2895.2,893.1 L2896.4,893.5 L2897.5,893.8 L2898.7,894.2 L2900,894.6 L2901.2,895.1 L2902.5,895.5 L2903.9,896 L2905.2,896.5 Z" fill="#C68CEB" filter="url(#blur2)"/><circle cx="2846" cy="897" r="41.6" fill="#CB92F2" filter="url(#blur4)"/><ellipse cx="2844" cy="895" rx="22" ry="20.5" fill="#9A74B3" filter="url(#blur2)"/><ellipse cx="2844" cy="895" rx="13.2" ry="12.1" fill="#8F6BA8" opacity="0.6" filter="url(#blur2)"/></g>
<g id="tornado">
<path d="M2901.9,1510.5 L2898.8,1510.7 L2894.9,1511 L2890.3,1511.3 L2885.1,1511.8 L2879.4,1512.3 L2873.5,1512.8 L2867.4,1513.5 L2861.2,1514.2 L2855.1,1515.1 L2849.3,1516 L2843.8,1517 L2838.8,1518.2 L2834.2,1519.6 L2829.6,1521.1 L2825.1,1522.8 L2820.7,1524.6 L2816.4,1526.5 L2812.2,1528.4 L2808.2,1530.4 L2804.4,1532.4 L2800.8,1534.5 L2797.4,1536.6 L2794.3,1538.7 L2791.5,1540.8 L2788.9,1543 L2786.6,1545.3 L2784.6,1547.7 L2782.8,1550.1 L2781.2,1552.6 L2779.9,1555.1 L2778.8,1557.7 L2778,1560.3 L2777.4,1562.9 L2777,1565.5 L2776.9,1568.1 L2777,1570.7 L2777.5,1573.4 L2778.3,1576 L2779.4,1578.6 L2780.7,1581.1 L2782.2,1583.4 L2783.8,1585.7 L2785.7,1587.9 L2787.6,1590 L2789.7,1592.1 L2791.8,1594 L2794,1595.9 L2796.4,1597.8 L2799.1,1599.7 L2802.2,1601.6 L2805.5,1603.4 L2809,1605.1 L2812.6,1606.8 L2816.1,1608.4 L2819.6,1609.9 L2822.9,1611.3 L2826,1612.6 L2828.6,1613.7 L2830.8,1614.7 L2832.5,1615.5 L2837.5,1604.5 L2835.7,1603.7 L2833.3,1602.7 L2830.6,1601.6 L2827.6,1600.3 L2824.4,1598.9 L2821,1597.5 L2817.6,1595.9 L2814.3,1594.3 L2811.1,1592.8 L2808.2,1591.2 L2805.7,1589.6 L2803.6,1588.2 L2801.7,1586.7 L2799.8,1585 L2797.9,1583.4 L2796.2,1581.7 L2794.7,1580 L2793.3,1578.3 L2792.1,1576.6 L2791,1575 L2790.2,1573.5 L2789.6,1572 L2789.2,1570.6 L2789,1569.3 L2788.8,1567.9 L2788.8,1566.4 L2789,1564.8 L2789.3,1563.2 L2789.7,1561.5 L2790.4,1559.9 L2791.2,1558.1 L2792.2,1556.4 L2793.4,1554.6 L2794.9,1552.8 L2796.6,1551 L2798.5,1549.2 L2800.8,1547.3 L2803.4,1545.2 L2806.3,1543.1 L2809.5,1541 L2812.9,1538.9 L2816.6,1536.8 L2820.4,1534.8 L2824.4,1532.8 L2828.5,1530.9 L2832.7,1529.1 L2836.9,1527.4 L2841.2,1525.8 L2845.7,1524.2 L2850.8,1522.7 L2856.4,1521.2 L2862.2,1519.8 L2868.2,1518.5 L2874.2,1517.3 L2880,1516.1 L2885.5,1515.1 L2890.6,1514.1 L2895.2,1513.1 L2899.1,1512.3 L2902.1,1511.5 Z" fill="#BFBFBF"/>
<path d="M3040.9,1499.5 L3043.8,1500.3 L3047.5,1501.2 L3051.8,1502.1 L3056.7,1503.2 L3062.1,1504.3 L3067.6,1505.5 L3073.3,1506.7 L3079,1508 L3084.6,1509.4 L3089.8,1510.8 L3094.6,1512.3 L3098.8,1513.8 L3102.8,1515.2 L3106.7,1516.7 L3110.4,1518.2 L3114.1,1519.8 L3117.6,1521.4 L3120.9,1523.1 L3124,1524.8 L3126.9,1526.6 L3129.6,1528.4 L3132.1,1530.2 L3134.3,1532.1 L3136.2,1534 L3137.9,1535.8 L3139.3,1537.7 L3140.6,1539.7 L3141.7,1541.8 L3142.7,1544 L3143.5,1546.3 L3144.2,1548.6 L3144.8,1551 L3145.2,1553.3 L3145.6,1555.7 L3145.8,1558.1 L3146,1560.4 L3146.1,1562.6 L3146.1,1564.8 L3145.9,1567 L3145.5,1569.4 L3145.1,1571.7 L3144.5,1574.1 L3143.8,1576.5 L3143.1,1578.8 L3142.3,1581.1 L3141.4,1583.3 L3140.5,1585.4 L3139.6,1587.3 L3138.8,1589.1 L3137.7,1590.8 L3136.5,1592.6 L3135.1,1594.5 L3133.6,1596.3 L3132.1,1598.1 L3130.5,1599.8 L3129,1601.4 L3127.6,1602.9 L3126.3,1604.3 L3125.2,1605.6 L3124.3,1606.6 L3131.7,1613.4 L3132.5,1612.6 L3133.6,1611.6 L3135,1610.4 L3136.5,1609 L3138.2,1607.4 L3140,1605.7 L3141.9,1603.8 L3143.8,1601.8 L3145.6,1599.7 L3147.3,1597.5 L3149,1595.1 L3150.4,1592.7 L3151.5,1590.3 L3152.5,1587.9 L3153.5,1585.3 L3154.5,1582.7 L3155.3,1579.9 L3156.1,1577.1 L3156.8,1574.3 L3157.4,1571.4 L3157.8,1568.4 L3158,1565.5 L3158.1,1562.5 L3158,1559.6 L3157.7,1556.8 L3157.3,1554 L3156.8,1551.2 L3156.1,1548.3 L3155.3,1545.4 L3154.4,1542.5 L3153.2,1539.6 L3151.8,1536.7 L3150.2,1533.9 L3148.4,1531.1 L3146.2,1528.5 L3143.8,1526 L3141.1,1523.8 L3138.3,1521.7 L3135.2,1519.8 L3132,1517.9 L3128.6,1516.2 L3125,1514.5 L3121.3,1513 L3117.5,1511.5 L3113.6,1510 L3109.5,1508.7 L3105.4,1507.4 L3101.2,1506.2 L3096.5,1505.1 L3091.3,1504.2 L3085.8,1503.3 L3080.1,1502.5 L3074.2,1501.7 L3068.4,1501 L3062.7,1500.4 L3057.3,1499.9 L3052.3,1499.4 L3047.8,1499 L3044,1498.7 L3041.1,1498.5 Z" fill="#BFBFBF"/>
<path d="M2899.8,1546.5 L2898,1546.8 L2895.7,1547.2 L2893,1547.6 L2889.9,1548.2 L2886.6,1548.8 L2883.1,1549.6 L2879.5,1550.4 L2875.9,1551.3 L2872.3,1552.4 L2868.9,1553.5 L2865.6,1554.8 L2862.6,1556.2 L2859.9,1557.9 L2857.3,1559.8 L2854.6,1561.7 L2852.1,1563.8 L2849.6,1566 L2847.2,1568.3 L2845,1570.7 L2842.9,1573.1 L2841,1575.6 L2839.4,1578.2 L2838.1,1580.9 L2837.1,1583.8 L2836.8,1586.8 L2836.9,1589.7 L2837.4,1592.5 L2838.2,1595.2 L2839.3,1597.8 L2840.6,1600.2 L2842,1602.5 L2843.7,1604.8 L2845.4,1606.9 L2847.2,1608.9 L2849.1,1610.7 L2851.1,1612.6 L2853.6,1614.4 L2856.3,1616 L2859.3,1617.6 L2862.4,1619 L2865.5,1620.3 L2868.7,1621.5 L2871.7,1622.7 L2874.7,1623.7 L2877.3,1624.6 L2879.7,1625.4 L2881.6,1626.1 L2883,1626.6 L2887,1617.4 L2885.4,1616.6 L2883.4,1615.8 L2881,1614.8 L2878.5,1613.7 L2875.7,1612.6 L2872.8,1611.3 L2870,1610.1 L2867.2,1608.7 L2864.6,1607.4 L2862.3,1606 L2860.4,1604.7 L2858.9,1603.4 L2857.4,1602.1 L2855.9,1600.6 L2854.5,1599 L2853.1,1597.4 L2852,1595.8 L2850.9,1594.2 L2850.1,1592.6 L2849.5,1591.1 L2849,1589.7 L2848.8,1588.4 L2848.7,1587.3 L2848.9,1586.2 L2849.1,1585 L2849.7,1583.4 L2850.6,1581.6 L2851.8,1579.6 L2853.2,1577.5 L2854.9,1575.4 L2856.8,1573.3 L2858.8,1571.2 L2860.9,1569.2 L2863.1,1567.2 L2865.3,1565.4 L2867.4,1563.8 L2869.6,1562.1 L2872.1,1560.5 L2875,1558.8 L2878.1,1557.3 L2881.4,1555.8 L2884.6,1554.3 L2887.9,1553 L2891,1551.7 L2893.8,1550.5 L2896.4,1549.4 L2898.5,1548.4 L2900.2,1547.5 Z" fill="#BFBFBF"/>
<path d="M3055.2,1547.3 L3056.5,1548.4 L3058.3,1549.9 L3060.4,1551.5 L3062.8,1553.3 L3065.4,1555.2 L3068.1,1557.2 L3070.8,1559.3 L3073.5,1561.3 L3076,1563.3 L3078.3,1565.3 L3080.2,1567.1 L3081.7,1568.8 L3083.1,1570.2 L3084.5,1571.6 L3085.7,1573 L3086.8,1574.3 L3087.7,1575.5 L3088.5,1576.7 L3089.1,1577.8 L3089.5,1578.8 L3089.8,1579.7 L3090,1580.5 L3090,1581.3 L3090,1581.9 L3089.9,1582.6 L3089.8,1583.4 L3089.4,1584.4 L3088.8,1585.6 L3088.1,1586.9 L3087.3,1588.3 L3086.3,1589.7 L3085.3,1591 L3084.2,1592.3 L3083.1,1593.5 L3082,1594.6 L3081.1,1595.4 L3080.4,1596.2 L3079.5,1597 L3078.4,1597.7 L3077.1,1598.5 L3075.7,1599.2 L3074.2,1599.9 L3072.8,1600.5 L3071.3,1601.1 L3070,1601.7 L3068.7,1602.2 L3067.5,1602.7 L3066.6,1603.2 L3069.4,1610.8 L3070.1,1610.7 L3071.1,1610.5 L3072.4,1610.3 L3073.9,1610.1 L3075.6,1609.8 L3077.4,1609.4 L3079.3,1608.9 L3081.2,1608.3 L3083.2,1607.6 L3085.1,1606.8 L3087.1,1605.8 L3088.9,1604.6 L3090.4,1603.2 L3091.8,1601.7 L3093.2,1600.2 L3094.6,1598.5 L3096,1596.8 L3097.2,1594.9 L3098.5,1593 L3099.5,1591 L3100.5,1588.9 L3101.3,1586.8 L3101.8,1584.4 L3102,1582.1 L3101.8,1579.8 L3101.3,1577.7 L3100.6,1575.8 L3099.7,1573.9 L3098.7,1572.1 L3097.5,1570.4 L3096.2,1568.8 L3094.8,1567.3 L3093.3,1565.8 L3091.8,1564.3 L3090.1,1562.8 L3088.3,1561.2 L3086,1559.7 L3083.5,1558.2 L3080.7,1556.5 L3077.7,1554.9 L3074.6,1553.3 L3071.5,1551.7 L3068.5,1550.1 L3065.6,1548.7 L3062.9,1547.4 L3060.4,1546.3 L3058.4,1545.4 L3056.8,1544.7 Z" fill="#BFBFBF"/>
<path d="M2922.8,1571.5 L2921.3,1571.9 L2919.4,1572.3 L2917.1,1572.9 L2914.6,1573.6 L2911.8,1574.3 L2908.9,1575.1 L2906,1576 L2903,1577 L2900.2,1577.9 L2897.6,1579 L2895.1,1580 L2893,1581.1 L2891.2,1582.4 L2889.5,1583.6 L2887.8,1585 L2886.3,1586.4 L2884.8,1587.9 L2883.5,1589.5 L2882.3,1591.1 L2881.3,1592.9 L2880.5,1594.9 L2880,1597 L2879.9,1599.2 L2880.2,1601.4 L2880.9,1603.3 L2881.7,1605 L2882.7,1606.8 L2884,1608.5 L2885.5,1610.1 L2887.3,1611.7 L2889.3,1613.3 L2891.6,1614.7 L2894.2,1616 L2897.1,1617.2 L2900.2,1618.3 L2903.7,1619.3 L2907.6,1620.2 L2911.9,1621 L2916.6,1621.7 L2921.7,1622.4 L2927,1623 L2932.5,1623.6 L2938.2,1624.1 L2943.9,1624.5 L2949.6,1624.9 L2955.2,1625.2 L2960.7,1625.4 L2965.9,1625.5 L2971,1625.5 L2976.3,1625.5 L2981.7,1625.4 L2987.2,1625.3 L2992.6,1625.1 L2998,1624.8 L3003.3,1624.4 L3008.4,1624 L3013.3,1623.4 L3018,1622.7 L3022.3,1621.8 L3026.3,1620.8 L3030.1,1619.6 L3033.6,1618.2 L3036.8,1616.6 L3039.7,1614.8 L3042.4,1612.9 L3044.8,1611 L3046.9,1609 L3048.9,1606.9 L3050.5,1605 L3052,1603 L3053.3,1601.2 L3054.4,1599.4 L3055.2,1597.4 L3055.7,1595.1 L3055.8,1592.9 L3055.6,1590.9 L3055,1589 L3054.2,1587.2 L3053.2,1585.7 L3052.2,1584.3 L3051.1,1583 L3049.9,1581.8 L3048.7,1580.6 L3047.4,1579.5 L3045.8,1578.4 L3044,1577.3 L3042,1576.4 L3039.9,1575.4 L3037.7,1574.6 L3035.6,1573.8 L3033.4,1573 L3031.4,1572.3 L3029.5,1571.7 L3027.8,1571.2 L3026.3,1570.8 L3025.2,1570.6 L3024.8,1571.4 L3025.7,1572.2 L3026.9,1573.1 L3028.4,1574 L3030.1,1575.1 L3031.9,1576.2 L3033.8,1577.4 L3035.7,1578.6 L3037.5,1579.8 L3039.2,1581.1 L3040.6,1582.3 L3041.7,1583.4 L3042.6,1584.5 L3043.4,1585.6 L3044.2,1586.7 L3045,1587.8 L3045.6,1588.8 L3046.1,1589.8 L3046.4,1590.8 L3046.6,1591.6 L3046.7,1592.3 L3046.6,1592.8 L3046.4,1593.3 L3046.1,1593.8 L3045.6,1594.6 L3044.9,1595.8 L3043.9,1597.2 L3042.8,1598.7 L3041.4,1600.2 L3039.9,1601.8 L3038.2,1603.4 L3036.3,1605 L3034.2,1606.4 L3031.9,1607.8 L3029.4,1609.1 L3026.7,1610.2 L3023.7,1611.2 L3020.2,1612 L3016.3,1612.6 L3012,1613.2 L3007.4,1613.7 L3002.5,1614 L2997.5,1614.3 L2992.2,1614.5 L2986.9,1614.6 L2981.6,1614.7 L2976.3,1614.7 L2971.1,1614.6 L2966.1,1614.5 L2961,1614.4 L2955.7,1614.2 L2950.2,1613.9 L2944.7,1613.6 L2939.1,1613.1 L2933.6,1612.6 L2928.2,1612.1 L2923.1,1611.5 L2918.2,1610.9 L2913.7,1610.2 L2909.7,1609.4 L2906.3,1608.7 L2903.4,1607.9 L2900.8,1607.1 L2898.6,1606.2 L2896.7,1605.3 L2895.1,1604.4 L2893.8,1603.5 L2892.7,1602.6 L2891.8,1601.7 L2891.1,1600.9 L2890.6,1600 L2890.1,1599.2 L2889.8,1598.6 L2889.6,1598.2 L2889.5,1597.8 L2889.4,1597.2 L2889.6,1596.4 L2890,1595.4 L2890.5,1594.3 L2891.3,1593.1 L2892.2,1591.8 L2893.2,1590.5 L2894.4,1589.3 L2895.7,1588 L2897,1586.9 L2898.5,1585.6 L2900.3,1584.3 L2902.6,1582.9 L2905,1581.6 L2907.7,1580.2 L2910.3,1578.9 L2913,1577.6 L2915.6,1576.4 L2918,1575.2 L2920.1,1574.2 L2921.9,1573.3 L2923.2,1572.5 Z" fill="#BFBFBF"/>
<path d="M2828.1,1609.7 L2831.2,1610.9 L2835,1612.5 L2839.6,1614.4 L2844.7,1616.5 L2850.3,1618.8 L2856.4,1621.2 L2862.9,1623.6 L2869.7,1626 L2876.7,1628.3 L2883.9,1630.4 L2891.3,1632.3 L2898.7,1633.9 L2906.3,1635 L2914.3,1636 L2922.6,1636.9 L2931.2,1637.6 L2940,1638.3 L2949,1638.8 L2957.9,1639.2 L2966.8,1639.6 L2975.5,1639.8 L2984,1639.9 L2992.2,1640 L3000.1,1640 L3007.6,1639.8 L3015.1,1639.5 L3022.5,1639.1 L3029.7,1638.6 L3036.8,1638 L3043.7,1637.3 L3050.5,1636.5 L3057,1635.7 L3063.4,1634.8 L3069.5,1633.9 L3075.5,1632.9 L3081.2,1631.9 L3086.8,1630.6 L3092.4,1629.1 L3097.8,1627.5 L3103,1625.8 L3108,1624.1 L3112.7,1622.3 L3117.1,1620.6 L3121.2,1618.9 L3124.9,1617.4 L3128.1,1616 L3130.9,1614.8 L3133.2,1613.8 L3130.8,1606.2 L3128.3,1606.7 L3125.2,1607.5 L3121.8,1608.4 L3117.9,1609.5 L3113.8,1610.6 L3109.3,1611.8 L3104.6,1613.1 L3099.7,1614.3 L3094.6,1615.4 L3089.4,1616.5 L3084.1,1617.4 L3078.8,1618.1 L3073.3,1618.9 L3067.5,1619.7 L3061.5,1620.4 L3055.3,1621.1 L3048.9,1621.8 L3042.3,1622.3 L3035.6,1622.9 L3028.7,1623.3 L3021.7,1623.6 L3014.5,1623.9 L3007.3,1624 L2999.9,1624 L2992.3,1624 L2984.2,1623.9 L2975.9,1623.8 L2967.3,1623.6 L2958.6,1623.2 L2949.8,1622.8 L2941.1,1622.3 L2932.5,1621.7 L2924.1,1621 L2916.1,1620.1 L2908.4,1619.2 L2901.3,1618.1 L2894.5,1617 L2887.7,1615.6 L2880.8,1613.9 L2874,1612 L2867.4,1610.1 L2861.1,1608 L2855.1,1606 L2849.4,1604.1 L2844.2,1602.3 L2839.5,1600.6 L2835.3,1599.3 L2831.9,1598.3 Z" fill="#BFBFBF"/>
<path d="M2920,1642 L2922.9,1642.4 L2926.5,1642.8 L2930.7,1643.2 L2935.5,1643.6 L2940.7,1644.1 L2946.2,1644.6 L2951.9,1645 L2957.7,1645.5 L2963.5,1645.9 L2969.2,1646.3 L2974.7,1646.7 L2980,1647 L2985.1,1646.9 L2990.4,1646.9 L2995.7,1646.7 L3001.2,1646.6 L3006.6,1646.4 L3011.9,1646.2 L3017.2,1646.1 L3022.3,1645.9 L3027.2,1645.6 L3031.8,1645.4 L3036.1,1645.2 L3040.1,1645 L3043.8,1644.7 L3047.2,1644.4 L3050.5,1644 L3053.5,1643.7 L3056.3,1643.3 L3058.9,1642.9 L3061.3,1642.6 L3063.5,1642.2 L3065.4,1641.9 L3067.2,1641.6 L3068.7,1641.3 L3070.1,1641 L3069.9,1639 L3068.6,1638.9 L3067,1638.9 L3065.2,1638.9 L3063.2,1638.9 L3061,1638.9 L3058.6,1638.9 L3056,1639 L3053.2,1639 L3050.2,1639 L3046.9,1639 L3043.5,1639 L3039.9,1639 L3036,1639 L3031.6,1639.1 L3027,1639.1 L3022.1,1639.2 L3017.1,1639.2 L3011.8,1639.3 L3006.5,1639.3 L3001.1,1639.3 L2995.7,1639.2 L2990.3,1639.2 L2985.1,1639.1 L2980,1639 L2974.9,1639.2 L2969.4,1639.3 L2963.7,1639.4 L2957.9,1639.5 L2952.1,1639.5 L2946.3,1639.6 L2940.8,1639.6 L2935.6,1639.6 L2930.9,1639.7 L2926.6,1639.8 L2922.9,1639.9 L2920,1640 Z" fill="#BFBFBF"/>
<path d="M2856,1645.7 L2858.8,1646.9 L2862.2,1648.5 L2866.2,1650.4 L2870.8,1652.5 L2875.9,1654.7 L2881.4,1657 L2887.1,1659.4 L2893.2,1661.7 L2899.4,1663.9 L2905.7,1666 L2912,1667.8 L2918.4,1669.4 L2924.7,1670.3 L2931.2,1671.2 L2937.9,1671.8 L2944.6,1672.4 L2951.5,1672.8 L2958.5,1673.2 L2965.5,1673.4 L2972.5,1673.6 L2979.5,1673.6 L2986.5,1673.7 L2993.4,1673.6 L3000.2,1673.5 L3007.1,1673.1 L3014.1,1672.7 L3021.3,1672.1 L3028.5,1671.5 L3035.8,1670.8 L3042.9,1670 L3050,1669.2 L3056.9,1668.3 L3063.5,1667.3 L3069.8,1666.2 L3075.8,1665.1 L3081.4,1663.9 L3086.6,1662.3 L3091.7,1660.5 L3096.4,1658.5 L3100.9,1656.4 L3105,1654.3 L3108.8,1652.2 L3112.4,1650.1 L3115.5,1648.1 L3118.4,1646.2 L3120.9,1644.5 L3123,1643.1 L3124.8,1641.8 L3123.2,1638.2 L3121,1638.6 L3118.4,1639.4 L3115.5,1640.4 L3112.3,1641.5 L3108.9,1642.7 L3105.2,1644 L3101.2,1645.2 L3097,1646.5 L3092.7,1647.6 L3088.2,1648.6 L3083.5,1649.5 L3078.6,1650.1 L3073.4,1650.9 L3067.7,1651.5 L3061.6,1652.1 L3055.1,1652.7 L3048.4,1653.2 L3041.6,1653.6 L3034.5,1653.9 L3027.5,1654.2 L3020.4,1654.4 L3013.4,1654.5 L3006.5,1654.5 L2999.8,1654.5 L2993.2,1654.6 L2986.4,1654.7 L2979.6,1654.6 L2972.8,1654.6 L2966,1654.4 L2959.3,1654.2 L2952.6,1653.9 L2946,1653.5 L2939.6,1652.9 L2933.4,1652.3 L2927.4,1651.5 L2921.6,1650.6 L2916,1649.8 L2910.1,1648.7 L2904.2,1647.4 L2898.3,1645.8 L2892.4,1644.2 L2886.6,1642.5 L2881.1,1640.7 L2876,1639.1 L2871.2,1637.6 L2866.9,1636.2 L2863.1,1635.1 L2860,1634.3 Z" fill="#BFBFBF"/>
<path d="M2883.4,1676.7 L2886.3,1678.1 L2889.9,1679.8 L2894.2,1681.8 L2899,1684 L2904.4,1686.4 L2910.1,1688.9 L2916.2,1691.4 L2922.5,1693.9 L2928.9,1696.2 L2935.5,1698.4 L2942,1700.3 L2948.5,1701.9 L2955.1,1702.8 L2961.9,1703.6 L2968.8,1704.2 L2976,1704.7 L2983.2,1705 L2990.4,1705.2 L2997.6,1705.4 L3004.6,1705.4 L3011.5,1705.4 L3018.1,1705.3 L3024.4,1705.2 L3030.3,1705 L3036,1704.5 L3041.5,1704 L3046.9,1703.3 L3052.1,1702.6 L3057.1,1701.8 L3061.9,1700.9 L3066.6,1700 L3071,1699 L3075.2,1698 L3079.2,1697 L3082.9,1695.9 L3086.5,1694.8 L3089.9,1693.4 L3093.1,1691.9 L3096,1690.3 L3098.5,1688.6 L3100.9,1686.9 L3102.9,1685.2 L3104.8,1683.6 L3106.3,1682.1 L3107.7,1680.6 L3108.9,1679.3 L3109.9,1678.2 L3110.8,1677.3 L3109.2,1674.7 L3107.9,1675.1 L3106.4,1675.6 L3104.7,1676.3 L3102.9,1677.1 L3101,1678 L3098.9,1678.9 L3096.8,1679.8 L3094.4,1680.6 L3091.9,1681.4 L3089.3,1682.1 L3086.5,1682.7 L3083.5,1683.2 L3080.2,1683.7 L3076.5,1684.3 L3072.7,1684.8 L3068.6,1685.2 L3064.4,1685.7 L3059.9,1686.1 L3055.3,1686.4 L3050.5,1686.7 L3045.5,1686.9 L3040.4,1687 L3035.1,1687 L3029.7,1687 L3023.9,1687.2 L3017.8,1687.3 L3011.3,1687.4 L3004.6,1687.4 L2997.8,1687.4 L2990.8,1687.3 L2983.9,1687 L2977,1686.7 L2970.2,1686.3 L2963.7,1685.7 L2957.4,1685 L2951.5,1684.1 L2945.7,1683.3 L2939.6,1682.2 L2933.4,1680.8 L2927.2,1679.3 L2921,1677.5 L2914.9,1675.7 L2909.1,1673.9 L2903.6,1672.2 L2898.5,1670.6 L2893.9,1669.2 L2889.9,1668.1 L2886.6,1667.3 Z" fill="#BFBFBF"/>
<path d="M2921.8,1716.5 L2923.3,1717.5 L2925.2,1718.7 L2927.4,1720.2 L2930,1721.9 L2932.8,1723.7 L2935.9,1725.6 L2939.3,1727.5 L2942.8,1729.4 L2946.5,1731.3 L2950.3,1733 L2954.2,1734.5 L2958.2,1735.8 L2962.4,1736.5 L2966.6,1737.1 L2971,1737.6 L2975.6,1737.9 L2980.1,1738.1 L2984.7,1738.3 L2989.3,1738.4 L2993.8,1738.4 L2998.2,1738.4 L3002.4,1738.3 L3006.4,1738.2 L3010.2,1738 L3013.9,1737.6 L3017.5,1737.1 L3021,1736.6 L3024.4,1736 L3027.7,1735.3 L3030.8,1734.6 L3033.8,1733.8 L3036.6,1733 L3039.3,1732.2 L3041.7,1731.4 L3044,1730.6 L3046.1,1729.9 L3048,1729 L3049.7,1728.1 L3051.2,1727.1 L3052.5,1726.1 L3053.5,1725.1 L3054.3,1724.1 L3055,1723.1 L3055.5,1722.3 L3055.9,1721.5 L3056.1,1720.8 L3056.4,1720.3 L3056.6,1719.8 L3055.4,1718.2 L3054.7,1718.4 L3054,1718.7 L3053.3,1719.1 L3052.6,1719.5 L3051.9,1719.9 L3051.1,1720.3 L3050.2,1720.7 L3049.2,1721 L3048.2,1721.3 L3047,1721.6 L3045.6,1721.9 L3043.9,1722.1 L3042,1722.4 L3039.7,1722.7 L3037.3,1722.9 L3034.7,1723.2 L3032,1723.5 L3029.1,1723.7 L3026.1,1723.9 L3023,1724 L3019.8,1724.1 L3016.5,1724.2 L3013.2,1724.1 L3009.8,1724 L3006.2,1724 L3002.3,1723.9 L2998.3,1723.9 L2994,1723.7 L2989.7,1723.6 L2985.4,1723.3 L2981.1,1723 L2976.8,1722.6 L2972.7,1722.1 L2968.8,1721.6 L2965.1,1720.9 L2961.8,1720.2 L2958.6,1719.6 L2955.3,1718.8 L2951.9,1717.8 L2948.5,1716.6 L2945.1,1715.4 L2941.8,1714 L2938.6,1712.7 L2935.7,1711.3 L2932.9,1710.1 L2930.3,1709 L2928.1,1708.1 L2926.2,1707.5 Z" fill="#BFBFBF"/>
<path d="M2923.7,1744.8 L2925.3,1745.5 L2927.2,1746.4 L2929.5,1747.4 L2932.1,1748.6 L2934.9,1749.8 L2938,1751.1 L2941.3,1752.5 L2944.7,1753.8 L2948.2,1755 L2951.8,1756.1 L2955.5,1757.1 L2959.1,1757.9 L2962.8,1758.3 L2966.6,1758.6 L2970.6,1758.9 L2974.7,1759 L2978.9,1759.1 L2983,1759.1 L2987.2,1759.1 L2991.2,1759 L2995.1,1758.8 L2998.8,1758.6 L3002.2,1758.3 L3005.5,1758 L3008.5,1757.3 L3011.4,1756.5 L3014.2,1755.5 L3016.7,1754.5 L3019.1,1753.5 L3021.3,1752.4 L3023.3,1751.3 L3025.1,1750.3 L3026.7,1749.3 L3028.1,1748.4 L3029.3,1747.6 L3030.3,1747 L3029.7,1745 L3028.4,1745.1 L3026.9,1745.3 L3025.3,1745.6 L3023.4,1745.9 L3021.4,1746.3 L3019.3,1746.7 L3017.1,1747.1 L3014.8,1747.5 L3012.3,1747.8 L3009.8,1748 L3007.2,1748.1 L3004.5,1748 L3001.6,1748.2 L2998.3,1748.3 L2994.8,1748.3 L2991,1748.3 L2987.2,1748.2 L2983.2,1748.1 L2979.2,1748 L2975.3,1747.7 L2971.4,1747.4 L2967.7,1747 L2964.2,1746.6 L2960.9,1746.1 L2957.8,1745.7 L2954.5,1745.1 L2951.2,1744.4 L2947.9,1743.6 L2944.6,1742.7 L2941.4,1741.7 L2938.3,1740.8 L2935.4,1739.9 L2932.7,1739 L2930.2,1738.3 L2928.1,1737.6 L2926.3,1737.2 Z" fill="#BFBFBF"/>
<path d="M2923.3,1767.6 L2924.6,1768.5 L2926.3,1769.6 L2928.3,1770.9 L2930.5,1772.3 L2933.1,1773.8 L2935.8,1775.4 L2938.6,1777 L2941.5,1778.6 L2944.5,1780.1 L2947.5,1781.5 L2950.4,1782.8 L2953.4,1783.8 L2956.3,1784.2 L2959.2,1784.6 L2962,1784.8 L2964.9,1784.9 L2967.8,1784.9 L2970.6,1784.8 L2973.3,1784.7 L2976,1784.4 L2978.6,1784.2 L2981.1,1783.8 L2983.5,1783.4 L2985.8,1782.9 L2988.1,1782.2 L2990.3,1781.2 L2992.3,1780.2 L2994.3,1779.1 L2996.1,1777.9 L2997.7,1776.7 L2999.2,1775.6 L3000.6,1774.5 L3001.8,1773.4 L3002.9,1772.4 L3003.7,1771.6 L3004.4,1770.9 L3003.6,1769.1 L3002.5,1769.2 L3001.3,1769.5 L2999.9,1769.9 L2998.4,1770.4 L2996.7,1770.9 L2995,1771.4 L2993.3,1771.9 L2991.4,1772.3 L2989.6,1772.7 L2987.8,1772.9 L2986,1773.1 L2984.2,1773.1 L2982.3,1773.1 L2980.2,1773.2 L2977.9,1773.2 L2975.6,1773.1 L2973.2,1773 L2970.8,1772.8 L2968.4,1772.6 L2965.9,1772.2 L2963.5,1771.8 L2961.1,1771.4 L2958.8,1770.8 L2956.6,1770.2 L2954.4,1769.8 L2951.8,1769.3 L2949.1,1768.5 L2946.3,1767.6 L2943.4,1766.5 L2940.5,1765.5 L2937.7,1764.4 L2935,1763.3 L2932.5,1762.4 L2930.3,1761.5 L2928.3,1760.8 L2926.7,1760.4 Z" fill="#BFBFBF"/>
<ellipse cx="2967" cy="1602" rx="42" ry="12" fill="#BFBFBF"/>
<path d="M2922,1790 L2967,1790 L2948,1824 Z" fill="#BFBFBF"/>
</g>
<circle cx="3049" cy="1527" r="15" fill="#F4474A"/>
<circle cx="3115" cy="1588" r="21" fill="#0F7A2F"/>
<circle cx="2818" cy="1584" r="16" fill="#FDB646"/>
<circle cx="2881" cy="1656" r="15" fill="#F4474A"/>
<circle cx="3021" cy="1644" r="17" fill="#FDB646"/>
<circle cx="3053" cy="1673" r="12" fill="#0F7A2F"/>
<circle cx="2935" cy="1697" r="11" fill="#0F7A2F"/>
<circle cx="3005" cy="1688" r="6" fill="#E0506A"/>
<circle cx="2970" cy="1734" r="9" fill="#FDB646"/>
<circle cx="2994" cy="1754" r="11" fill="#0F7A2F"/>
<circle cx="2962" cy="1773" r="5" fill="#E0506A"/>
<g id="labels">
<text x="275" y="572" font-size="55.5">S-protein</text>
<text x="62" y="677" font-size="55">Viral</text>
<text x="60" y="747" font-size="55">genome</text>
<text x="122" y="913" font-size="56">M</text>
<text x="124" y="1055" font-size="55">E</text>
<text x="224" y="1347" font-size="55">N</text>
<text x="1263" y="1174.5" font-size="64">ANG 1,9</text>
<text x="1673" y="1174.5" font-size="64">ANG I</text>
<text x="1261" y="1363.5" font-size="64">ANG 1,7</text>
<text x="1673" y="1365" font-size="64">ANG II</text>
<text x="2392" y="1616.5" font-size="65">AT1R</text>
<text text-anchor="middle" x="2564" y="743" font-size="63">Activated</text>
<text text-anchor="middle" x="2565.5" y="822" font-size="63">macrophage</text>
<text text-anchor="middle" x="648" y="1752" font-size="64">Binding of</text>
<text text-anchor="middle" x="645" y="1830" font-size="64">S-protein to</text>
<text text-anchor="middle" x="645" y="1909" font-size="64">ACE2</text>
<text x="1525" y="1827" font-size="63.5">ACE2</text>
<text text-anchor="middle" x="2210" y="1813" font-size="63">Gene expression</text>
<text text-anchor="middle" x="2210" y="1892" font-size="63">of inflammatory</text>
<text text-anchor="middle" x="2210" y="1970.5" font-size="63">cytokines</text>
<text text-anchor="middle" x="2992" y="1918" font-size="63">Cytokine storm</text>
</g>
</g></svg>
</body></html>
